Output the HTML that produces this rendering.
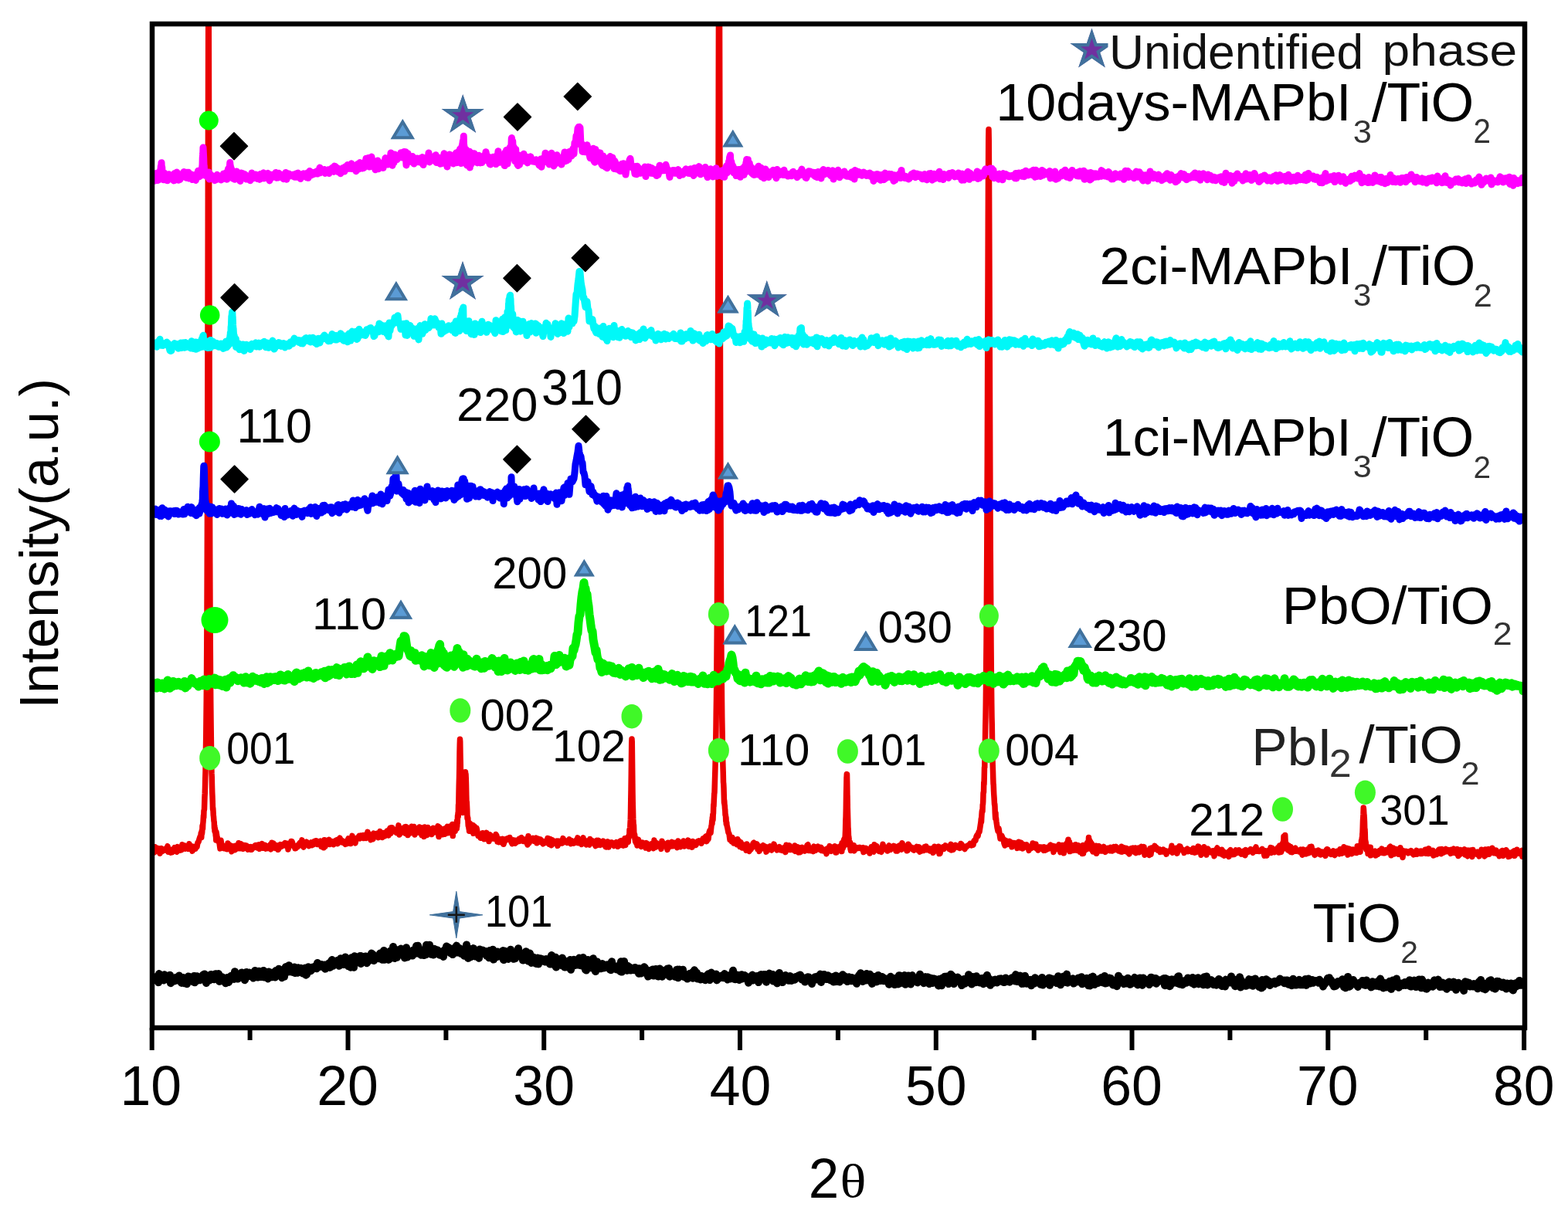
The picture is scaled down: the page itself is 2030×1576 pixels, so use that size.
<!DOCTYPE html>
<html><head><meta charset="utf-8"><title>XRD patterns</title>
<style>html,body{margin:0;padding:0;background:#fff;width:2030px;height:1576px;overflow:hidden}svg{display:block;filter:blur(0.6px)}</style>
</head><body>
<svg width="2030" height="1576" viewBox="0 0 2030 1576">
<defs><clipPath id="c"><rect x="197" y="31" width="1777" height="1300"/></clipPath></defs>
<rect width="2030" height="1576" fill="#fff"/>
<g clip-path="url(#c)">
<polyline points="199.00,1265.1 200.00,1269.1 201.00,1269.0 202.00,1266.3 203.00,1267.7 204.00,1266.5 205.00,1272.2 206.00,1261.1 207.00,1263.5 208.00,1262.6 209.00,1266.5 210.00,1265.5 211.00,1266.1 212.00,1269.4 213.00,1262.3 214.00,1264.5 215.00,1266.3 216.00,1263.6 217.00,1268.5 218.00,1268.6 219.00,1265.8 220.00,1262.8 221.00,1273.2 222.00,1269.7 223.00,1269.5 224.00,1268.4 225.00,1268.1 226.00,1270.5 227.00,1267.9 228.00,1265.7 229.00,1269.4 230.00,1267.1 231.00,1264.3 232.00,1263.5 233.00,1269.4 234.00,1268.4 235.00,1272.9 236.00,1266.0 237.00,1265.9 238.00,1269.9 239.00,1273.3 240.00,1270.8 241.00,1270.1 242.00,1274.2 243.00,1266.1 244.00,1264.4 245.00,1265.7 246.00,1266.7 247.00,1268.5 248.00,1270.2 249.00,1268.1 250.00,1271.2 251.00,1263.9 252.00,1272.3 253.00,1264.3 254.00,1270.4 255.00,1264.3 256.00,1268.3 257.00,1267.7 258.00,1268.8 259.00,1269.3 260.00,1266.2 261.00,1266.4 262.00,1267.2 263.00,1262.3 264.00,1264.1 265.00,1261.4 266.00,1266.3 267.00,1273.0 268.00,1268.6 269.00,1263.8 270.00,1264.3 271.00,1269.5 272.00,1265.2 273.00,1261.9 274.00,1263.7 275.00,1263.7 276.00,1263.5 277.00,1268.3 278.00,1266.2 279.00,1261.2 280.00,1263.7 281.00,1261.6 282.00,1261.6 283.00,1261.0 284.00,1270.9 285.00,1265.0 286.00,1267.9 287.00,1269.0 288.00,1265.3 289.00,1268.1 290.00,1268.2 291.00,1267.3 292.00,1273.3 293.00,1267.7 294.00,1266.1 295.00,1268.7 296.00,1272.0 297.00,1269.7 298.00,1265.2 299.00,1264.0 300.00,1263.5 301.00,1264.0 302.00,1266.9 303.00,1267.9 304.00,1258.2 305.00,1264.7 306.00,1261.5 307.00,1266.9 308.00,1267.6 309.00,1262.6 310.00,1263.7 311.00,1262.2 312.00,1265.8 313.00,1259.4 314.00,1260.4 315.00,1261.2 316.00,1266.5 317.00,1269.3 318.00,1262.6 319.00,1258.9 320.00,1262.9 321.00,1260.2 322.00,1264.2 323.00,1259.6 324.00,1261.8 325.00,1262.9 326.00,1264.4 327.00,1262.6 328.00,1266.6 329.00,1263.2 330.00,1257.0 331.00,1264.9 332.00,1260.9 333.00,1259.4 334.00,1265.6 335.00,1257.8 336.00,1261.0 337.00,1258.7 338.00,1265.0 339.00,1259.9 340.00,1261.8 341.00,1257.0 342.00,1265.6 343.00,1258.2 344.00,1264.3 345.00,1265.0 346.00,1265.5 347.00,1267.4 348.00,1258.4 349.00,1263.2 350.00,1262.4 351.00,1263.3 352.00,1265.3 353.00,1262.4 354.00,1259.2 355.00,1261.0 356.00,1265.6 357.00,1257.1 358.00,1260.5 359.00,1257.0 360.00,1263.2 361.00,1254.8 362.00,1258.6 363.00,1259.2 364.00,1259.8 365.00,1266.2 366.00,1263.7 367.00,1255.6 368.00,1264.8 369.00,1254.4 370.00,1252.0 371.00,1252.8 372.00,1257.7 373.00,1258.6 374.00,1250.2 375.00,1258.0 376.00,1255.8 377.00,1258.6 378.00,1255.2 379.00,1258.9 380.00,1257.7 381.00,1252.4 382.00,1260.1 383.00,1256.3 384.00,1258.0 385.00,1259.8 386.00,1253.2 387.00,1256.0 388.00,1254.0 389.00,1253.8 390.00,1257.3 391.00,1257.5 392.00,1260.4 393.00,1260.4 394.00,1256.1 395.00,1253.6 396.00,1262.7 397.00,1262.0 398.00,1254.9 399.00,1252.2 400.00,1253.4 401.00,1255.1 402.00,1257.4 403.00,1256.7 404.00,1254.8 405.00,1252.5 406.00,1253.5 407.00,1251.7 408.00,1252.9 409.00,1252.4 410.00,1254.3 411.00,1246.9 412.00,1251.7 413.00,1251.8 414.00,1249.0 415.00,1251.8 416.00,1248.9 417.00,1249.9 418.00,1250.9 419.00,1250.8 420.00,1249.6 421.00,1254.7 422.00,1251.5 423.00,1251.7 424.00,1251.1 425.00,1248.0 426.00,1247.3 427.00,1252.9 428.00,1249.0 429.00,1244.4 430.00,1243.0 431.00,1250.9 432.00,1247.4 433.00,1249.2 434.00,1247.2 435.00,1247.3 436.00,1247.7 437.00,1243.7 438.00,1247.6 439.00,1250.8 440.00,1249.7 441.00,1241.3 442.00,1242.4 443.00,1242.2 444.00,1245.6 445.00,1249.0 446.00,1246.9 447.00,1239.4 448.00,1245.3 449.00,1247.5 450.00,1243.2 451.00,1251.3 452.00,1242.4 453.00,1248.8 454.00,1252.7 455.00,1240.2 456.00,1243.5 457.00,1246.7 458.00,1252.8 459.00,1238.3 460.00,1246.6 461.00,1245.6 462.00,1242.7 463.00,1240.8 464.00,1241.6 465.00,1242.0 466.00,1238.1 467.00,1248.0 468.00,1238.1 469.00,1240.4 470.00,1239.3 471.00,1240.1 472.00,1241.7 473.00,1238.4 474.00,1240.2 475.00,1247.3 476.00,1244.7 477.00,1239.6 478.00,1243.9 479.00,1237.5 480.00,1241.0 481.00,1234.6 482.00,1235.4 483.00,1236.3 484.00,1244.0 485.00,1240.0 486.00,1241.0 487.00,1239.4 488.00,1240.0 489.00,1240.1 490.00,1241.2 491.00,1238.8 492.00,1234.6 493.00,1234.8 494.00,1242.2 495.00,1242.7 496.00,1239.3 497.00,1230.9 498.00,1242.8 499.00,1237.9 500.00,1236.2 501.00,1236.5 502.00,1235.0 503.00,1242.9 504.00,1242.4 505.00,1231.8 506.00,1234.8 507.00,1236.4 508.00,1239.8 509.00,1226.1 510.00,1238.3 511.00,1241.1 512.00,1233.7 513.00,1234.9 514.00,1239.8 515.00,1236.6 516.00,1229.9 517.00,1230.1 518.00,1230.3 519.00,1228.5 520.00,1233.4 521.00,1231.2 522.00,1233.5 523.00,1236.2 524.00,1240.5 525.00,1234.8 526.00,1227.2 527.00,1239.6 528.00,1233.6 529.00,1238.2 530.00,1231.8 531.00,1234.3 532.00,1232.4 533.00,1232.5 534.00,1237.5 535.00,1230.4 536.00,1233.6 537.00,1233.9 538.00,1231.7 539.00,1225.0 540.00,1234.6 541.00,1224.7 542.00,1227.7 543.00,1231.6 544.00,1235.0 545.00,1236.6 546.00,1236.3 547.00,1235.2 548.00,1231.4 549.00,1237.1 550.00,1231.4 551.00,1236.4 552.00,1223.8 553.00,1228.6 554.00,1230.0 555.00,1232.2 556.00,1223.7 557.00,1235.3 558.00,1235.6 559.00,1234.5 560.00,1229.3 561.00,1236.5 562.00,1228.7 563.00,1233.9 564.00,1230.4 565.00,1230.6 566.00,1230.2 567.00,1230.9 568.00,1235.2 569.00,1236.6 570.00,1236.8 571.00,1235.0 572.00,1234.4 573.00,1233.8 574.00,1238.9 575.00,1230.9 576.00,1229.9 577.00,1232.2 578.00,1225.5 579.00,1230.6 580.00,1231.0 581.00,1227.1 582.00,1229.0 583.00,1234.1 584.00,1230.9 585.00,1232.3 586.00,1236.1 587.00,1230.2 588.00,1227.9 589.00,1231.8 590.00,1233.2 591.00,1224.6 592.00,1233.6 593.00,1229.7 594.00,1229.5 595.00,1227.9 596.00,1230.6 597.00,1235.1 598.00,1233.6 599.00,1234.8 600.00,1230.4 601.00,1237.8 602.00,1236.7 603.00,1231.8 604.00,1223.4 605.00,1232.2 606.00,1240.9 607.00,1232.2 608.00,1228.8 609.00,1239.3 610.00,1230.8 611.00,1235.2 612.00,1236.4 613.00,1228.1 614.00,1234.3 615.00,1238.4 616.00,1232.9 617.00,1236.7 618.00,1234.0 619.00,1237.8 620.00,1240.7 621.00,1229.5 622.00,1232.3 623.00,1234.7 624.00,1231.1 625.00,1230.5 626.00,1232.5 627.00,1233.0 628.00,1231.8 629.00,1235.7 630.00,1237.8 631.00,1237.9 632.00,1238.0 633.00,1240.3 634.00,1231.0 635.00,1236.0 636.00,1236.9 637.00,1238.0 638.00,1229.7 639.00,1242.6 640.00,1232.0 641.00,1236.1 642.00,1237.9 643.00,1239.2 644.00,1232.5 645.00,1233.1 646.00,1236.5 647.00,1237.3 648.00,1238.7 649.00,1235.4 650.00,1233.2 651.00,1231.1 652.00,1243.0 653.00,1231.6 654.00,1239.4 655.00,1237.8 656.00,1239.7 657.00,1240.4 658.00,1241.9 659.00,1236.7 660.00,1238.4 661.00,1229.7 662.00,1237.2 663.00,1233.7 664.00,1236.6 665.00,1241.8 666.00,1237.5 667.00,1241.2 668.00,1236.3 669.00,1238.5 670.00,1235.4 671.00,1228.3 672.00,1234.8 673.00,1237.0 674.00,1239.1 675.00,1239.0 676.00,1239.0 677.00,1243.6 678.00,1242.3 679.00,1238.3 680.00,1243.0 681.00,1232.2 682.00,1238.5 683.00,1238.9 684.00,1244.6 685.00,1237.9 686.00,1234.6 687.00,1241.0 688.00,1246.9 689.00,1239.9 690.00,1240.3 691.00,1239.9 692.00,1240.8 693.00,1245.5 694.00,1247.9 695.00,1242.3 696.00,1240.6 697.00,1248.4 698.00,1242.3 699.00,1242.6 700.00,1241.5 701.00,1242.1 702.00,1244.3 703.00,1242.3 704.00,1245.0 705.00,1243.8 706.00,1245.6 707.00,1242.1 708.00,1242.9 709.00,1244.7 710.00,1244.2 711.00,1244.5 712.00,1248.6 713.00,1240.4 714.00,1237.1 715.00,1247.0 716.00,1243.3 717.00,1249.3 718.00,1243.8 719.00,1239.7 720.00,1252.5 721.00,1246.0 722.00,1243.0 723.00,1242.1 724.00,1247.2 725.00,1242.8 726.00,1246.9 727.00,1250.0 728.00,1240.6 729.00,1244.6 730.00,1248.0 731.00,1252.6 732.00,1250.0 733.00,1244.9 734.00,1252.2 735.00,1245.5 736.00,1246.4 737.00,1248.5 738.00,1243.0 739.00,1255.7 740.00,1251.6 741.00,1248.0 742.00,1245.0 743.00,1242.8 744.00,1248.6 745.00,1249.9 746.00,1245.8 747.00,1246.6 748.00,1249.5 749.00,1247.3 750.00,1240.6 751.00,1250.1 752.00,1248.6 753.00,1250.5 754.00,1245.0 755.00,1240.0 756.00,1243.3 757.00,1249.1 758.00,1255.7 759.00,1256.6 760.00,1249.3 761.00,1242.9 762.00,1247.1 763.00,1250.0 764.00,1250.1 765.00,1248.9 766.00,1253.5 767.00,1245.5 768.00,1241.2 769.00,1246.2 770.00,1245.4 771.00,1258.0 772.00,1249.6 773.00,1245.4 774.00,1252.8 775.00,1254.2 776.00,1250.8 777.00,1251.3 778.00,1254.3 779.00,1252.5 780.00,1248.1 781.00,1252.5 782.00,1253.5 783.00,1251.3 784.00,1253.0 785.00,1251.8 786.00,1249.3 787.00,1250.0 788.00,1253.0 789.00,1249.3 790.00,1255.6 791.00,1256.2 792.00,1245.3 793.00,1252.3 794.00,1250.2 795.00,1250.9 796.00,1253.8 797.00,1253.0 798.00,1255.4 799.00,1254.5 800.00,1254.6 801.00,1250.6 802.00,1252.0 803.00,1258.0 804.00,1245.3 805.00,1258.6 806.00,1250.9 807.00,1256.6 808.00,1244.9 809.00,1251.1 810.00,1255.6 811.00,1253.6 812.00,1256.8 813.00,1251.0 814.00,1252.4 815.00,1252.4 816.00,1256.4 817.00,1256.5 818.00,1254.9 819.00,1254.6 820.00,1254.8 821.00,1256.2 822.00,1252.9 823.00,1255.8 824.00,1255.6 825.00,1254.4 826.00,1254.3 827.00,1260.8 828.00,1254.2 829.00,1257.5 830.00,1260.5 831.00,1258.6 832.00,1256.3 833.00,1259.5 834.00,1252.3 835.00,1253.3 836.00,1256.3 837.00,1257.3 838.00,1258.1 839.00,1264.6 840.00,1264.1 841.00,1258.9 842.00,1259.9 843.00,1256.5 844.00,1260.3 845.00,1255.4 846.00,1263.6 847.00,1257.6 848.00,1260.7 849.00,1254.9 850.00,1262.9 851.00,1260.4 852.00,1264.6 853.00,1259.2 854.00,1254.4 855.00,1257.1 856.00,1255.9 857.00,1264.7 858.00,1258.1 859.00,1257.8 860.00,1261.9 861.00,1260.9 862.00,1261.7 863.00,1258.7 864.00,1254.4 865.00,1256.5 866.00,1254.1 867.00,1264.7 868.00,1263.8 869.00,1260.1 870.00,1263.3 871.00,1263.6 872.00,1263.7 873.00,1263.6 874.00,1264.9 875.00,1262.7 876.00,1255.8 877.00,1255.6 878.00,1266.3 879.00,1264.3 880.00,1255.6 881.00,1263.1 882.00,1259.9 883.00,1260.9 884.00,1255.7 885.00,1264.9 886.00,1262.4 887.00,1265.1 888.00,1265.9 889.00,1266.5 890.00,1267.6 891.00,1263.6 892.00,1263.4 893.00,1260.8 894.00,1264.4 895.00,1262.2 896.00,1259.4 897.00,1266.7 898.00,1265.3 899.00,1256.3 900.00,1257.9 901.00,1262.9 902.00,1259.7 903.00,1267.5 904.00,1264.5 905.00,1265.8 906.00,1267.1 907.00,1268.5 908.00,1263.8 909.00,1266.7 910.00,1265.7 911.00,1267.6 912.00,1266.7 913.00,1269.3 914.00,1266.5 915.00,1263.3 916.00,1265.0 917.00,1261.2 918.00,1265.5 919.00,1269.1 920.00,1262.7 921.00,1259.5 922.00,1264.3 923.00,1263.0 924.00,1264.5 925.00,1262.8 926.00,1264.9 927.00,1261.6 928.00,1269.4 929.00,1264.1 930.00,1266.3 931.00,1267.0 932.00,1264.3 933.00,1266.1 934.00,1264.0 935.00,1263.3 936.00,1264.1 937.00,1266.3 938.00,1261.1 939.00,1262.3 940.00,1262.7 941.00,1263.5 942.00,1268.5 943.00,1264.7 944.00,1263.7 945.00,1264.8 946.00,1267.4 947.00,1261.7 948.00,1267.0 949.00,1256.8 950.00,1261.0 951.00,1268.1 952.00,1268.2 953.00,1264.0 954.00,1262.4 955.00,1266.4 956.00,1262.9 957.00,1269.0 958.00,1268.1 959.00,1267.1 960.00,1262.2 961.00,1267.6 962.00,1263.8 963.00,1263.8 964.00,1263.2 965.00,1264.0 966.00,1266.2 967.00,1267.7 968.00,1268.1 969.00,1272.7 970.00,1265.3 971.00,1270.2 972.00,1264.5 973.00,1265.7 974.00,1262.6 975.00,1269.5 976.00,1266.4 977.00,1265.8 978.00,1265.1 979.00,1268.2 980.00,1263.9 981.00,1266.7 982.00,1272.1 983.00,1265.0 984.00,1263.4 985.00,1262.1 986.00,1267.5 987.00,1265.1 988.00,1262.4 989.00,1262.1 990.00,1264.9 991.00,1262.1 992.00,1271.7 993.00,1265.0 994.00,1265.3 995.00,1265.9 996.00,1260.6 997.00,1261.6 998.00,1264.7 999.00,1265.6 1000.00,1261.9 1001.00,1270.6 1002.00,1267.1 1003.00,1269.9 1004.00,1269.8 1005.00,1265.8 1006.00,1273.4 1007.00,1267.4 1008.00,1261.3 1009.00,1259.9 1010.00,1267.0 1011.00,1269.6 1012.00,1267.1 1013.00,1272.1 1014.00,1265.8 1015.00,1268.2 1016.00,1268.5 1017.00,1263.0 1018.00,1266.8 1019.00,1266.8 1020.00,1269.2 1021.00,1269.7 1022.00,1269.2 1023.00,1264.1 1024.00,1268.8 1025.00,1270.0 1026.00,1266.5 1027.00,1268.2 1028.00,1267.9 1029.00,1268.7 1030.00,1265.0 1031.00,1265.8 1032.00,1265.2 1033.00,1265.1 1034.00,1263.4 1035.00,1264.5 1036.00,1262.4 1037.00,1265.5 1038.00,1268.4 1039.00,1268.5 1040.00,1269.1 1041.00,1266.8 1042.00,1271.6 1043.00,1266.3 1044.00,1270.0 1045.00,1268.9 1046.00,1265.3 1047.00,1265.4 1048.00,1269.7 1049.00,1267.6 1050.00,1268.2 1051.00,1274.0 1052.00,1269.0 1053.00,1267.6 1054.00,1269.3 1055.00,1265.3 1056.00,1266.5 1057.00,1268.4 1058.00,1264.6 1059.00,1266.9 1060.00,1266.5 1061.00,1267.3 1062.00,1261.6 1063.00,1272.0 1064.00,1266.3 1065.00,1268.0 1066.00,1263.1 1067.00,1262.1 1068.00,1266.1 1069.00,1265.1 1070.00,1268.0 1071.00,1263.4 1072.00,1263.2 1073.00,1267.2 1074.00,1268.5 1075.00,1269.4 1076.00,1266.8 1077.00,1267.9 1078.00,1264.9 1079.00,1271.5 1080.00,1271.2 1081.00,1271.3 1082.00,1263.4 1083.00,1271.1 1084.00,1266.5 1085.00,1270.3 1086.00,1269.6 1087.00,1271.5 1088.00,1266.8 1089.00,1265.8 1090.00,1263.3 1091.00,1262.3 1092.00,1267.9 1093.00,1263.9 1094.00,1269.0 1095.00,1266.2 1096.00,1266.1 1097.00,1271.0 1098.00,1270.7 1099.00,1265.2 1100.00,1267.7 1101.00,1268.2 1102.00,1270.2 1103.00,1266.0 1104.00,1267.0 1105.00,1268.0 1106.00,1270.4 1107.00,1271.1 1108.00,1266.8 1109.00,1273.8 1110.00,1269.5 1111.00,1265.7 1112.00,1263.2 1113.00,1266.1 1114.00,1260.3 1115.00,1267.6 1116.00,1268.8 1117.00,1271.0 1118.00,1268.7 1119.00,1262.2 1120.00,1266.5 1121.00,1269.5 1122.00,1261.0 1123.00,1265.1 1124.00,1269.5 1125.00,1267.9 1126.00,1261.8 1127.00,1266.4 1128.00,1267.8 1129.00,1273.9 1130.00,1266.2 1131.00,1264.7 1132.00,1268.0 1133.00,1268.1 1134.00,1268.8 1135.00,1271.4 1136.00,1266.9 1137.00,1262.9 1138.00,1267.1 1139.00,1267.1 1140.00,1270.0 1141.00,1269.6 1142.00,1265.0 1143.00,1269.5 1144.00,1270.3 1145.00,1266.8 1146.00,1270.3 1147.00,1268.1 1148.00,1268.2 1149.00,1267.4 1150.00,1270.3 1151.00,1274.8 1152.00,1268.8 1153.00,1264.7 1154.00,1267.6 1155.00,1266.6 1156.00,1269.4 1157.00,1268.0 1158.00,1275.1 1159.00,1270.6 1160.00,1273.9 1161.00,1266.2 1162.00,1267.6 1163.00,1274.4 1164.00,1263.2 1165.00,1268.7 1166.00,1263.6 1167.00,1272.9 1168.00,1264.1 1169.00,1267.4 1170.00,1267.7 1171.00,1263.1 1172.00,1274.8 1173.00,1267.4 1174.00,1272.8 1175.00,1265.7 1176.00,1263.4 1177.00,1268.4 1178.00,1268.3 1179.00,1274.5 1180.00,1264.6 1181.00,1263.1 1182.00,1265.9 1183.00,1269.2 1184.00,1270.2 1185.00,1266.5 1186.00,1268.0 1187.00,1270.9 1188.00,1272.4 1189.00,1267.2 1190.00,1269.2 1191.00,1261.7 1192.00,1265.6 1193.00,1269.7 1194.00,1268.3 1195.00,1267.8 1196.00,1273.2 1197.00,1267.5 1198.00,1265.1 1199.00,1269.0 1200.00,1269.2 1201.00,1265.3 1202.00,1271.8 1203.00,1274.1 1204.00,1267.4 1205.00,1266.6 1206.00,1269.1 1207.00,1273.1 1208.00,1267.7 1209.00,1267.3 1210.00,1267.7 1211.00,1270.3 1212.00,1270.2 1213.00,1269.1 1214.00,1273.2 1215.00,1276.4 1216.00,1267.9 1217.00,1272.8 1218.00,1270.4 1219.00,1276.2 1220.00,1266.7 1221.00,1268.2 1222.00,1269.4 1223.00,1264.7 1224.00,1268.3 1225.00,1271.0 1226.00,1264.5 1227.00,1269.2 1228.00,1274.1 1229.00,1266.9 1230.00,1266.0 1231.00,1261.8 1232.00,1268.5 1233.00,1264.0 1234.00,1270.6 1235.00,1274.0 1236.00,1270.7 1237.00,1266.6 1238.00,1271.0 1239.00,1267.6 1240.00,1265.6 1241.00,1267.5 1242.00,1269.9 1243.00,1268.2 1244.00,1271.1 1245.00,1276.1 1246.00,1271.7 1247.00,1272.3 1248.00,1267.9 1249.00,1273.7 1250.00,1270.6 1251.00,1272.5 1252.00,1267.0 1253.00,1269.9 1254.00,1262.2 1255.00,1268.2 1256.00,1266.8 1257.00,1266.3 1258.00,1274.6 1259.00,1264.9 1260.00,1268.9 1261.00,1268.9 1262.00,1270.8 1263.00,1272.2 1264.00,1264.2 1265.00,1267.4 1266.00,1267.1 1267.00,1271.5 1268.00,1272.4 1269.00,1268.5 1270.00,1268.3 1271.00,1267.1 1272.00,1270.8 1273.00,1274.2 1274.00,1269.9 1275.00,1266.2 1276.00,1265.4 1277.00,1265.3 1278.00,1262.8 1279.00,1273.3 1280.00,1268.6 1281.00,1267.8 1282.00,1275.8 1283.00,1270.1 1284.00,1273.9 1285.00,1270.4 1286.00,1272.9 1287.00,1269.9 1288.00,1268.6 1289.00,1271.0 1290.00,1271.7 1291.00,1272.5 1292.00,1269.6 1293.00,1268.0 1294.00,1267.4 1295.00,1269.2 1296.00,1267.3 1297.00,1268.2 1298.00,1271.3 1299.00,1271.8 1300.00,1272.1 1301.00,1268.7 1302.00,1266.4 1303.00,1271.2 1304.00,1270.4 1305.00,1268.7 1306.00,1270.1 1307.00,1271.7 1308.00,1268.6 1309.00,1270.4 1310.00,1266.3 1311.00,1268.6 1312.00,1266.7 1313.00,1264.9 1314.00,1270.4 1315.00,1262.1 1316.00,1268.7 1317.00,1271.1 1318.00,1269.9 1319.00,1263.9 1320.00,1269.5 1321.00,1263.6 1322.00,1266.7 1323.00,1273.9 1324.00,1270.4 1325.00,1273.7 1326.00,1266.8 1327.00,1263.8 1328.00,1267.7 1329.00,1273.7 1330.00,1272.5 1331.00,1272.9 1332.00,1269.1 1333.00,1269.2 1334.00,1268.8 1335.00,1276.2 1336.00,1269.5 1337.00,1274.4 1338.00,1268.7 1339.00,1273.5 1340.00,1266.2 1341.00,1268.1 1342.00,1270.8 1343.00,1268.1 1344.00,1268.7 1345.00,1269.5 1346.00,1268.4 1347.00,1274.8 1348.00,1273.6 1349.00,1266.0 1350.00,1275.5 1351.00,1270.3 1352.00,1270.4 1353.00,1270.1 1354.00,1273.3 1355.00,1272.9 1356.00,1269.0 1357.00,1270.6 1358.00,1266.4 1359.00,1275.8 1360.00,1267.6 1361.00,1267.3 1362.00,1267.7 1363.00,1270.1 1364.00,1271.8 1365.00,1268.3 1366.00,1269.3 1367.00,1268.1 1368.00,1273.0 1369.00,1269.9 1370.00,1264.2 1371.00,1273.8 1372.00,1270.4 1373.00,1275.3 1374.00,1267.4 1375.00,1267.6 1376.00,1268.3 1377.00,1264.4 1378.00,1267.3 1379.00,1271.9 1380.00,1270.5 1381.00,1261.6 1382.00,1272.7 1383.00,1270.1 1384.00,1271.7 1385.00,1269.6 1386.00,1270.3 1387.00,1270.1 1388.00,1270.2 1389.00,1267.2 1390.00,1273.6 1391.00,1271.4 1392.00,1271.8 1393.00,1271.7 1394.00,1269.7 1395.00,1270.4 1396.00,1266.5 1397.00,1271.3 1398.00,1271.3 1399.00,1269.7 1400.00,1265.2 1401.00,1274.3 1402.00,1269.7 1403.00,1270.1 1404.00,1269.2 1405.00,1268.3 1406.00,1268.8 1407.00,1266.7 1408.00,1268.3 1409.00,1276.2 1410.00,1273.8 1411.00,1276.5 1412.00,1268.9 1413.00,1265.4 1414.00,1267.2 1415.00,1264.6 1416.00,1274.7 1417.00,1274.9 1418.00,1271.4 1419.00,1272.1 1420.00,1271.9 1421.00,1270.2 1422.00,1272.9 1423.00,1267.7 1424.00,1269.5 1425.00,1270.5 1426.00,1265.9 1427.00,1268.1 1428.00,1272.4 1429.00,1272.1 1430.00,1263.9 1431.00,1273.6 1432.00,1271.9 1433.00,1273.1 1434.00,1270.4 1435.00,1272.3 1436.00,1266.5 1437.00,1269.6 1438.00,1266.9 1439.00,1268.4 1440.00,1273.8 1441.00,1275.5 1442.00,1271.0 1443.00,1269.9 1444.00,1273.8 1445.00,1273.2 1446.00,1277.2 1447.00,1273.0 1448.00,1263.7 1449.00,1270.5 1450.00,1269.0 1451.00,1267.2 1452.00,1270.0 1453.00,1269.8 1454.00,1268.6 1455.00,1274.2 1456.00,1270.8 1457.00,1270.9 1458.00,1270.3 1459.00,1273.6 1460.00,1266.7 1461.00,1273.8 1462.00,1269.5 1463.00,1274.8 1464.00,1274.6 1465.00,1271.8 1466.00,1268.9 1467.00,1271.1 1468.00,1271.3 1469.00,1265.8 1470.00,1269.2 1471.00,1268.1 1472.00,1274.4 1473.00,1275.4 1474.00,1268.1 1475.00,1268.8 1476.00,1266.4 1477.00,1271.1 1478.00,1272.8 1479.00,1275.7 1480.00,1266.5 1481.00,1273.1 1482.00,1270.1 1483.00,1268.6 1484.00,1270.0 1485.00,1269.0 1486.00,1272.8 1487.00,1271.7 1488.00,1275.1 1489.00,1269.9 1490.00,1265.7 1491.00,1268.2 1492.00,1272.1 1493.00,1266.6 1494.00,1268.8 1495.00,1272.7 1496.00,1267.0 1497.00,1273.7 1498.00,1272.2 1499.00,1269.5 1500.00,1270.9 1501.00,1269.2 1502.00,1269.3 1503.00,1269.3 1504.00,1270.0 1505.00,1269.5 1506.00,1267.6 1507.00,1267.0 1508.00,1276.2 1509.00,1266.9 1510.00,1269.8 1511.00,1274.0 1512.00,1273.6 1513.00,1268.7 1514.00,1277.2 1515.00,1276.7 1516.00,1270.8 1517.00,1268.3 1518.00,1273.6 1519.00,1270.8 1520.00,1270.2 1521.00,1268.4 1522.00,1268.7 1523.00,1270.7 1524.00,1273.2 1525.00,1264.6 1526.00,1264.2 1527.00,1274.4 1528.00,1269.3 1529.00,1274.2 1530.00,1272.2 1531.00,1275.3 1532.00,1274.0 1533.00,1270.2 1534.00,1270.2 1535.00,1271.4 1536.00,1272.8 1537.00,1268.9 1538.00,1266.4 1539.00,1271.5 1540.00,1271.2 1541.00,1271.1 1542.00,1268.4 1543.00,1273.0 1544.00,1265.9 1545.00,1269.5 1546.00,1274.7 1547.00,1267.3 1548.00,1272.1 1549.00,1272.3 1550.00,1272.4 1551.00,1266.2 1552.00,1274.4 1553.00,1272.0 1554.00,1272.9 1555.00,1272.2 1556.00,1271.3 1557.00,1274.7 1558.00,1275.2 1559.00,1265.2 1560.00,1268.5 1561.00,1270.4 1562.00,1264.5 1563.00,1275.5 1564.00,1268.9 1565.00,1273.0 1566.00,1272.2 1567.00,1271.2 1568.00,1269.1 1569.00,1271.3 1570.00,1272.9 1571.00,1275.2 1572.00,1272.0 1573.00,1271.2 1574.00,1271.4 1575.00,1275.7 1576.00,1272.4 1577.00,1269.3 1578.00,1267.9 1579.00,1270.7 1580.00,1269.6 1581.00,1271.4 1582.00,1277.0 1583.00,1275.4 1584.00,1273.6 1585.00,1273.9 1586.00,1277.5 1587.00,1268.6 1588.00,1273.0 1589.00,1270.7 1590.00,1271.7 1591.00,1271.4 1592.00,1270.1 1593.00,1272.6 1594.00,1264.4 1595.00,1271.7 1596.00,1273.0 1597.00,1268.3 1598.00,1268.4 1599.00,1277.2 1600.00,1269.0 1601.00,1270.7 1602.00,1269.5 1603.00,1269.9 1604.00,1269.7 1605.00,1265.3 1606.00,1278.4 1607.00,1269.4 1608.00,1273.0 1609.00,1271.9 1610.00,1276.4 1611.00,1274.8 1612.00,1276.4 1613.00,1276.8 1614.00,1275.7 1615.00,1273.2 1616.00,1275.7 1617.00,1268.1 1618.00,1275.4 1619.00,1274.7 1620.00,1273.6 1621.00,1268.8 1622.00,1276.8 1623.00,1270.8 1624.00,1274.7 1625.00,1267.4 1626.00,1272.3 1627.00,1270.9 1628.00,1270.4 1629.00,1270.7 1630.00,1277.9 1631.00,1272.4 1632.00,1273.8 1633.00,1279.4 1634.00,1269.0 1635.00,1278.1 1636.00,1272.7 1637.00,1272.2 1638.00,1272.6 1639.00,1268.2 1640.00,1268.8 1641.00,1269.8 1642.00,1271.3 1643.00,1274.9 1644.00,1276.0 1645.00,1271.6 1646.00,1273.8 1647.00,1273.9 1648.00,1271.9 1649.00,1273.3 1650.00,1270.7 1651.00,1273.9 1652.00,1271.4 1653.00,1272.0 1654.00,1272.5 1655.00,1272.0 1656.00,1269.4 1657.00,1267.5 1658.00,1271.3 1659.00,1269.8 1660.00,1269.9 1661.00,1271.2 1662.00,1269.6 1663.00,1273.2 1664.00,1273.2 1665.00,1269.4 1666.00,1273.4 1667.00,1269.6 1668.00,1274.7 1669.00,1274.5 1670.00,1272.8 1671.00,1275.6 1672.00,1276.1 1673.00,1274.5 1674.00,1267.7 1675.00,1273.6 1676.00,1273.8 1677.00,1275.6 1678.00,1270.3 1679.00,1275.4 1680.00,1274.1 1681.00,1273.9 1682.00,1268.8 1683.00,1269.6 1684.00,1275.3 1685.00,1274.1 1686.00,1271.6 1687.00,1275.3 1688.00,1273.1 1689.00,1271.2 1690.00,1268.0 1691.00,1275.9 1692.00,1272.4 1693.00,1273.5 1694.00,1267.4 1695.00,1271.1 1696.00,1273.6 1697.00,1271.9 1698.00,1270.3 1699.00,1269.0 1700.00,1272.8 1701.00,1270.9 1702.00,1270.8 1703.00,1270.8 1704.00,1270.0 1705.00,1271.1 1706.00,1270.5 1707.00,1272.7 1708.00,1268.7 1709.00,1269.8 1710.00,1272.8 1711.00,1271.8 1712.00,1272.4 1713.00,1277.6 1714.00,1273.5 1715.00,1274.3 1716.00,1272.5 1717.00,1271.3 1718.00,1269.6 1719.00,1266.8 1720.00,1268.5 1721.00,1266.2 1722.00,1270.0 1723.00,1268.9 1724.00,1271.1 1725.00,1274.2 1726.00,1273.4 1727.00,1277.5 1728.00,1277.1 1729.00,1277.0 1730.00,1276.1 1731.00,1273.9 1732.00,1271.1 1733.00,1273.6 1734.00,1271.6 1735.00,1271.9 1736.00,1273.9 1737.00,1269.6 1738.00,1268.2 1739.00,1274.1 1740.00,1278.2 1741.00,1276.0 1742.00,1279.3 1743.00,1268.0 1744.00,1270.0 1745.00,1264.9 1746.00,1269.3 1747.00,1277.7 1748.00,1277.0 1749.00,1269.4 1750.00,1271.6 1751.00,1270.3 1752.00,1269.0 1753.00,1272.4 1754.00,1272.4 1755.00,1273.9 1756.00,1274.6 1757.00,1276.1 1758.00,1277.9 1759.00,1273.4 1760.00,1272.7 1761.00,1273.2 1762.00,1274.2 1763.00,1272.3 1764.00,1269.9 1765.00,1271.5 1766.00,1275.4 1767.00,1270.3 1768.00,1275.9 1769.00,1269.5 1770.00,1275.4 1771.00,1275.3 1772.00,1272.9 1773.00,1273.4 1774.00,1272.8 1775.00,1278.4 1776.00,1272.2 1777.00,1271.3 1778.00,1274.6 1779.00,1276.8 1780.00,1274.5 1781.00,1273.1 1782.00,1276.7 1783.00,1271.5 1784.00,1271.5 1785.00,1270.2 1786.00,1277.6 1787.00,1267.5 1788.00,1270.3 1789.00,1274.9 1790.00,1275.5 1791.00,1279.5 1792.00,1275.6 1793.00,1273.0 1794.00,1278.6 1795.00,1277.8 1796.00,1278.2 1797.00,1278.0 1798.00,1276.5 1799.00,1270.8 1800.00,1271.9 1801.00,1280.9 1802.00,1275.1 1803.00,1269.5 1804.00,1275.1 1805.00,1277.7 1806.00,1275.9 1807.00,1274.6 1808.00,1267.5 1809.00,1274.4 1810.00,1273.6 1811.00,1278.8 1812.00,1274.2 1813.00,1274.3 1814.00,1273.4 1815.00,1274.6 1816.00,1276.1 1817.00,1274.0 1818.00,1272.9 1819.00,1271.9 1820.00,1275.9 1821.00,1274.5 1822.00,1274.6 1823.00,1271.0 1824.00,1272.7 1825.00,1269.2 1826.00,1277.3 1827.00,1277.6 1828.00,1274.9 1829.00,1273.0 1830.00,1275.0 1831.00,1269.6 1832.00,1270.4 1833.00,1278.1 1834.00,1271.8 1835.00,1275.1 1836.00,1273.3 1837.00,1268.4 1838.00,1273.3 1839.00,1277.8 1840.00,1279.3 1841.00,1268.6 1842.00,1270.8 1843.00,1273.8 1844.00,1278.5 1845.00,1279.2 1846.00,1280.3 1847.00,1280.7 1848.00,1274.4 1849.00,1272.6 1850.00,1278.3 1851.00,1274.7 1852.00,1275.6 1853.00,1274.4 1854.00,1274.0 1855.00,1277.7 1856.00,1271.7 1857.00,1269.3 1858.00,1272.2 1859.00,1274.3 1860.00,1273.3 1861.00,1273.9 1862.00,1268.6 1863.00,1272.0 1864.00,1278.0 1865.00,1274.4 1866.00,1272.7 1867.00,1277.8 1868.00,1272.6 1869.00,1276.3 1870.00,1274.4 1871.00,1274.8 1872.00,1276.9 1873.00,1280.8 1874.00,1278.2 1875.00,1272.1 1876.00,1271.6 1877.00,1274.2 1878.00,1275.0 1879.00,1277.9 1880.00,1276.2 1881.00,1277.0 1882.00,1271.6 1883.00,1276.9 1884.00,1278.4 1885.00,1281.8 1886.00,1278.9 1887.00,1276.6 1888.00,1272.7 1889.00,1276.0 1890.00,1276.1 1891.00,1275.7 1892.00,1276.6 1893.00,1277.7 1894.00,1277.5 1895.00,1282.9 1896.00,1273.2 1897.00,1271.2 1898.00,1276.9 1899.00,1271.9 1900.00,1274.8 1901.00,1275.0 1902.00,1272.8 1903.00,1277.5 1904.00,1277.0 1905.00,1275.5 1906.00,1276.8 1907.00,1277.5 1908.00,1274.0 1909.00,1276.7 1910.00,1275.4 1911.00,1275.0 1912.00,1273.6 1913.00,1280.2 1914.00,1276.1 1915.00,1271.1 1916.00,1277.0 1917.00,1269.0 1918.00,1276.7 1919.00,1278.3 1920.00,1280.2 1921.00,1276.4 1922.00,1273.6 1923.00,1281.4 1924.00,1278.6 1925.00,1279.2 1926.00,1274.7 1927.00,1277.3 1928.00,1270.2 1929.00,1277.0 1930.00,1269.3 1931.00,1272.5 1932.00,1271.5 1933.00,1279.5 1934.00,1279.1 1935.00,1274.9 1936.00,1280.6 1937.00,1277.4 1938.00,1270.8 1939.00,1275.2 1940.00,1270.9 1941.00,1275.9 1942.00,1276.4 1943.00,1272.8 1944.00,1277.5 1945.00,1278.3 1946.00,1272.5 1947.00,1276.9 1948.00,1275.0 1949.00,1274.5 1950.00,1280.5 1951.00,1273.5 1952.00,1274.7 1953.00,1275.7 1954.00,1277.7 1955.00,1278.4 1956.00,1273.4 1957.00,1280.3 1958.00,1281.8 1959.00,1282.4 1960.00,1277.0 1961.00,1275.0 1962.00,1273.3 1963.00,1277.6 1964.00,1276.4 1965.00,1276.4 1966.00,1274.7 1967.00,1270.0 1968.00,1275.6 1969.00,1275.8 1970.00,1275.1 1971.00,1271.8 1972.00,1275.0 1973.00,1275.3" fill="none" stroke="#000000" stroke-width="10.00" stroke-linejoin="round" stroke-linecap="round"/>
<polyline points="199.00,1102.7 200.00,1103.7 201.00,1096.8 202.00,1101.2 203.00,1102.0 204.00,1101.4 205.00,1098.5 206.00,1102.8 207.00,1105.2 208.00,1100.4 209.00,1098.7 210.00,1102.6 211.00,1100.7 212.00,1100.9 213.00,1101.2 214.00,1099.5 215.00,1100.6 216.00,1098.8 217.00,1095.7 218.00,1103.3 219.00,1101.5 220.00,1100.6 221.00,1104.2 222.00,1100.4 223.00,1103.6 224.00,1102.8 225.00,1100.0 226.00,1097.6 227.00,1101.9 228.00,1101.2 229.00,1103.1 230.00,1096.6 231.00,1100.2 232.00,1101.0 233.00,1101.2 234.00,1100.4 235.00,1100.6 236.00,1093.8 237.00,1098.6 238.00,1097.4 239.00,1094.9 240.00,1099.1 241.00,1097.8 242.00,1095.8 243.00,1095.1 244.00,1099.4 245.00,1092.7 246.00,1098.0 247.00,1095.2 248.00,1098.0 249.00,1102.2 250.00,1099.5 251.00,1096.4 252.00,1099.4 253.00,1099.3 254.00,1095.9 255.00,1096.7 256.00,1091.1 257.00,1090.3 258.00,1086.8 259.00,1083.8 260.00,1081.8 260.25,1078.9 260.50,1079.7 260.75,1084.5 261.00,1079.6 261.25,1076.1 261.50,1079.6 261.75,1077.4 262.00,1069.5 262.25,1068.7 262.50,1073.0 262.75,1066.7 263.00,1064.6 263.25,1060.3 263.50,1055.9 263.75,1058.4 264.00,1049.9 264.25,1049.3 264.50,1048.1 264.75,1039.7 265.00,1031.9 265.25,1027.4 265.50,1019.5 265.75,1008.0 266.00,999.4 266.25,983.4 266.50,967.5 266.75,953.2 267.00,929.2 267.25,906.5 267.50,876.4 267.75,838.1 268.00,793.2 268.25,723.9 268.50,646.0 268.75,546.1 269.00,421.7 269.25,286.3 269.50,132.0 269.75,15.8 270.00,-30.1 270.25,22.1 270.50,133.1 270.75,279.2 271.00,427.3 271.25,545.6 271.50,641.7 271.75,729.0 272.00,790.8 272.25,833.9 272.50,873.5 272.75,908.0 273.00,931.1 273.25,950.7 273.50,968.8 273.75,991.0 274.00,1001.4 274.25,1006.4 274.50,1017.6 274.75,1026.0 275.00,1031.5 275.25,1038.2 275.50,1048.0 275.75,1046.4 276.00,1050.2 276.25,1055.7 276.50,1057.3 276.75,1060.8 277.00,1063.5 277.25,1064.4 277.50,1072.3 277.75,1069.4 278.00,1076.3 278.25,1072.4 278.50,1073.8 278.75,1078.2 279.00,1078.2 279.25,1082.2 279.50,1082.9 279.75,1088.1 280.00,1077.6 281.00,1083.8 282.00,1088.7 283.00,1090.0 284.00,1091.8 285.00,1098.9 286.00,1088.3 287.00,1096.3 288.00,1094.5 289.00,1095.5 290.00,1098.6 291.00,1095.8 292.00,1098.2 293.00,1099.6 294.00,1099.7 295.00,1092.0 296.00,1095.3 297.00,1093.9 298.00,1095.3 299.00,1097.0 300.00,1102.8 301.00,1095.7 302.00,1096.5 303.00,1096.6 304.00,1100.8 305.00,1095.3 306.00,1098.0 307.00,1099.0 308.00,1098.4 309.00,1091.8 310.00,1093.6 311.00,1098.8 312.00,1092.8 313.00,1097.0 314.00,1094.0 315.00,1099.2 316.00,1098.3 317.00,1094.6 318.00,1097.6 319.00,1095.0 320.00,1095.9 321.00,1100.1 322.00,1097.1 323.00,1096.8 324.00,1100.1 325.00,1096.7 326.00,1100.1 327.00,1098.0 328.00,1097.9 329.00,1096.6 330.00,1095.1 331.00,1094.4 332.00,1094.4 333.00,1097.9 334.00,1097.4 335.00,1093.9 336.00,1099.2 337.00,1094.4 338.00,1095.1 339.00,1092.5 340.00,1093.9 341.00,1098.3 342.00,1097.1 343.00,1094.3 344.00,1099.1 345.00,1095.7 346.00,1096.1 347.00,1098.5 348.00,1097.2 349.00,1095.4 350.00,1093.7 351.00,1099.9 352.00,1091.3 353.00,1095.4 354.00,1092.2 355.00,1094.9 356.00,1098.3 357.00,1095.1 358.00,1094.6 359.00,1095.2 360.00,1100.3 361.00,1098.8 362.00,1095.8 363.00,1093.6 364.00,1094.1 365.00,1096.0 366.00,1094.5 367.00,1094.8 368.00,1092.5 369.00,1091.6 370.00,1092.3 371.00,1095.7 372.00,1092.3 373.00,1100.1 374.00,1095.0 375.00,1094.8 376.00,1095.2 377.00,1089.5 378.00,1089.7 379.00,1092.5 380.00,1095.1 381.00,1095.5 382.00,1098.8 383.00,1098.6 384.00,1097.2 385.00,1096.9 386.00,1094.2 387.00,1095.2 388.00,1091.8 389.00,1090.9 390.00,1094.4 391.00,1087.9 392.00,1095.7 393.00,1097.0 394.00,1091.1 395.00,1094.3 396.00,1093.0 397.00,1090.2 398.00,1093.7 399.00,1094.3 400.00,1095.6 401.00,1092.3 402.00,1093.2 403.00,1091.0 404.00,1094.7 405.00,1091.6 406.00,1093.7 407.00,1089.5 408.00,1091.4 409.00,1088.7 410.00,1088.9 411.00,1093.5 412.00,1090.1 413.00,1090.2 414.00,1092.5 415.00,1089.0 416.00,1096.2 417.00,1089.7 418.00,1091.0 419.00,1097.8 420.00,1087.7 421.00,1096.2 422.00,1092.5 423.00,1092.5 424.00,1088.2 425.00,1091.1 426.00,1087.4 427.00,1093.5 428.00,1090.3 429.00,1089.3 430.00,1089.8 431.00,1090.8 432.00,1093.7 433.00,1092.0 434.00,1088.7 435.00,1088.3 436.00,1087.7 437.00,1092.6 438.00,1091.6 439.00,1086.9 440.00,1085.2 441.00,1089.5 442.00,1087.9 443.00,1090.9 444.00,1089.2 445.00,1090.8 446.00,1092.3 447.00,1093.2 448.00,1089.7 449.00,1092.7 450.00,1088.4 451.00,1086.0 452.00,1089.8 453.00,1092.3 454.00,1092.5 455.00,1087.4 456.00,1082.4 457.00,1088.9 458.00,1087.3 459.00,1090.1 460.00,1091.7 461.00,1087.0 462.00,1085.4 463.00,1085.8 464.00,1084.2 465.00,1082.5 466.00,1085.8 467.00,1082.0 468.00,1083.2 469.00,1082.8 470.00,1081.6 471.00,1085.5 472.00,1081.6 473.00,1082.7 474.00,1085.5 475.00,1082.1 476.00,1077.4 477.00,1080.6 478.00,1080.4 479.00,1084.1 480.00,1087.6 481.00,1082.4 482.00,1081.2 483.00,1086.7 484.00,1079.1 485.00,1082.5 486.00,1082.7 487.00,1080.4 488.00,1079.5 489.00,1080.3 490.00,1084.6 491.00,1080.8 492.00,1076.6 493.00,1079.6 494.00,1081.8 495.00,1084.5 496.00,1080.9 497.00,1078.6 498.00,1082.9 499.00,1081.3 500.00,1078.8 501.00,1076.1 502.00,1078.9 503.00,1082.0 504.00,1074.5 505.00,1072.3 506.00,1079.2 507.00,1071.7 508.00,1072.1 509.00,1075.4 510.00,1075.3 511.00,1076.4 512.00,1077.0 513.00,1078.4 514.00,1076.4 515.00,1074.0 516.00,1068.9 517.00,1081.0 518.00,1079.3 519.00,1078.6 520.00,1076.2 521.00,1073.1 522.00,1077.7 523.00,1075.7 524.00,1071.1 525.00,1079.2 526.00,1070.6 527.00,1073.9 528.00,1081.5 529.00,1072.5 530.00,1075.9 531.00,1079.0 532.00,1075.3 533.00,1070.3 534.00,1073.7 535.00,1075.4 536.00,1070.5 537.00,1080.9 538.00,1077.2 539.00,1078.7 540.00,1077.1 541.00,1077.5 542.00,1074.9 543.00,1071.0 544.00,1078.5 545.00,1076.3 546.00,1081.5 547.00,1071.9 548.00,1076.4 549.00,1083.4 550.00,1071.0 551.00,1071.5 552.00,1076.4 553.00,1081.5 554.00,1071.5 555.00,1075.8 556.00,1075.0 557.00,1073.7 558.00,1075.0 559.00,1080.5 560.00,1077.0 561.00,1072.3 562.00,1075.0 563.00,1077.8 564.00,1072.5 565.00,1074.9 566.00,1075.9 567.00,1069.9 568.00,1083.6 569.00,1071.4 570.00,1077.1 571.00,1076.2 572.00,1074.6 573.00,1080.8 574.00,1076.7 575.00,1073.4 576.00,1080.3 577.00,1078.0 578.00,1072.3 579.00,1070.5 580.00,1078.7 581.00,1074.9 582.00,1070.2 583.00,1077.0 584.00,1069.9 585.00,1072.2 585.50,1071.5 585.75,1067.4 586.00,1076.6 586.25,1082.6 586.50,1076.2 586.75,1075.3 587.00,1072.8 587.25,1073.4 587.50,1074.5 587.75,1075.6 588.00,1071.6 588.25,1073.4 588.50,1072.3 588.75,1074.9 589.00,1076.0 589.25,1076.3 589.50,1070.7 589.75,1070.2 590.00,1073.9 590.25,1070.2 590.50,1069.8 590.75,1071.6 591.00,1070.6 591.25,1073.1 591.50,1063.2 591.75,1070.2 592.00,1063.2 592.25,1065.5 592.50,1056.4 592.75,1057.9 593.00,1053.0 593.25,1057.1 593.50,1042.2 593.75,1042.8 594.00,1027.4 594.25,1015.5 594.50,1007.2 594.75,994.3 595.00,974.3 595.25,963.7 595.50,957.2 595.75,960.6 596.00,977.8 596.25,988.2 596.50,1005.9 596.75,1011.2 597.00,1024.5 597.25,1036.1 597.50,1036.9 597.75,1035.2 598.00,1048.3 598.25,1049.8 598.50,1048.1 598.75,1050.1 599.00,1048.5 599.25,1050.7 599.50,1052.4 599.75,1048.1 600.00,1044.6 600.25,1040.4 600.50,1038.1 600.75,1032.6 601.00,1032.6 601.25,1019.8 601.50,1015.2 601.75,1012.4 602.00,1007.0 602.25,1003.2 602.50,999.8 602.75,1003.7 603.00,1002.4 603.25,1008.1 603.50,1015.8 603.75,1028.5 604.00,1038.5 604.25,1038.3 604.50,1043.1 604.75,1048.6 605.00,1059.6 605.25,1057.3 605.50,1059.6 605.75,1059.5 606.00,1065.0 606.25,1069.4 606.50,1067.0 606.75,1064.8 607.00,1073.0 607.25,1069.4 607.50,1076.2 607.75,1067.3 608.00,1070.9 608.25,1072.8 608.50,1066.5 608.75,1073.1 609.00,1075.1 609.25,1072.9 609.50,1075.1 609.75,1074.4 610.00,1071.3 610.25,1076.6 610.50,1072.0 610.75,1073.6 611.00,1072.3 611.25,1077.0 611.50,1073.6 611.75,1073.8 612.00,1068.5 612.25,1074.7 613.00,1079.3 614.00,1069.9 615.00,1078.1 616.00,1077.2 617.00,1072.1 618.00,1077.2 619.00,1082.3 620.00,1080.1 621.00,1082.1 622.00,1085.2 623.00,1081.6 624.00,1085.1 625.00,1078.7 626.00,1079.9 627.00,1086.6 628.00,1086.3 629.00,1084.9 630.00,1078.4 631.00,1082.5 632.00,1081.1 633.00,1089.5 634.00,1080.8 635.00,1081.4 636.00,1083.4 637.00,1086.0 638.00,1083.6 639.00,1084.4 640.00,1086.1 641.00,1085.4 642.00,1080.5 643.00,1082.3 644.00,1090.0 645.00,1086.0 646.00,1090.6 647.00,1089.8 648.00,1089.2 649.00,1087.0 650.00,1091.0 651.00,1086.3 652.00,1093.2 653.00,1089.3 654.00,1089.2 655.00,1086.6 656.00,1086.1 657.00,1086.8 658.00,1086.0 659.00,1085.0 660.00,1084.6 661.00,1088.0 662.00,1090.6 663.00,1092.6 664.00,1089.8 665.00,1087.8 666.00,1089.6 667.00,1092.2 668.00,1088.3 669.00,1090.5 670.00,1088.9 671.00,1088.2 672.00,1086.3 673.00,1089.3 674.00,1085.3 675.00,1084.7 676.00,1087.9 677.00,1089.3 678.00,1089.5 679.00,1089.6 680.00,1087.1 681.00,1087.9 682.00,1091.3 683.00,1093.9 684.00,1082.7 685.00,1091.7 686.00,1089.1 687.00,1088.4 688.00,1086.6 689.00,1086.8 690.00,1085.4 691.00,1089.2 692.00,1086.2 693.00,1088.2 694.00,1085.0 695.00,1091.8 696.00,1090.6 697.00,1086.2 698.00,1090.3 699.00,1088.3 700.00,1087.2 701.00,1089.7 702.00,1091.4 703.00,1092.8 704.00,1089.6 705.00,1091.6 706.00,1090.2 707.00,1090.0 708.00,1091.0 709.00,1085.5 710.00,1088.2 711.00,1093.2 712.00,1086.4 713.00,1088.0 714.00,1094.8 715.00,1087.6 716.00,1090.5 717.00,1090.9 718.00,1089.5 719.00,1092.6 720.00,1092.7 721.00,1089.0 722.00,1095.3 723.00,1089.1 724.00,1090.2 725.00,1091.2 726.00,1091.9 727.00,1088.6 728.00,1091.8 729.00,1085.6 730.00,1089.7 731.00,1088.6 732.00,1089.0 733.00,1090.5 734.00,1091.3 735.00,1088.8 736.00,1090.7 737.00,1086.9 738.00,1089.6 739.00,1092.7 740.00,1088.6 741.00,1089.4 742.00,1090.0 743.00,1092.0 744.00,1091.0 745.00,1089.8 746.00,1087.9 747.00,1091.1 748.00,1084.9 749.00,1091.7 750.00,1088.7 751.00,1092.0 752.00,1090.1 753.00,1093.4 754.00,1088.4 755.00,1084.9 756.00,1090.1 757.00,1089.1 758.00,1090.4 759.00,1093.8 760.00,1089.0 761.00,1093.1 762.00,1093.6 763.00,1094.0 764.00,1086.4 765.00,1091.7 766.00,1089.5 767.00,1090.6 768.00,1089.2 769.00,1090.4 770.00,1093.6 771.00,1095.5 772.00,1093.0 773.00,1088.3 774.00,1094.4 775.00,1088.4 776.00,1090.6 777.00,1094.4 778.00,1090.3 779.00,1093.6 780.00,1091.2 781.00,1089.2 782.00,1092.6 783.00,1090.9 784.00,1096.6 785.00,1096.9 786.00,1096.2 787.00,1089.9 788.00,1097.0 789.00,1093.1 790.00,1093.6 791.00,1092.9 792.00,1090.9 793.00,1092.4 794.00,1094.0 795.00,1095.5 796.00,1092.9 797.00,1091.4 798.00,1090.5 799.00,1091.2 800.00,1096.3 801.00,1094.4 802.00,1093.5 803.00,1089.2 804.00,1088.7 805.00,1094.5 806.00,1094.1 807.00,1095.0 808.00,1092.3 808.25,1090.1 808.50,1087.4 808.75,1089.2 809.00,1085.7 809.25,1092.0 809.50,1092.4 809.75,1094.5 810.00,1086.5 810.25,1087.4 810.50,1092.3 810.75,1091.4 811.00,1085.5 811.25,1088.5 811.50,1090.3 811.75,1088.9 812.00,1090.5 812.25,1089.3 812.50,1087.5 812.75,1089.4 813.00,1087.8 813.25,1090.4 813.50,1083.3 813.75,1085.6 814.00,1083.6 814.25,1083.7 814.50,1084.0 814.75,1083.1 815.00,1074.4 815.25,1080.2 815.50,1075.8 815.75,1072.0 816.00,1066.1 816.25,1061.9 816.50,1052.0 816.75,1035.2 817.00,1022.8 817.25,1004.5 817.50,982.2 817.75,962.5 818.00,957.0 818.25,960.8 818.50,981.2 818.75,1002.7 819.00,1024.4 819.25,1040.7 819.50,1048.7 819.75,1060.4 820.00,1064.5 820.25,1074.2 820.50,1068.8 820.75,1077.3 821.00,1082.5 821.25,1080.6 821.50,1080.2 821.75,1082.0 822.00,1086.6 822.25,1084.7 822.50,1089.5 822.75,1087.6 823.00,1086.6 823.25,1087.3 823.50,1090.0 823.75,1091.7 824.00,1087.5 824.25,1086.8 824.50,1087.0 824.75,1091.4 825.00,1094.9 825.25,1089.2 825.50,1092.4 825.75,1089.8 826.00,1093.2 826.25,1087.3 826.50,1092.6 826.75,1087.9 827.00,1089.2 827.25,1092.2 827.50,1091.0 827.75,1091.5 828.00,1093.1 829.00,1092.7 830.00,1096.3 831.00,1094.8 832.00,1091.1 833.00,1093.3 834.00,1092.2 835.00,1092.5 836.00,1098.0 837.00,1091.6 838.00,1096.7 839.00,1097.3 840.00,1099.3 841.00,1093.5 842.00,1094.2 843.00,1094.3 844.00,1092.6 845.00,1097.9 846.00,1098.6 847.00,1088.1 848.00,1093.2 849.00,1097.1 850.00,1091.7 851.00,1092.7 852.00,1094.6 853.00,1094.6 854.00,1094.2 855.00,1094.4 856.00,1099.4 857.00,1089.2 858.00,1093.6 859.00,1092.0 860.00,1095.4 861.00,1093.7 862.00,1095.9 863.00,1094.7 864.00,1100.4 865.00,1091.3 866.00,1093.3 867.00,1096.6 868.00,1093.4 869.00,1094.6 870.00,1090.3 871.00,1095.8 872.00,1093.6 873.00,1095.2 874.00,1091.3 875.00,1092.1 876.00,1091.3 877.00,1097.6 878.00,1089.0 879.00,1094.5 880.00,1094.1 881.00,1096.7 882.00,1094.1 883.00,1090.8 884.00,1094.7 885.00,1089.0 886.00,1096.0 887.00,1093.0 888.00,1091.2 889.00,1091.5 890.00,1094.0 891.00,1088.1 892.00,1096.3 893.00,1090.0 894.00,1095.8 895.00,1092.6 896.00,1097.2 897.00,1089.4 898.00,1094.8 899.00,1092.6 900.00,1090.9 901.00,1094.4 902.00,1091.4 903.00,1089.8 904.00,1090.8 905.00,1089.0 906.00,1090.0 907.00,1089.9 908.00,1092.2 909.00,1088.6 910.00,1086.2 911.00,1089.3 912.00,1086.1 913.00,1084.1 914.00,1082.9 915.00,1089.6 916.00,1083.8 917.00,1086.8 918.00,1078.2 919.00,1075.3 920.00,1078.9 921.00,1069.4 921.25,1068.2 921.50,1066.7 921.75,1063.1 922.00,1066.6 922.25,1059.1 922.50,1062.1 922.75,1055.3 923.00,1061.5 923.25,1054.7 923.50,1052.7 923.75,1042.3 924.00,1043.9 924.25,1037.5 924.50,1032.5 924.75,1027.7 925.00,1026.5 925.25,1018.4 925.50,1010.2 925.75,1002.2 926.00,993.3 926.25,983.5 926.50,972.7 926.75,957.2 927.00,942.3 927.25,921.0 927.50,905.3 927.75,881.7 928.00,849.0 928.25,817.8 928.50,768.9 928.75,718.2 929.00,656.8 929.25,576.7 929.50,480.5 929.75,373.0 930.00,246.0 930.25,118.0 930.50,-5.4 930.75,-97.2 931.00,-128.4 931.25,-92.2 931.50,-4.2 931.75,117.6 932.00,246.9 932.25,371.1 932.50,481.2 932.75,579.4 933.00,651.9 933.25,719.8 933.50,775.6 933.75,810.9 934.00,851.8 934.25,878.3 934.50,905.6 934.75,928.4 935.00,942.5 935.25,957.0 935.50,972.5 935.75,985.5 936.00,993.9 936.25,1001.1 936.50,1012.9 936.75,1015.1 937.00,1020.3 937.25,1029.5 937.50,1039.4 937.75,1037.0 938.00,1041.9 938.25,1043.0 938.50,1047.2 938.75,1048.8 939.00,1055.0 939.25,1054.9 939.50,1056.8 939.75,1063.2 940.00,1059.0 940.25,1066.8 940.50,1065.5 940.75,1065.1 941.00,1068.7 942.00,1073.0 943.00,1078.2 944.00,1079.9 945.00,1087.6 946.00,1087.6 947.00,1089.5 948.00,1084.5 949.00,1087.5 950.00,1092.0 951.00,1091.0 952.00,1089.9 953.00,1090.0 954.00,1093.6 955.00,1086.8 956.00,1090.1 957.00,1089.4 958.00,1096.4 959.00,1090.6 960.00,1093.7 961.00,1098.0 962.00,1094.0 963.00,1095.7 964.00,1095.3 965.00,1097.1 966.00,1101.2 967.00,1092.9 968.00,1096.0 969.00,1100.6 970.00,1102.4 971.00,1096.3 972.00,1100.1 973.00,1098.0 974.00,1097.6 975.00,1092.1 976.00,1091.3 977.00,1095.5 978.00,1095.1 979.00,1095.4 980.00,1092.9 981.00,1099.8 982.00,1095.9 983.00,1102.4 984.00,1096.1 985.00,1097.8 986.00,1098.9 987.00,1096.3 988.00,1094.8 989.00,1096.0 990.00,1097.7 991.00,1096.6 992.00,1103.1 993.00,1097.0 994.00,1100.5 995.00,1100.8 996.00,1099.2 997.00,1095.9 998.00,1099.9 999.00,1100.9 1000.00,1098.9 1001.00,1098.5 1002.00,1093.1 1003.00,1095.9 1004.00,1098.3 1005.00,1099.4 1006.00,1100.9 1007.00,1098.4 1008.00,1099.6 1009.00,1096.5 1010.00,1100.7 1011.00,1100.9 1012.00,1098.8 1013.00,1101.5 1014.00,1098.2 1015.00,1097.5 1016.00,1097.9 1017.00,1103.5 1018.00,1094.2 1019.00,1098.7 1020.00,1097.4 1021.00,1098.7 1022.00,1094.8 1023.00,1100.5 1024.00,1100.5 1025.00,1098.3 1026.00,1097.9 1027.00,1099.1 1028.00,1101.3 1029.00,1095.0 1030.00,1102.4 1031.00,1098.1 1032.00,1101.0 1033.00,1096.9 1034.00,1103.9 1035.00,1099.7 1036.00,1103.6 1037.00,1097.6 1038.00,1097.4 1039.00,1101.9 1040.00,1100.8 1041.00,1099.8 1042.00,1102.0 1043.00,1099.9 1044.00,1098.2 1045.00,1094.5 1046.00,1093.8 1047.00,1101.4 1048.00,1101.5 1049.00,1098.0 1050.00,1101.6 1051.00,1099.7 1052.00,1100.2 1053.00,1102.6 1054.00,1096.1 1055.00,1100.9 1056.00,1101.1 1057.00,1099.0 1058.00,1099.6 1059.00,1096.1 1060.00,1099.1 1061.00,1100.0 1062.00,1100.7 1063.00,1097.4 1064.00,1101.5 1065.00,1100.6 1066.00,1101.9 1067.00,1100.5 1068.00,1102.0 1069.00,1100.7 1070.00,1105.7 1071.00,1099.1 1072.00,1102.6 1073.00,1099.5 1074.00,1095.7 1075.00,1100.5 1076.00,1102.3 1077.00,1101.0 1078.00,1100.9 1079.00,1096.7 1080.00,1099.9 1081.00,1095.9 1082.00,1104.1 1083.00,1103.8 1084.00,1097.5 1085.00,1099.4 1086.00,1096.9 1086.30,1098.0 1086.55,1098.6 1086.80,1096.7 1087.00,1098.4 1087.05,1101.1 1087.30,1098.7 1087.55,1101.1 1087.80,1098.7 1088.00,1099.3 1088.05,1095.8 1088.30,1101.2 1088.55,1095.8 1088.80,1097.6 1089.00,1095.1 1089.05,1099.6 1089.30,1095.5 1089.55,1099.4 1089.80,1102.6 1090.00,1098.3 1090.05,1091.7 1090.30,1099.6 1090.55,1097.3 1090.80,1098.0 1091.00,1097.2 1091.05,1099.0 1091.30,1098.3 1091.55,1095.1 1091.80,1091.6 1092.00,1094.0 1092.05,1096.0 1092.30,1088.6 1092.55,1092.9 1092.80,1086.9 1093.00,1093.3 1093.05,1094.9 1093.30,1090.9 1093.55,1085.7 1093.80,1086.3 1094.00,1085.4 1094.05,1085.6 1094.30,1081.0 1094.55,1075.2 1094.80,1063.3 1095.00,1058.9 1095.05,1058.5 1095.30,1046.4 1095.55,1028.0 1095.80,1018.0 1096.00,1006.6 1096.05,1006.9 1096.30,1002.4 1096.55,1002.7 1096.80,1016.6 1097.00,1030.5 1097.05,1030.3 1097.30,1046.2 1097.55,1055.1 1097.80,1064.0 1098.00,1073.4 1098.05,1072.1 1098.30,1076.0 1098.55,1085.2 1098.80,1083.5 1099.00,1086.2 1099.05,1086.7 1099.30,1094.2 1099.55,1091.7 1099.80,1093.6 1100.00,1091.3 1100.05,1094.6 1100.30,1096.1 1100.55,1091.1 1100.80,1095.7 1101.00,1099.2 1101.05,1099.8 1101.30,1096.2 1101.55,1101.6 1101.80,1094.6 1102.00,1099.3 1102.05,1098.0 1102.30,1094.3 1102.55,1099.7 1102.80,1094.1 1103.00,1095.8 1103.05,1097.3 1103.30,1094.7 1103.55,1100.8 1103.80,1096.9 1104.00,1095.0 1104.05,1098.8 1104.30,1098.3 1104.55,1095.6 1104.80,1097.1 1105.00,1100.8 1105.05,1100.7 1105.30,1094.7 1105.55,1101.2 1105.80,1101.3 1106.00,1101.8 1106.05,1097.7 1107.00,1097.2 1108.00,1099.0 1109.00,1097.8 1110.00,1098.6 1111.00,1097.6 1112.00,1098.2 1113.00,1097.5 1114.00,1098.7 1115.00,1098.8 1116.00,1098.1 1117.00,1097.7 1118.00,1103.5 1119.00,1102.1 1120.00,1101.4 1121.00,1098.3 1122.00,1101.9 1123.00,1099.7 1124.00,1101.4 1125.00,1100.3 1126.00,1105.0 1127.00,1099.3 1128.00,1096.8 1129.00,1102.2 1130.00,1102.5 1131.00,1103.0 1132.00,1093.8 1133.00,1097.4 1134.00,1097.7 1135.00,1095.6 1136.00,1100.0 1137.00,1101.4 1138.00,1102.4 1139.00,1101.9 1140.00,1099.6 1141.00,1103.3 1142.00,1099.9 1143.00,1093.2 1144.00,1098.1 1145.00,1096.9 1146.00,1099.6 1147.00,1097.6 1148.00,1097.7 1149.00,1102.0 1150.00,1096.5 1151.00,1094.9 1152.00,1099.1 1153.00,1100.2 1154.00,1098.3 1155.00,1098.7 1156.00,1097.2 1157.00,1095.4 1158.00,1096.9 1159.00,1096.1 1160.00,1101.9 1161.00,1098.0 1162.00,1102.0 1163.00,1097.8 1164.00,1095.1 1165.00,1097.3 1166.00,1097.1 1167.00,1100.1 1168.00,1091.7 1169.00,1096.0 1170.00,1098.5 1171.00,1095.8 1172.00,1098.2 1173.00,1097.3 1174.00,1101.8 1175.00,1101.5 1176.00,1093.2 1177.00,1094.6 1178.00,1096.6 1179.00,1098.6 1180.00,1098.5 1181.00,1097.7 1182.00,1100.4 1183.00,1101.0 1184.00,1099.0 1185.00,1097.9 1186.00,1098.7 1187.00,1096.4 1188.00,1100.8 1189.00,1101.1 1190.00,1096.8 1191.00,1103.1 1192.00,1099.5 1193.00,1102.0 1194.00,1099.8 1195.00,1099.2 1196.00,1101.3 1197.00,1096.9 1198.00,1098.6 1199.00,1096.1 1200.00,1100.6 1201.00,1099.1 1202.00,1099.1 1203.00,1098.8 1204.00,1102.0 1205.00,1101.3 1206.00,1099.8 1207.00,1098.8 1208.00,1104.2 1209.00,1103.1 1210.00,1096.2 1211.00,1101.7 1212.00,1100.3 1213.00,1099.9 1214.00,1100.5 1215.00,1096.2 1216.00,1105.6 1217.00,1105.3 1218.00,1099.8 1219.00,1099.3 1220.00,1099.3 1221.00,1096.8 1222.00,1099.4 1223.00,1097.5 1224.00,1095.0 1225.00,1096.5 1226.00,1096.1 1227.00,1096.3 1228.00,1097.0 1229.00,1099.5 1230.00,1096.6 1231.00,1093.3 1232.00,1100.9 1233.00,1095.5 1234.00,1100.4 1235.00,1097.1 1236.00,1097.9 1237.00,1094.3 1238.00,1096.7 1239.00,1095.5 1240.00,1096.3 1241.00,1097.6 1242.00,1095.3 1243.00,1098.3 1244.00,1092.5 1245.00,1093.2 1246.00,1096.8 1247.00,1096.9 1248.00,1098.2 1249.00,1099.5 1250.00,1096.4 1251.00,1097.0 1252.00,1095.6 1253.00,1095.1 1254.00,1094.2 1255.00,1094.4 1256.00,1092.3 1257.00,1092.9 1258.00,1094.8 1259.00,1093.4 1260.00,1094.1 1261.00,1088.8 1262.00,1087.8 1263.00,1088.3 1264.00,1083.4 1265.00,1081.3 1266.00,1082.8 1267.00,1077.6 1268.00,1077.1 1269.00,1070.7 1270.00,1063.7 1270.25,1060.5 1270.50,1064.4 1270.75,1059.2 1271.00,1055.1 1271.25,1051.4 1271.50,1049.7 1271.75,1049.2 1272.00,1050.6 1272.25,1042.1 1272.50,1041.8 1272.75,1038.0 1273.00,1027.8 1273.25,1025.7 1273.50,1026.1 1273.75,1013.4 1274.00,1015.3 1274.25,1005.8 1274.50,993.9 1274.75,994.3 1275.00,979.7 1275.25,973.1 1275.50,957.2 1275.75,940.6 1276.00,929.0 1276.25,911.9 1276.50,888.9 1276.75,857.5 1277.00,832.7 1277.25,793.8 1277.50,755.1 1277.75,713.3 1278.00,652.1 1278.25,599.6 1278.50,519.7 1278.75,444.0 1279.00,369.8 1279.25,290.9 1279.50,225.7 1279.75,179.2 1280.00,167.6 1280.25,182.1 1280.50,225.8 1280.75,289.3 1281.00,364.0 1281.25,447.1 1281.50,518.0 1281.75,591.7 1282.00,657.1 1282.25,711.4 1282.50,755.3 1282.75,790.9 1283.00,832.1 1283.25,862.4 1283.50,885.5 1283.75,910.4 1284.00,928.5 1284.25,938.0 1284.50,955.9 1284.75,967.6 1285.00,983.8 1285.25,992.2 1285.50,998.3 1285.75,1007.1 1286.00,1014.7 1286.25,1016.7 1286.50,1023.5 1286.75,1028.6 1287.00,1032.3 1287.25,1036.5 1287.50,1041.6 1287.75,1041.1 1288.00,1044.5 1288.25,1052.2 1288.50,1056.7 1288.75,1060.0 1289.00,1052.9 1289.25,1060.4 1289.50,1059.2 1289.75,1061.8 1290.00,1064.2 1291.00,1071.4 1292.00,1076.2 1293.00,1072.8 1294.00,1079.5 1295.00,1086.0 1296.00,1085.4 1297.00,1082.4 1298.00,1085.2 1299.00,1086.7 1300.00,1092.3 1301.00,1095.0 1302.00,1088.2 1303.00,1092.6 1304.00,1090.9 1305.00,1093.3 1306.00,1091.4 1307.00,1089.3 1308.00,1090.8 1309.00,1091.1 1310.00,1096.8 1311.00,1091.4 1312.00,1094.9 1313.00,1091.6 1314.00,1092.0 1315.00,1094.2 1316.00,1092.1 1317.00,1098.4 1318.00,1096.7 1319.00,1090.3 1320.00,1094.9 1321.00,1097.8 1322.00,1091.3 1323.00,1093.7 1324.00,1098.9 1325.00,1093.4 1326.00,1097.3 1327.00,1095.8 1328.00,1096.8 1329.00,1093.9 1330.00,1096.7 1331.00,1096.0 1332.00,1101.4 1333.00,1098.4 1334.00,1096.9 1335.00,1096.4 1336.00,1098.0 1337.00,1092.0 1338.00,1093.8 1339.00,1094.3 1340.00,1094.9 1341.00,1093.1 1342.00,1098.9 1343.00,1096.6 1344.00,1101.0 1345.00,1097.5 1346.00,1096.9 1347.00,1099.0 1348.00,1099.0 1349.00,1097.2 1350.00,1099.4 1351.00,1101.2 1352.00,1096.8 1353.00,1101.3 1354.00,1097.5 1355.00,1100.3 1356.00,1098.0 1357.00,1097.2 1358.00,1098.9 1359.00,1095.4 1360.00,1094.2 1361.00,1098.2 1362.00,1097.6 1363.00,1095.3 1364.00,1103.5 1365.00,1099.0 1366.00,1096.1 1367.00,1099.2 1368.00,1099.4 1369.00,1097.2 1370.00,1097.7 1371.00,1093.8 1372.00,1099.2 1372.80,1103.6 1373.00,1101.7 1373.05,1101.5 1373.30,1097.3 1373.55,1096.1 1373.80,1101.1 1374.00,1099.6 1374.05,1098.3 1374.30,1098.0 1374.55,1101.2 1374.80,1100.4 1375.00,1097.6 1375.05,1098.5 1375.30,1094.5 1375.55,1095.8 1375.80,1100.2 1376.00,1097.6 1376.05,1096.5 1376.30,1099.4 1376.55,1101.9 1376.80,1096.6 1377.00,1097.8 1377.05,1098.0 1377.30,1104.8 1377.55,1101.2 1377.80,1099.2 1378.00,1094.9 1378.05,1100.4 1378.30,1099.9 1378.55,1097.9 1378.80,1096.4 1379.00,1097.1 1379.05,1094.0 1379.30,1097.1 1379.55,1096.7 1379.80,1095.4 1380.00,1096.7 1380.05,1093.5 1380.30,1100.1 1380.55,1096.5 1380.80,1093.5 1381.00,1098.1 1381.05,1097.4 1381.30,1094.2 1381.55,1091.5 1381.80,1093.9 1382.00,1094.7 1382.05,1094.9 1382.30,1094.9 1382.55,1094.2 1382.80,1088.1 1383.00,1092.3 1383.05,1087.3 1383.30,1095.0 1383.55,1094.2 1383.80,1096.4 1384.00,1094.6 1384.05,1094.6 1384.30,1093.9 1384.55,1090.4 1384.80,1095.7 1385.00,1102.6 1385.05,1099.8 1385.30,1096.3 1385.55,1097.9 1385.80,1098.4 1386.00,1096.0 1386.05,1097.5 1386.30,1098.5 1386.55,1096.5 1386.80,1099.0 1387.00,1101.0 1387.05,1100.0 1387.30,1098.7 1387.55,1097.6 1387.80,1099.9 1388.00,1096.8 1388.05,1096.5 1388.30,1101.4 1388.55,1097.3 1388.80,1094.8 1389.00,1100.4 1389.05,1100.1 1389.30,1101.1 1389.55,1098.0 1389.80,1101.2 1390.00,1098.0 1390.05,1095.8 1390.30,1097.9 1390.55,1099.0 1390.80,1095.6 1391.00,1097.9 1391.05,1099.0 1391.30,1097.4 1391.55,1098.7 1391.80,1098.5 1392.00,1096.6 1392.05,1099.5 1392.30,1100.1 1392.55,1093.7 1393.00,1097.2 1394.00,1101.1 1395.00,1100.4 1396.00,1094.7 1397.00,1100.3 1398.00,1103.2 1399.00,1101.9 1400.00,1101.6 1400.25,1099.4 1400.50,1099.9 1400.75,1096.8 1401.00,1099.8 1401.25,1105.5 1401.50,1099.6 1401.75,1097.4 1402.00,1101.0 1402.25,1094.6 1402.50,1105.3 1402.75,1101.2 1403.00,1098.9 1403.25,1098.5 1403.50,1097.1 1403.75,1099.5 1404.00,1099.2 1404.25,1095.1 1404.50,1101.3 1404.75,1097.7 1405.00,1095.7 1405.25,1100.6 1405.50,1099.9 1405.75,1096.4 1406.00,1096.0 1406.25,1100.1 1406.50,1096.0 1406.75,1097.2 1407.00,1099.7 1407.25,1092.8 1407.50,1091.6 1407.75,1092.6 1408.00,1092.7 1408.25,1093.5 1408.50,1095.0 1408.75,1090.7 1409.00,1095.1 1409.25,1090.7 1409.50,1084.6 1409.75,1089.1 1410.00,1090.9 1410.25,1092.1 1410.50,1088.0 1410.75,1090.3 1411.00,1096.9 1411.25,1092.6 1411.50,1090.8 1411.75,1090.1 1412.00,1093.5 1412.25,1096.2 1412.50,1093.0 1412.75,1099.7 1413.00,1094.9 1413.25,1092.4 1413.50,1099.1 1413.75,1097.9 1414.00,1097.5 1414.25,1101.5 1414.50,1097.0 1414.75,1100.5 1415.00,1097.6 1415.25,1103.1 1415.50,1099.1 1415.75,1099.2 1416.00,1100.7 1416.25,1099.1 1416.50,1100.4 1416.75,1098.8 1417.00,1100.9 1417.25,1099.6 1417.50,1098.1 1417.75,1100.9 1418.00,1100.7 1418.25,1096.8 1418.50,1098.8 1418.75,1095.3 1419.00,1099.8 1419.25,1101.6 1419.50,1105.2 1419.75,1100.2 1420.00,1102.1 1421.00,1103.2 1422.00,1101.7 1423.00,1095.6 1424.00,1099.5 1425.00,1101.8 1426.00,1102.1 1427.00,1102.0 1428.00,1099.1 1429.00,1096.4 1430.00,1101.6 1431.00,1103.3 1432.00,1098.9 1433.00,1101.1 1434.00,1098.4 1435.00,1099.4 1436.00,1098.3 1437.00,1101.7 1438.00,1097.4 1439.00,1100.0 1440.00,1101.9 1441.00,1099.6 1442.00,1096.6 1443.00,1100.6 1444.00,1099.1 1445.00,1096.4 1446.00,1099.4 1447.00,1099.4 1448.00,1101.9 1449.00,1099.4 1450.00,1101.1 1451.00,1102.7 1452.00,1096.2 1453.00,1103.1 1454.00,1100.5 1455.00,1097.7 1456.00,1100.3 1457.00,1102.3 1458.00,1098.3 1459.00,1098.8 1460.00,1103.9 1461.00,1104.6 1462.00,1105.9 1463.00,1101.3 1464.00,1098.7 1465.00,1098.6 1466.00,1100.0 1467.00,1098.2 1468.00,1101.6 1469.00,1103.6 1470.00,1098.0 1471.00,1104.6 1472.00,1099.0 1473.00,1099.8 1474.00,1098.3 1475.00,1103.8 1476.00,1101.9 1477.00,1102.2 1478.00,1096.4 1479.00,1100.8 1480.00,1103.0 1481.00,1096.6 1482.00,1107.2 1483.00,1103.1 1484.00,1104.9 1485.00,1101.4 1486.00,1104.4 1487.00,1105.3 1488.00,1107.4 1489.00,1098.8 1490.00,1106.2 1491.00,1098.0 1492.00,1100.6 1493.00,1098.9 1494.00,1099.5 1495.00,1095.3 1496.00,1099.4 1497.00,1097.3 1498.00,1099.8 1499.00,1101.1 1500.00,1100.5 1501.00,1099.9 1502.00,1103.5 1503.00,1100.7 1504.00,1101.2 1505.00,1102.9 1506.00,1100.1 1507.00,1101.2 1508.00,1103.3 1509.00,1101.7 1510.00,1106.2 1511.00,1102.3 1512.00,1102.9 1513.00,1102.6 1514.00,1101.8 1515.00,1102.1 1516.00,1100.5 1517.00,1095.3 1518.00,1104.2 1519.00,1100.2 1520.00,1103.2 1521.00,1098.7 1522.00,1102.9 1523.00,1098.2 1524.00,1105.1 1525.00,1101.2 1526.00,1100.5 1527.00,1095.8 1528.00,1096.1 1529.00,1100.5 1530.00,1100.3 1531.00,1100.3 1532.00,1100.7 1533.00,1104.4 1534.00,1101.1 1535.00,1101.2 1536.00,1100.2 1537.00,1099.3 1538.00,1102.7 1539.00,1100.6 1540.00,1100.6 1541.00,1102.2 1542.00,1101.7 1543.00,1103.5 1544.00,1103.5 1545.00,1098.5 1546.00,1099.8 1547.00,1104.2 1548.00,1100.9 1549.00,1103.4 1550.00,1099.6 1551.00,1096.0 1552.00,1096.3 1553.00,1100.1 1554.00,1100.6 1555.00,1107.2 1556.00,1103.2 1557.00,1102.9 1558.00,1103.3 1559.00,1096.8 1560.00,1101.4 1561.00,1101.4 1562.00,1107.0 1563.00,1100.8 1564.00,1099.3 1565.00,1103.6 1566.00,1102.9 1567.00,1103.6 1568.00,1104.0 1569.00,1103.8 1570.00,1101.8 1571.00,1102.3 1572.00,1108.8 1573.00,1101.4 1574.00,1104.0 1575.00,1100.0 1576.00,1098.0 1577.00,1104.4 1578.00,1102.6 1579.00,1105.4 1580.00,1104.8 1581.00,1102.8 1582.00,1100.3 1583.00,1107.0 1584.00,1102.6 1585.00,1108.1 1586.00,1104.8 1587.00,1105.6 1588.00,1105.2 1589.00,1105.1 1590.00,1103.5 1591.00,1109.4 1592.00,1102.0 1593.00,1100.6 1594.00,1105.2 1595.00,1102.9 1596.00,1106.6 1597.00,1103.4 1598.00,1106.5 1599.00,1103.5 1600.00,1101.0 1601.00,1101.8 1602.00,1104.4 1603.00,1101.2 1604.00,1100.8 1605.00,1102.5 1606.00,1103.8 1607.00,1106.1 1608.00,1104.0 1609.00,1104.9 1610.00,1102.2 1611.00,1107.1 1612.00,1107.6 1613.00,1100.6 1614.00,1103.0 1615.00,1102.2 1616.00,1103.4 1617.00,1101.9 1618.00,1101.0 1619.00,1099.6 1620.00,1101.2 1621.00,1102.1 1622.00,1104.3 1623.00,1102.7 1624.00,1099.9 1625.00,1098.9 1626.00,1096.9 1627.00,1102.3 1628.00,1100.9 1629.00,1102.2 1630.00,1102.6 1631.00,1102.1 1632.00,1100.9 1633.00,1100.8 1634.00,1099.4 1635.00,1100.6 1636.00,1103.6 1637.00,1108.2 1638.00,1101.8 1639.00,1103.3 1640.00,1108.0 1641.00,1102.7 1642.00,1101.6 1643.00,1102.3 1644.00,1101.7 1645.00,1097.6 1646.00,1104.5 1647.00,1098.1 1648.00,1101.1 1649.00,1101.4 1650.00,1103.5 1651.00,1101.7 1652.00,1100.9 1653.00,1099.8 1653.25,1102.4 1653.50,1100.9 1653.75,1099.9 1654.00,1098.3 1654.25,1099.4 1654.50,1101.8 1654.75,1097.5 1655.00,1101.6 1655.25,1101.4 1655.50,1104.0 1655.75,1099.4 1656.00,1098.6 1656.25,1100.7 1656.50,1099.8 1656.75,1095.0 1657.00,1103.5 1657.25,1101.0 1657.50,1100.6 1657.75,1098.1 1658.00,1100.8 1658.25,1099.0 1658.50,1103.4 1658.75,1100.8 1659.00,1102.3 1659.25,1095.4 1659.50,1095.8 1659.75,1096.4 1660.00,1095.3 1660.25,1100.1 1660.50,1096.2 1660.75,1091.7 1661.00,1092.6 1661.25,1096.5 1661.50,1089.8 1661.75,1090.6 1662.00,1083.2 1662.25,1084.6 1662.50,1084.4 1662.75,1083.3 1663.00,1083.7 1663.25,1084.8 1663.50,1087.6 1663.75,1081.6 1664.00,1087.6 1664.25,1090.7 1664.50,1091.0 1664.75,1094.7 1665.00,1092.8 1665.25,1093.1 1665.50,1093.1 1665.75,1098.2 1666.00,1093.5 1666.25,1096.2 1666.50,1097.7 1666.75,1099.8 1667.00,1097.9 1667.25,1096.7 1667.50,1100.7 1667.75,1096.7 1668.00,1098.0 1668.25,1095.0 1668.50,1100.6 1668.75,1100.6 1669.00,1096.1 1669.25,1099.9 1669.50,1102.0 1669.75,1099.0 1670.00,1096.6 1670.25,1100.6 1670.50,1102.4 1670.75,1096.4 1671.00,1103.1 1671.25,1100.9 1671.50,1103.4 1671.75,1098.6 1672.00,1103.5 1672.25,1102.0 1672.50,1103.2 1672.75,1101.5 1673.00,1103.7 1674.00,1101.1 1675.00,1100.6 1676.00,1099.3 1677.00,1098.1 1678.00,1102.3 1679.00,1101.4 1680.00,1101.9 1681.00,1101.3 1682.00,1102.8 1683.00,1101.9 1684.00,1100.2 1685.00,1103.4 1686.00,1107.1 1687.00,1100.0 1688.00,1101.4 1689.00,1104.1 1690.00,1101.2 1691.00,1105.9 1692.00,1101.3 1693.00,1099.8 1694.00,1100.1 1695.00,1104.7 1696.00,1096.8 1697.00,1101.8 1698.00,1096.3 1699.00,1103.5 1700.00,1102.8 1701.00,1103.6 1702.00,1107.3 1703.00,1102.0 1704.00,1105.2 1705.00,1104.0 1706.00,1105.4 1707.00,1101.1 1708.00,1106.0 1709.00,1102.6 1710.00,1106.9 1711.00,1105.5 1712.00,1103.1 1713.00,1104.3 1714.00,1104.0 1715.00,1103.1 1716.00,1108.2 1717.00,1100.9 1718.00,1099.7 1719.00,1100.0 1720.00,1102.9 1721.00,1103.6 1722.00,1105.5 1723.00,1106.3 1724.00,1104.6 1725.00,1104.4 1726.00,1101.8 1727.00,1106.7 1728.00,1107.5 1729.00,1103.7 1730.00,1105.7 1731.00,1102.3 1732.00,1103.7 1733.00,1103.9 1734.00,1105.7 1735.00,1099.7 1736.00,1103.3 1737.00,1105.2 1738.00,1103.7 1739.00,1104.3 1740.00,1096.8 1741.00,1101.1 1742.00,1102.5 1743.00,1101.9 1744.00,1098.3 1745.00,1107.0 1746.00,1104.8 1747.00,1099.1 1748.00,1102.4 1749.00,1103.5 1750.00,1105.6 1751.00,1104.6 1752.00,1100.1 1753.00,1100.7 1754.00,1102.6 1755.00,1104.1 1755.50,1100.3 1755.75,1099.8 1756.00,1102.7 1756.25,1101.5 1756.50,1104.4 1756.75,1102.1 1757.00,1103.2 1757.25,1095.8 1757.50,1097.3 1757.75,1096.9 1758.00,1099.0 1758.25,1101.5 1758.50,1099.9 1758.75,1101.8 1759.00,1098.5 1759.25,1102.8 1759.50,1102.3 1759.75,1095.7 1760.00,1097.2 1760.25,1098.1 1760.50,1101.4 1760.75,1101.0 1761.00,1103.2 1761.25,1094.4 1761.50,1098.2 1761.75,1097.0 1762.00,1095.5 1762.25,1094.9 1762.50,1088.8 1762.75,1093.3 1763.00,1089.8 1763.25,1085.3 1763.50,1089.1 1763.75,1080.3 1764.00,1078.2 1764.25,1070.7 1764.50,1062.4 1764.75,1058.5 1765.00,1054.2 1765.25,1046.1 1765.50,1048.1 1765.75,1052.8 1766.00,1056.2 1766.25,1058.6 1766.50,1063.9 1766.75,1074.2 1767.00,1073.4 1767.25,1078.6 1767.50,1089.0 1767.75,1088.4 1768.00,1091.0 1768.25,1090.8 1768.50,1098.7 1768.75,1099.9 1769.00,1094.9 1769.25,1098.3 1769.50,1096.3 1769.75,1098.8 1770.00,1101.7 1770.25,1102.0 1770.50,1098.6 1770.75,1100.6 1771.00,1105.5 1771.25,1102.7 1771.50,1104.2 1771.75,1102.2 1772.00,1100.7 1772.25,1098.4 1772.50,1098.9 1772.75,1097.3 1773.00,1098.9 1773.25,1099.5 1773.50,1103.8 1773.75,1097.8 1774.00,1103.2 1774.25,1097.2 1774.50,1107.8 1774.75,1100.9 1775.00,1102.9 1775.25,1107.0 1776.00,1102.2 1777.00,1103.2 1778.00,1103.5 1779.00,1104.7 1780.00,1102.1 1781.00,1107.9 1782.00,1106.3 1783.00,1103.6 1784.00,1106.2 1785.00,1102.7 1786.00,1101.4 1787.00,1102.3 1788.00,1104.0 1789.00,1099.1 1790.00,1102.4 1791.00,1104.6 1792.00,1100.8 1793.00,1104.7 1794.00,1100.7 1795.00,1103.8 1796.00,1102.8 1797.00,1103.6 1798.00,1100.6 1799.00,1097.1 1800.00,1096.3 1801.00,1107.8 1802.00,1098.5 1803.00,1100.1 1804.00,1098.1 1805.00,1106.0 1806.00,1104.4 1807.00,1104.8 1808.00,1099.8 1809.00,1105.4 1810.00,1100.9 1811.00,1106.2 1812.00,1103.1 1813.00,1097.8 1814.00,1103.8 1815.00,1102.1 1816.00,1110.4 1817.00,1101.7 1818.00,1104.1 1819.00,1104.0 1820.00,1102.3 1821.00,1102.4 1822.00,1103.9 1823.00,1104.8 1824.00,1102.8 1825.00,1103.3 1826.00,1104.1 1827.00,1101.7 1828.00,1103.7 1829.00,1104.5 1830.00,1106.8 1831.00,1105.7 1832.00,1105.0 1833.00,1105.9 1834.00,1101.3 1835.00,1106.1 1836.00,1102.3 1837.00,1103.1 1838.00,1102.5 1839.00,1105.4 1840.00,1102.2 1841.00,1105.5 1842.00,1102.7 1843.00,1102.0 1844.00,1103.9 1845.00,1100.4 1846.00,1105.3 1847.00,1100.1 1848.00,1100.9 1849.00,1105.5 1850.00,1098.9 1851.00,1105.2 1852.00,1103.3 1853.00,1103.6 1854.00,1104.0 1855.00,1101.3 1856.00,1107.9 1857.00,1105.2 1858.00,1105.6 1859.00,1106.1 1860.00,1106.4 1861.00,1104.6 1862.00,1101.2 1863.00,1100.2 1864.00,1099.9 1865.00,1102.1 1866.00,1105.6 1867.00,1099.6 1868.00,1101.8 1869.00,1104.1 1870.00,1101.5 1871.00,1101.5 1872.00,1099.5 1873.00,1102.7 1874.00,1100.8 1875.00,1100.6 1876.00,1101.4 1877.00,1103.4 1878.00,1105.3 1879.00,1100.2 1880.00,1104.7 1881.00,1100.9 1882.00,1099.3 1883.00,1102.7 1884.00,1104.6 1885.00,1104.4 1886.00,1105.6 1887.00,1099.6 1888.00,1108.4 1889.00,1107.1 1890.00,1106.5 1891.00,1100.5 1892.00,1105.5 1893.00,1102.9 1894.00,1102.7 1895.00,1103.7 1896.00,1099.9 1897.00,1107.0 1898.00,1107.1 1899.00,1106.9 1900.00,1108.7 1901.00,1101.1 1902.00,1104.3 1903.00,1103.8 1904.00,1101.1 1905.00,1106.0 1906.00,1109.4 1907.00,1100.5 1908.00,1104.9 1909.00,1103.9 1910.00,1104.4 1911.00,1104.5 1912.00,1106.3 1913.00,1103.2 1914.00,1103.7 1915.00,1108.9 1916.00,1104.7 1917.00,1104.7 1918.00,1100.2 1919.00,1105.8 1920.00,1106.3 1921.00,1105.5 1922.00,1108.9 1923.00,1100.0 1924.00,1107.4 1925.00,1101.2 1926.00,1102.3 1927.00,1099.6 1928.00,1106.3 1929.00,1103.6 1930.00,1102.4 1931.00,1103.3 1932.00,1098.2 1933.00,1102.3 1934.00,1104.7 1935.00,1103.0 1936.00,1104.7 1937.00,1101.2 1938.00,1105.5 1939.00,1104.2 1940.00,1105.4 1941.00,1108.7 1942.00,1104.8 1943.00,1103.0 1944.00,1105.4 1945.00,1101.5 1946.00,1108.3 1947.00,1104.1 1948.00,1103.9 1949.00,1105.0 1950.00,1100.7 1951.00,1103.9 1952.00,1103.4 1953.00,1109.4 1954.00,1107.7 1955.00,1108.7 1956.00,1104.3 1957.00,1104.6 1958.00,1106.9 1959.00,1102.6 1960.00,1102.0 1961.00,1108.3 1962.00,1105.7 1963.00,1105.7 1964.00,1100.3 1965.00,1103.6 1966.00,1103.6 1967.00,1103.1 1968.00,1105.5 1969.00,1102.2 1970.00,1101.5 1971.00,1109.2 1972.00,1105.4 1973.00,1101.4" fill="none" stroke="#ea0000" stroke-width="7.50" stroke-linejoin="round" stroke-linecap="round"/>
<polyline points="199.00,884.5 200.00,886.5 201.00,889.1 202.00,886.8 203.00,891.1 204.00,883.9 205.00,886.4 206.00,886.6 207.00,886.6 208.00,885.7 209.00,890.6 210.00,884.9 211.00,888.8 212.00,887.4 213.00,891.9 214.00,886.1 215.00,888.8 216.00,888.5 217.00,881.0 218.00,888.2 219.00,889.9 220.00,891.3 221.00,884.5 222.00,886.2 223.00,889.3 224.00,882.5 225.00,882.7 226.00,885.7 227.00,885.3 228.00,887.7 229.00,887.7 230.00,885.9 231.00,883.2 232.00,884.9 233.00,887.2 234.00,887.9 235.00,886.8 236.00,888.6 237.00,884.3 238.00,884.9 239.00,882.4 240.00,890.9 241.00,885.0 242.00,887.8 243.00,888.4 244.00,885.8 245.00,884.2 246.00,882.9 247.00,883.0 248.00,878.6 249.00,881.3 250.00,884.1 251.00,882.4 252.00,884.6 253.00,885.4 254.00,886.0 255.00,885.2 256.00,886.3 257.00,889.0 258.00,885.3 259.00,882.3 260.00,887.7 261.00,885.2 262.00,887.6 263.00,882.7 264.00,880.0 265.00,884.0 266.00,882.7 267.00,881.9 268.00,888.5 269.00,885.2 270.00,881.0 271.00,879.5 272.00,883.0 273.00,884.4 274.00,883.2 275.00,885.2 276.00,883.3 277.00,884.0 278.00,878.1 279.00,886.8 280.00,882.3 281.00,886.5 282.00,880.0 283.00,881.6 284.00,887.0 285.00,880.7 286.00,884.3 287.00,882.8 288.00,888.5 289.00,885.2 290.00,887.7 291.00,884.4 292.00,880.2 293.00,890.1 294.00,882.7 295.00,883.8 296.00,883.1 297.00,878.5 298.00,884.0 299.00,880.6 300.00,876.7 301.00,877.1 302.00,874.7 303.00,878.3 304.00,879.5 305.00,877.1 306.00,879.8 307.00,879.2 308.00,881.7 309.00,880.6 310.00,880.4 311.00,878.9 312.00,877.8 313.00,878.4 314.00,881.6 315.00,879.2 316.00,884.1 317.00,882.3 318.00,876.7 319.00,881.7 320.00,883.9 321.00,879.2 322.00,884.3 323.00,879.3 324.00,885.2 325.00,882.3 326.00,880.2 327.00,876.2 328.00,880.1 329.00,878.3 330.00,881.2 331.00,878.0 332.00,881.5 333.00,879.0 334.00,881.8 335.00,882.5 336.00,880.9 337.00,881.9 338.00,883.6 339.00,878.4 340.00,882.6 341.00,881.8 342.00,885.4 343.00,880.7 344.00,883.8 345.00,876.8 346.00,884.5 347.00,882.4 348.00,881.9 349.00,882.8 350.00,876.8 351.00,879.1 352.00,879.5 353.00,878.1 354.00,877.1 355.00,880.6 356.00,877.8 357.00,876.6 358.00,877.0 359.00,879.9 360.00,881.6 361.00,879.8 362.00,878.5 363.00,873.9 364.00,876.2 365.00,875.5 366.00,875.3 367.00,880.8 368.00,876.0 369.00,881.1 370.00,877.7 371.00,876.9 372.00,876.7 373.00,873.4 374.00,876.1 375.00,879.3 376.00,878.8 377.00,877.4 378.00,878.7 379.00,877.2 380.00,877.8 381.00,882.5 382.00,876.9 383.00,871.9 384.00,870.9 385.00,874.5 386.00,876.9 387.00,878.9 388.00,876.2 389.00,876.6 390.00,877.3 391.00,872.6 392.00,874.6 393.00,875.1 394.00,872.6 395.00,871.0 396.00,875.0 397.00,877.0 398.00,874.8 399.00,869.0 400.00,873.5 401.00,874.9 402.00,877.0 403.00,874.4 404.00,874.4 405.00,877.9 406.00,878.5 407.00,875.3 408.00,872.0 409.00,871.5 410.00,876.2 411.00,872.3 412.00,874.1 413.00,873.5 414.00,874.2 415.00,874.5 416.00,870.7 417.00,871.4 418.00,873.4 419.00,872.7 420.00,869.2 421.00,877.8 422.00,869.2 423.00,875.7 424.00,868.6 425.00,875.7 426.00,867.6 427.00,874.3 428.00,871.6 429.00,872.6 430.00,867.6 431.00,869.8 432.00,869.9 433.00,869.9 434.00,868.0 435.00,873.8 436.00,864.6 437.00,865.6 438.00,865.8 439.00,874.5 440.00,867.5 441.00,868.0 442.00,868.0 443.00,869.3 444.00,869.1 445.00,868.0 446.00,864.4 447.00,870.2 448.00,868.5 449.00,873.0 450.00,869.4 451.00,867.6 452.00,862.9 453.00,867.7 454.00,869.2 455.00,872.6 456.00,868.3 457.00,869.6 458.00,868.9 459.00,872.4 460.00,870.7 461.00,866.8 462.00,861.0 463.00,871.3 464.00,865.2 465.00,861.4 466.00,858.5 467.00,856.7 468.00,863.6 469.00,861.6 470.00,862.8 471.00,865.8 472.00,858.4 473.00,861.3 474.00,858.0 475.00,856.5 476.00,851.0 477.00,856.3 478.00,863.3 479.00,856.9 480.00,860.0 481.00,859.1 482.00,866.5 483.00,864.2 484.00,855.8 485.00,856.5 486.00,862.1 487.00,857.8 488.00,856.6 489.00,860.2 490.00,857.1 491.00,855.1 492.00,863.6 493.00,856.5 494.00,849.7 495.00,856.5 496.00,856.4 497.00,862.2 498.00,856.6 499.00,852.6 500.00,856.3 501.00,849.7 502.00,852.8 503.00,855.3 504.00,850.4 505.00,845.7 506.00,849.3 507.00,849.9 508.00,855.0 509.00,850.5 510.00,851.6 511.00,847.5 512.00,850.7 513.00,847.0 514.00,850.3 515.00,847.4 516.00,849.8 517.00,843.5 518.00,836.3 519.00,830.1 520.00,830.3 521.00,829.1 522.00,830.9 523.00,823.7 524.00,823.7 525.00,825.5 526.00,832.6 527.00,839.1 528.00,841.6 529.00,843.8 530.00,846.7 531.00,849.6 532.00,842.8 533.00,850.5 534.00,850.5 535.00,851.2 536.00,850.8 537.00,845.7 538.00,855.3 539.00,852.0 540.00,853.2 541.00,854.8 542.00,853.6 543.00,854.9 544.00,854.8 545.00,849.3 546.00,848.8 547.00,856.9 548.00,851.0 549.00,862.9 550.00,850.4 551.00,855.7 552.00,854.6 553.00,855.6 554.00,850.7 555.00,855.4 556.00,861.6 557.00,851.3 558.00,845.6 559.00,857.1 559.40,856.4 559.65,857.5 559.90,851.9 560.00,856.7 560.15,858.6 560.40,853.4 560.65,855.6 560.90,857.5 561.00,858.4 561.15,854.7 561.40,856.5 561.65,863.6 561.90,863.8 562.00,851.8 562.15,864.4 562.40,854.5 562.65,860.2 562.90,851.3 563.00,855.3 563.15,853.4 563.40,859.0 563.65,856.4 563.90,857.0 564.00,856.8 564.15,855.8 564.40,858.3 564.65,854.9 564.90,853.8 565.00,851.5 565.15,850.2 565.40,851.2 565.65,854.3 565.90,856.3 566.00,851.7 566.15,859.6 566.40,856.0 566.65,850.6 566.90,851.1 567.00,849.3 567.15,841.7 567.40,851.2 567.65,847.8 567.90,839.5 568.00,849.0 568.15,842.8 568.40,843.0 568.65,836.4 568.90,842.2 569.00,843.8 569.15,840.2 569.40,841.6 569.65,834.3 569.90,844.1 570.00,842.1 570.15,842.5 570.40,846.0 570.65,848.3 570.90,844.9 571.00,849.0 571.15,853.2 571.40,842.6 571.65,848.0 571.90,842.0 572.00,850.0 572.15,854.4 572.40,849.0 572.65,845.6 572.90,848.4 573.00,852.3 573.15,845.0 573.40,845.7 573.65,853.3 573.90,846.4 574.00,852.1 574.15,847.8 574.40,845.9 574.65,855.5 574.90,856.8 575.00,849.4 575.15,861.6 575.40,853.5 575.65,855.2 575.90,854.0 576.00,849.2 576.15,857.6 576.40,854.3 576.65,855.9 576.90,854.7 577.00,852.6 577.15,863.4 577.40,856.1 577.65,853.6 577.90,857.2 578.00,849.9 578.15,856.2 578.40,864.3 578.65,852.3 578.90,857.0 579.00,850.5 579.15,855.3 580.00,859.8 581.00,851.8 582.00,852.4 582.25,860.7 582.50,857.3 582.75,858.9 583.00,858.4 583.25,851.3 583.50,849.7 583.75,849.1 584.00,858.4 584.25,850.9 584.50,849.6 584.75,854.3 585.00,856.0 585.25,857.6 585.50,849.4 585.75,861.7 586.00,852.7 586.25,856.9 586.50,856.1 586.75,852.2 587.00,857.6 587.25,857.1 587.50,860.0 587.75,862.8 588.00,863.3 588.25,858.2 588.50,856.7 588.75,852.1 589.00,847.0 589.25,854.0 589.50,849.3 589.75,849.7 590.00,848.0 590.25,850.7 590.50,846.5 590.75,856.4 591.00,849.6 591.25,843.3 591.50,846.1 591.75,849.8 592.00,839.4 592.25,845.1 592.50,842.6 592.75,845.6 593.00,844.2 593.25,847.7 593.50,849.7 593.75,851.2 594.00,843.7 594.25,853.1 594.50,851.1 594.75,849.1 595.00,852.0 595.25,859.0 595.50,852.5 595.75,850.0 596.00,856.6 596.25,853.2 596.50,857.1 596.75,855.5 597.00,860.1 597.25,852.4 597.50,853.4 597.75,859.3 598.00,861.8 598.25,856.0 598.50,860.0 598.75,857.1 599.00,855.3 599.25,849.0 599.50,864.2 599.75,860.8 600.00,847.7 600.25,859.9 600.50,854.7 600.75,853.3 601.00,855.3 601.25,860.8 601.50,857.9 601.75,857.5 602.00,857.9 603.00,858.1 604.00,862.7 605.00,853.4 606.00,856.0 607.00,860.3 608.00,856.0 609.00,861.0 610.00,858.5 611.00,861.3 612.00,859.1 613.00,862.3 614.00,860.0 615.00,863.0 616.00,858.8 617.00,853.3 618.00,860.2 619.00,860.1 620.00,858.0 621.00,863.8 622.00,861.8 623.00,865.7 624.00,858.0 625.00,857.9 626.00,861.4 627.00,865.2 628.00,856.4 629.00,861.1 630.00,858.9 631.00,857.6 632.00,862.3 633.00,862.1 634.00,861.3 635.00,855.7 636.00,858.7 637.00,852.6 638.00,861.7 639.00,854.9 640.00,859.4 641.00,864.2 642.00,859.9 643.00,861.5 644.00,858.2 645.00,869.6 646.00,856.0 647.00,858.5 648.00,860.2 649.00,869.5 650.00,858.5 651.00,861.0 652.00,863.9 653.00,852.4 654.00,864.6 655.00,862.8 656.00,867.6 657.00,868.0 658.00,864.2 659.00,866.9 660.00,859.9 661.00,857.9 662.00,861.4 663.00,863.0 664.00,860.9 665.00,863.8 666.00,864.3 667.00,868.4 668.00,860.6 669.00,859.1 670.00,862.5 671.00,861.2 672.00,862.8 673.00,867.4 674.00,857.6 675.00,864.0 676.00,866.6 677.00,866.5 678.00,855.9 679.00,860.9 680.00,867.6 681.00,862.9 682.00,865.1 683.00,863.3 684.00,868.2 685.00,863.5 686.00,860.8 687.00,861.7 688.00,866.2 689.00,861.7 690.00,854.5 691.00,853.5 692.00,865.3 693.00,856.8 694.00,864.7 695.00,862.2 696.00,865.1 697.00,860.7 698.00,853.6 699.00,867.7 700.00,861.3 701.00,860.2 702.00,867.8 703.00,865.1 704.00,867.5 705.00,863.2 706.00,865.2 707.00,867.3 708.00,862.6 709.00,867.7 710.00,865.6 711.00,862.2 712.00,861.2 713.00,865.6 714.00,861.0 715.00,862.6 716.00,861.4 717.00,858.7 718.00,849.5 719.00,858.9 720.00,860.5 721.00,854.3 722.00,853.3 723.00,858.0 724.00,848.5 725.00,856.5 726.00,853.1 727.00,856.9 728.00,853.2 729.00,855.6 730.00,857.9 731.00,852.2 732.00,855.3 733.00,863.0 734.00,856.2 735.00,854.7 736.00,858.7 737.00,861.4 738.00,854.8 739.00,852.2 740.00,850.8 741.00,849.7 742.00,839.2 743.00,842.2 744.00,837.8 745.00,835.0 746.00,829.4 747.00,821.7 748.00,820.0 749.00,806.2 750.00,798.0 751.00,796.3 752.00,783.3 753.00,773.3 754.00,766.3 755.00,762.0 756.00,754.5 757.00,762.1 758.00,762.2 759.00,770.4 760.00,769.1 761.00,778.8 762.00,784.6 763.00,795.5 764.00,802.0 765.00,810.1 766.00,816.7 767.00,817.3 768.00,828.2 769.00,833.5 770.00,838.6 771.00,845.2 772.00,841.8 773.00,849.4 774.00,854.1 775.00,855.1 776.00,856.5 777.00,865.0 778.00,866.5 779.00,870.4 780.00,862.9 781.00,859.2 782.00,868.8 783.00,866.0 784.00,864.0 785.00,869.0 786.00,867.1 787.00,862.1 788.00,867.4 789.00,862.1 790.00,868.5 791.00,863.1 792.00,862.9 793.00,870.0 794.00,871.2 795.00,868.3 796.00,866.2 797.00,871.8 798.00,870.3 799.00,870.5 800.00,868.6 801.00,865.3 802.00,868.1 803.00,873.4 804.00,867.7 805.00,869.5 806.00,869.8 807.00,872.9 808.00,871.3 809.00,869.5 810.00,875.9 811.00,871.0 812.00,871.3 813.00,868.4 814.00,865.9 815.00,871.4 816.00,869.4 817.00,871.5 818.00,864.5 819.00,875.8 820.00,871.4 821.00,873.8 822.00,868.4 823.00,871.6 824.00,871.7 825.00,874.4 826.00,873.4 827.00,865.3 828.00,872.3 829.00,872.7 830.00,872.1 831.00,874.2 832.00,875.9 833.00,877.6 834.00,871.2 835.00,871.6 836.00,873.7 837.00,875.0 838.00,870.0 839.00,872.3 840.00,869.2 841.00,873.4 842.00,873.3 843.00,875.8 844.00,878.7 845.00,873.2 846.00,876.1 847.00,870.0 848.00,874.8 849.00,878.4 850.00,868.6 851.00,871.0 852.00,866.5 853.00,874.8 854.00,880.3 855.00,872.0 856.00,876.1 857.00,879.7 858.00,873.6 859.00,876.3 860.00,873.6 861.00,874.4 862.00,875.8 863.00,878.2 864.00,876.7 865.00,876.3 866.00,876.3 867.00,880.2 868.00,879.0 869.00,879.1 870.00,872.6 871.00,877.2 872.00,874.7 873.00,882.6 874.00,879.5 875.00,881.7 876.00,875.8 877.00,874.3 878.00,876.9 879.00,881.5 880.00,878.3 881.00,882.8 882.00,884.8 883.00,880.3 884.00,884.2 885.00,875.5 886.00,878.4 887.00,880.4 888.00,880.6 889.00,876.9 890.00,879.2 891.00,882.6 892.00,881.4 893.00,879.6 894.00,876.2 895.00,883.1 896.00,881.3 897.00,877.0 898.00,883.0 899.00,879.5 900.00,881.8 901.00,881.0 902.00,881.3 903.00,883.6 904.00,885.4 905.00,879.8 906.00,879.1 907.00,878.6 908.00,880.0 909.00,880.4 910.00,875.1 911.00,879.0 912.00,885.2 913.00,881.3 914.00,882.4 915.00,879.4 916.00,885.8 917.00,881.6 918.00,879.2 919.00,878.2 920.00,881.8 921.00,885.6 922.00,878.9 923.00,878.1 924.00,874.3 925.00,882.7 926.00,877.5 927.00,878.3 928.00,877.2 929.00,877.6 930.00,881.9 931.00,877.2 932.00,879.4 933.00,876.4 934.00,876.9 935.00,879.3 936.00,879.0 937.00,873.4 938.00,876.2 939.00,872.6 940.00,876.1 941.00,870.6 942.00,866.5 943.00,867.5 944.00,858.6 945.00,855.3 946.00,852.8 947.00,848.1 948.00,851.5 949.00,858.8 950.00,868.3 951.00,867.5 952.00,871.0 953.00,871.4 954.00,873.1 955.00,878.9 956.00,873.7 957.00,874.8 958.00,881.7 959.00,876.0 960.00,874.7 961.00,879.6 962.00,881.0 963.00,883.0 964.00,884.1 965.00,871.3 966.00,877.9 967.00,878.4 968.00,881.1 969.00,878.4 970.00,881.7 971.00,883.1 972.00,882.6 973.00,879.4 974.00,882.3 975.00,878.9 976.00,878.7 977.00,880.1 978.00,883.1 979.00,875.2 980.00,880.7 981.00,884.8 982.00,881.3 983.00,879.4 984.00,881.8 985.00,885.8 986.00,881.0 987.00,879.7 988.00,884.0 989.00,881.3 990.00,879.7 991.00,883.7 992.00,878.6 993.00,879.8 994.00,884.1 995.00,880.4 996.00,883.9 997.00,875.5 998.00,876.5 999.00,878.9 1000.00,881.0 1001.00,876.2 1002.00,881.9 1003.00,879.3 1004.00,879.1 1005.00,880.3 1006.00,879.1 1007.00,876.1 1008.00,879.1 1009.00,876.7 1010.00,884.1 1011.00,879.3 1012.00,880.2 1013.00,879.4 1014.00,881.3 1015.00,882.0 1016.00,881.0 1017.00,878.4 1018.00,884.6 1019.00,881.4 1020.00,876.4 1021.00,875.6 1022.00,879.1 1023.00,879.2 1024.00,878.1 1025.00,880.3 1026.00,883.6 1027.00,885.9 1028.00,882.6 1029.00,882.6 1030.00,884.5 1031.00,887.1 1032.00,884.4 1033.00,883.1 1034.00,881.3 1035.00,879.1 1036.00,883.4 1037.00,885.8 1038.00,883.0 1039.00,880.2 1040.00,883.1 1041.00,880.8 1042.00,879.1 1043.00,874.8 1044.00,881.5 1045.00,877.7 1046.00,882.5 1047.00,877.0 1048.00,878.5 1049.00,876.2 1050.00,883.1 1051.00,882.2 1052.00,878.5 1053.00,882.6 1054.00,874.9 1055.00,879.8 1056.00,874.9 1057.00,874.2 1058.00,871.8 1059.00,874.6 1060.00,869.0 1061.00,874.3 1062.00,880.7 1063.00,871.2 1064.00,877.5 1065.00,874.6 1066.00,872.1 1067.00,879.7 1068.00,877.7 1069.00,883.1 1070.00,874.6 1071.00,881.3 1072.00,885.1 1073.00,875.7 1074.00,882.4 1075.00,882.1 1076.00,880.3 1077.00,883.3 1078.00,880.9 1079.00,876.5 1080.00,876.5 1081.00,878.4 1082.00,883.6 1083.00,878.7 1084.00,881.7 1085.00,878.9 1086.00,881.3 1087.00,881.2 1088.00,883.4 1089.00,885.3 1090.00,878.9 1091.00,877.2 1092.00,880.2 1093.00,880.3 1094.00,881.2 1095.00,883.2 1096.00,879.1 1097.00,880.3 1098.00,879.9 1099.00,882.6 1100.00,877.8 1101.00,881.9 1102.00,883.6 1103.00,876.9 1104.00,881.5 1105.00,879.0 1106.00,877.1 1107.00,882.8 1108.00,880.2 1109.00,875.4 1110.00,877.0 1111.00,872.3 1112.00,869.0 1113.00,874.2 1114.00,869.2 1115.00,871.6 1116.00,865.5 1117.00,864.6 1118.00,863.5 1119.00,865.5 1120.00,864.8 1121.00,868.7 1122.00,866.3 1123.00,867.6 1124.00,870.1 1125.00,873.2 1126.00,875.4 1127.00,875.6 1128.00,879.6 1129.00,882.5 1130.00,869.7 1131.00,880.4 1132.00,878.8 1133.00,874.3 1134.00,876.9 1135.00,871.4 1136.00,876.8 1137.00,882.4 1138.00,875.0 1139.00,877.1 1140.00,879.5 1141.00,881.6 1142.00,880.3 1143.00,879.1 1144.00,882.8 1145.00,879.8 1146.00,887.2 1147.00,884.0 1148.00,880.4 1149.00,877.3 1150.00,877.5 1151.00,876.6 1152.00,877.9 1153.00,880.2 1154.00,875.5 1155.00,879.7 1156.00,879.4 1157.00,876.8 1158.00,883.4 1159.00,881.3 1160.00,881.1 1161.00,878.8 1162.00,878.6 1163.00,881.0 1164.00,876.5 1165.00,881.4 1166.00,877.0 1167.00,879.9 1168.00,881.7 1169.00,878.8 1170.00,877.6 1171.00,877.1 1172.00,879.4 1173.00,875.7 1174.00,878.5 1175.00,881.2 1176.00,873.4 1177.00,876.7 1178.00,879.9 1179.00,876.2 1180.00,876.6 1181.00,876.3 1182.00,882.1 1183.00,873.7 1184.00,879.3 1185.00,879.0 1186.00,879.6 1187.00,877.3 1188.00,879.6 1189.00,877.8 1190.00,876.7 1191.00,885.4 1192.00,881.6 1193.00,875.6 1194.00,876.8 1195.00,880.2 1196.00,883.1 1197.00,878.7 1198.00,881.4 1199.00,880.1 1200.00,882.6 1201.00,877.5 1202.00,876.6 1203.00,879.3 1204.00,879.1 1205.00,878.2 1206.00,881.4 1207.00,879.9 1208.00,878.3 1209.00,874.7 1210.00,879.8 1211.00,880.2 1212.00,876.1 1213.00,877.8 1214.00,875.0 1215.00,878.6 1216.00,877.7 1217.00,873.5 1218.00,878.6 1219.00,877.9 1220.00,878.0 1221.00,882.1 1222.00,880.7 1223.00,882.0 1224.00,878.7 1225.00,883.4 1226.00,877.6 1227.00,881.8 1228.00,875.7 1229.00,880.4 1230.00,876.9 1231.00,875.6 1232.00,881.3 1233.00,879.9 1234.00,880.6 1235.00,879.2 1236.00,880.2 1237.00,879.7 1238.00,879.7 1239.00,880.8 1240.00,887.2 1241.00,878.4 1242.00,876.9 1243.00,878.5 1244.00,879.1 1245.00,882.3 1246.00,883.8 1247.00,883.8 1248.00,879.9 1249.00,882.4 1250.00,885.5 1251.00,882.0 1252.00,883.8 1253.00,877.4 1254.00,882.7 1255.00,882.7 1256.00,877.3 1257.00,881.1 1258.00,882.9 1259.00,878.9 1260.00,884.0 1261.00,884.2 1262.00,882.4 1263.00,881.4 1264.00,881.2 1265.00,882.8 1266.00,884.8 1267.00,877.7 1268.00,881.8 1269.00,881.8 1270.00,878.6 1271.00,877.2 1272.00,879.9 1273.00,875.6 1274.00,880.6 1275.00,878.9 1276.00,876.4 1277.00,879.2 1278.00,877.1 1279.00,877.7 1280.00,883.3 1281.00,878.2 1282.00,874.3 1283.00,881.7 1284.00,878.1 1285.00,878.6 1286.00,885.4 1287.00,881.0 1288.00,883.6 1289.00,877.5 1290.00,878.3 1291.00,878.7 1292.00,882.9 1293.00,878.9 1294.00,875.3 1295.00,882.5 1296.00,878.9 1297.00,880.5 1298.00,882.3 1299.00,886.1 1300.00,879.9 1301.00,884.2 1302.00,876.1 1303.00,880.5 1304.00,881.0 1305.00,874.1 1306.00,877.6 1307.00,878.4 1308.00,881.8 1309.00,879.0 1310.00,879.3 1311.00,878.6 1312.00,881.7 1313.00,880.3 1314.00,879.8 1315.00,878.9 1316.00,881.0 1317.00,876.8 1318.00,878.2 1319.00,877.9 1320.00,879.6 1321.00,882.0 1322.00,880.9 1323.00,877.0 1324.00,884.1 1325.00,885.4 1326.00,885.2 1327.00,883.8 1328.00,876.7 1329.00,880.4 1330.00,882.5 1331.00,882.2 1332.00,880.1 1333.00,881.0 1334.00,878.0 1335.00,882.3 1336.00,875.8 1337.00,881.1 1338.00,883.8 1339.00,877.2 1340.00,883.3 1341.00,884.5 1342.00,879.7 1343.00,875.8 1344.00,875.0 1345.00,871.9 1346.00,875.9 1347.00,869.2 1348.00,871.0 1349.00,865.6 1350.00,869.1 1351.00,863.7 1352.00,868.0 1353.00,867.9 1354.00,874.7 1355.00,872.7 1356.00,874.6 1357.00,879.1 1358.00,873.7 1359.00,873.9 1360.00,877.6 1361.00,875.2 1362.00,883.1 1363.00,879.3 1364.00,879.9 1365.00,878.6 1366.00,873.3 1367.00,883.5 1368.00,879.4 1369.00,873.9 1370.00,876.2 1371.00,878.8 1372.00,881.9 1373.00,879.1 1374.00,879.0 1375.00,878.7 1376.00,875.2 1377.00,875.6 1378.00,877.2 1379.00,873.1 1380.00,876.5 1381.00,877.7 1382.00,868.9 1383.00,874.0 1384.00,873.2 1385.00,873.3 1386.00,876.9 1387.00,867.2 1388.00,875.0 1389.00,870.1 1390.00,872.7 1391.00,863.7 1392.00,864.1 1393.00,861.1 1394.00,861.3 1395.00,856.4 1396.00,856.2 1397.00,858.2 1398.00,860.8 1399.00,856.5 1400.00,860.5 1401.00,861.3 1402.00,865.4 1403.00,868.4 1404.00,864.0 1405.00,867.2 1406.00,870.6 1407.00,870.2 1408.00,878.2 1409.00,880.1 1410.00,878.5 1411.00,878.7 1412.00,875.0 1413.00,876.1 1414.00,880.5 1415.00,884.0 1416.00,878.9 1417.00,880.5 1418.00,884.0 1419.00,884.1 1420.00,876.4 1421.00,879.7 1422.00,881.3 1423.00,875.1 1424.00,878.6 1425.00,880.7 1426.00,879.0 1427.00,882.1 1428.00,879.6 1429.00,876.0 1430.00,877.2 1431.00,874.8 1432.00,876.9 1433.00,882.1 1434.00,881.4 1435.00,882.2 1436.00,884.5 1437.00,877.9 1438.00,879.9 1439.00,881.7 1440.00,886.1 1441.00,882.4 1442.00,881.5 1443.00,882.8 1444.00,879.7 1445.00,876.9 1446.00,883.7 1447.00,881.4 1448.00,884.0 1449.00,879.6 1450.00,880.6 1451.00,885.2 1452.00,883.8 1453.00,885.9 1454.00,881.5 1455.00,883.6 1456.00,885.4 1457.00,886.0 1458.00,883.1 1459.00,883.8 1460.00,882.4 1461.00,882.0 1462.00,881.9 1463.00,883.0 1464.00,878.4 1465.00,882.3 1466.00,879.9 1467.00,883.0 1468.00,882.5 1469.00,884.0 1470.00,882.5 1471.00,882.5 1472.00,878.9 1473.00,886.2 1474.00,878.5 1475.00,876.8 1476.00,882.8 1477.00,883.3 1478.00,881.4 1479.00,880.6 1480.00,878.3 1481.00,886.4 1482.00,876.7 1483.00,887.8 1484.00,877.2 1485.00,878.7 1486.00,880.9 1487.00,880.4 1488.00,882.8 1489.00,878.9 1490.00,880.1 1491.00,876.6 1492.00,883.9 1493.00,879.7 1494.00,878.9 1495.00,881.4 1496.00,884.3 1497.00,883.2 1498.00,880.7 1499.00,883.5 1500.00,883.7 1501.00,883.5 1502.00,881.2 1503.00,883.5 1504.00,878.3 1505.00,881.3 1506.00,879.2 1507.00,882.0 1508.00,880.7 1509.00,884.5 1510.00,882.0 1511.00,886.8 1512.00,881.5 1513.00,887.4 1514.00,882.8 1515.00,879.5 1516.00,883.4 1517.00,889.0 1518.00,886.5 1519.00,886.5 1520.00,883.4 1521.00,884.7 1522.00,880.4 1523.00,887.0 1524.00,886.5 1525.00,883.2 1526.00,880.2 1527.00,879.7 1528.00,883.0 1529.00,882.0 1530.00,879.2 1531.00,884.1 1532.00,885.0 1533.00,884.7 1534.00,884.8 1535.00,884.9 1536.00,884.0 1537.00,882.9 1538.00,881.8 1539.00,886.5 1540.00,878.7 1541.00,882.9 1542.00,885.2 1543.00,889.2 1544.00,882.4 1545.00,887.2 1546.00,887.2 1547.00,886.5 1548.00,889.0 1549.00,879.6 1550.00,886.7 1551.00,883.9 1552.00,885.3 1553.00,883.8 1554.00,882.0 1555.00,879.3 1556.00,885.5 1557.00,883.8 1558.00,880.9 1559.00,884.2 1560.00,882.0 1561.00,883.0 1562.00,886.3 1563.00,888.3 1564.00,881.4 1565.00,886.8 1566.00,888.2 1567.00,882.8 1568.00,885.0 1569.00,886.3 1570.00,887.5 1571.00,881.5 1572.00,880.2 1573.00,882.9 1574.00,883.2 1575.00,884.5 1576.00,884.7 1577.00,879.3 1578.00,886.4 1579.00,879.9 1580.00,885.3 1581.00,885.6 1582.00,885.4 1583.00,885.0 1584.00,885.0 1585.00,881.8 1586.00,881.6 1587.00,889.4 1588.00,887.8 1589.00,887.1 1590.00,885.7 1591.00,879.2 1592.00,888.6 1593.00,883.0 1594.00,883.5 1595.00,885.7 1596.00,881.8 1597.00,887.0 1598.00,877.2 1599.00,886.6 1600.00,884.7 1601.00,880.9 1602.00,885.9 1603.00,887.1 1604.00,886.5 1605.00,887.3 1606.00,884.5 1607.00,888.4 1608.00,888.2 1609.00,888.6 1610.00,886.8 1611.00,880.2 1612.00,886.0 1613.00,880.8 1614.00,882.4 1615.00,884.3 1616.00,885.3 1617.00,884.2 1618.00,886.0 1619.00,886.7 1620.00,885.7 1621.00,885.4 1622.00,886.0 1623.00,886.9 1624.00,882.5 1625.00,880.8 1626.00,888.1 1627.00,886.0 1628.00,880.1 1629.00,889.4 1630.00,889.9 1631.00,882.2 1632.00,883.5 1633.00,884.9 1634.00,882.5 1635.00,883.6 1636.00,884.7 1637.00,887.1 1638.00,878.7 1639.00,885.0 1640.00,887.8 1641.00,879.2 1642.00,886.1 1643.00,885.2 1644.00,883.6 1645.00,887.0 1646.00,888.3 1647.00,887.4 1648.00,889.8 1649.00,882.0 1650.00,878.8 1651.00,883.3 1652.00,885.6 1653.00,888.6 1654.00,887.3 1655.00,884.6 1656.00,889.7 1657.00,886.9 1658.00,886.1 1659.00,884.7 1660.00,886.0 1661.00,886.2 1662.00,884.8 1663.00,878.8 1664.00,882.5 1665.00,886.1 1666.00,889.2 1667.00,888.3 1668.00,887.8 1669.00,889.2 1670.00,886.1 1671.00,887.6 1672.00,886.5 1673.00,884.1 1674.00,881.5 1675.00,879.9 1676.00,885.9 1677.00,881.8 1678.00,885.2 1679.00,887.9 1680.00,884.2 1681.00,888.9 1682.00,886.8 1683.00,884.5 1684.00,888.7 1685.00,889.3 1686.00,886.0 1687.00,888.6 1688.00,884.2 1689.00,887.5 1690.00,888.0 1691.00,884.3 1692.00,886.9 1693.00,890.1 1694.00,883.9 1695.00,882.1 1696.00,880.8 1697.00,882.1 1698.00,881.6 1699.00,880.5 1700.00,885.7 1701.00,886.8 1702.00,883.6 1703.00,886.9 1704.00,888.9 1705.00,887.1 1706.00,886.3 1707.00,887.3 1708.00,883.4 1709.00,887.3 1710.00,889.8 1711.00,882.7 1712.00,879.2 1713.00,882.2 1714.00,881.3 1715.00,884.4 1716.00,887.2 1717.00,885.6 1718.00,888.8 1719.00,885.5 1720.00,884.5 1721.00,879.2 1722.00,886.0 1723.00,883.7 1724.00,884.5 1725.00,885.7 1726.00,891.4 1727.00,889.9 1728.00,887.3 1729.00,883.0 1730.00,885.4 1731.00,885.6 1732.00,888.3 1733.00,887.2 1734.00,886.9 1735.00,882.8 1736.00,887.7 1737.00,890.8 1738.00,881.0 1739.00,881.8 1740.00,885.1 1741.00,887.9 1742.00,886.3 1743.00,886.2 1744.00,890.2 1745.00,883.6 1746.00,881.0 1747.00,882.4 1748.00,888.7 1749.00,889.1 1750.00,885.4 1751.00,882.6 1752.00,884.0 1753.00,887.2 1754.00,888.7 1755.00,884.3 1756.00,883.6 1757.00,883.2 1758.00,884.2 1759.00,887.8 1760.00,886.6 1761.00,887.3 1762.00,886.8 1763.00,887.2 1764.00,882.9 1765.00,883.4 1766.00,887.1 1767.00,887.1 1768.00,888.7 1769.00,885.4 1770.00,883.6 1771.00,885.8 1772.00,886.0 1773.00,888.4 1774.00,886.9 1775.00,889.1 1776.00,889.1 1777.00,889.0 1778.00,889.1 1779.00,884.8 1780.00,890.4 1781.00,891.8 1782.00,889.4 1783.00,891.4 1784.00,888.1 1785.00,885.4 1786.00,888.2 1787.00,886.5 1788.00,886.3 1789.00,891.1 1790.00,884.5 1791.00,890.0 1792.00,885.6 1793.00,882.6 1794.00,889.3 1795.00,887.8 1796.00,888.2 1797.00,888.4 1798.00,890.8 1799.00,889.0 1800.00,887.2 1801.00,887.5 1802.00,888.7 1803.00,885.9 1804.00,888.2 1805.00,881.6 1806.00,886.8 1807.00,887.2 1808.00,889.3 1809.00,884.7 1810.00,887.1 1811.00,889.0 1812.00,893.1 1813.00,888.0 1814.00,889.1 1815.00,885.9 1816.00,892.6 1817.00,886.5 1818.00,886.4 1819.00,887.4 1820.00,883.5 1821.00,884.3 1822.00,885.9 1823.00,884.7 1824.00,889.1 1825.00,884.8 1826.00,891.4 1827.00,886.2 1828.00,883.3 1829.00,885.3 1830.00,886.8 1831.00,885.1 1832.00,886.4 1833.00,884.8 1834.00,883.5 1835.00,885.4 1836.00,890.2 1837.00,884.7 1838.00,885.6 1839.00,881.8 1840.00,884.1 1841.00,886.8 1842.00,885.2 1843.00,889.3 1844.00,889.1 1845.00,885.6 1846.00,886.7 1847.00,888.9 1848.00,888.6 1849.00,887.4 1850.00,884.0 1851.00,892.8 1852.00,889.9 1853.00,890.7 1854.00,887.8 1855.00,892.8 1856.00,887.9 1857.00,887.9 1858.00,881.5 1859.00,884.8 1860.00,886.0 1861.00,887.2 1862.00,888.1 1863.00,885.9 1864.00,889.2 1865.00,886.3 1866.00,886.0 1867.00,886.3 1868.00,881.8 1869.00,880.2 1870.00,890.5 1871.00,881.1 1872.00,884.2 1873.00,887.5 1874.00,884.4 1875.00,889.2 1876.00,881.4 1877.00,887.0 1878.00,888.3 1879.00,892.4 1880.00,890.6 1881.00,885.0 1882.00,889.1 1883.00,887.6 1884.00,884.0 1885.00,886.0 1886.00,890.2 1887.00,886.9 1888.00,885.4 1889.00,886.4 1890.00,884.4 1891.00,883.1 1892.00,887.7 1893.00,887.6 1894.00,888.7 1895.00,881.5 1896.00,883.0 1897.00,887.4 1898.00,887.1 1899.00,886.6 1900.00,884.4 1901.00,887.0 1902.00,884.1 1903.00,891.7 1904.00,889.5 1905.00,885.1 1906.00,890.8 1907.00,884.9 1908.00,888.9 1909.00,887.7 1910.00,886.2 1911.00,890.6 1912.00,882.8 1913.00,886.1 1914.00,885.9 1915.00,881.9 1916.00,882.5 1917.00,886.5 1918.00,886.7 1919.00,883.2 1920.00,887.3 1921.00,887.1 1922.00,887.9 1923.00,885.4 1924.00,885.8 1925.00,887.7 1926.00,884.8 1927.00,884.3 1928.00,883.5 1929.00,888.1 1930.00,890.3 1931.00,882.5 1932.00,886.7 1933.00,889.5 1934.00,891.6 1935.00,888.7 1936.00,886.1 1937.00,890.2 1938.00,894.2 1939.00,889.2 1940.00,889.9 1941.00,892.4 1942.00,884.1 1943.00,889.9 1944.00,891.5 1945.00,890.1 1946.00,888.0 1947.00,886.5 1948.00,885.9 1949.00,883.9 1950.00,886.1 1951.00,884.6 1952.00,887.6 1953.00,887.5 1954.00,886.7 1955.00,887.4 1956.00,888.3 1957.00,884.8 1958.00,889.2 1959.00,887.9 1960.00,888.6 1961.00,886.1 1962.00,886.8 1963.00,888.0 1964.00,888.3 1965.00,887.4 1966.00,888.0 1967.00,887.9 1968.00,888.7 1969.00,888.2 1970.00,888.5 1971.00,888.5 1972.00,894.8 1973.00,890.1" fill="none" stroke="#00ee00" stroke-width="11.00" stroke-linejoin="round" stroke-linecap="round"/>
<polyline points="199.00,660.9 200.00,662.0 201.00,659.1 202.00,666.5 203.00,660.4 204.00,661.2 205.00,662.2 206.00,660.3 207.00,668.4 208.00,665.9 209.00,668.5 210.00,657.7 211.00,664.9 212.00,662.5 213.00,660.0 214.00,663.1 215.00,667.0 216.00,666.1 217.00,661.9 218.00,669.0 219.00,666.6 220.00,661.7 221.00,661.8 222.00,662.1 223.00,663.4 224.00,662.1 225.00,661.6 226.00,665.6 227.00,661.2 228.00,663.3 229.00,661.3 230.00,662.3 231.00,666.1 232.00,663.0 233.00,665.0 234.00,662.8 235.00,665.8 236.00,662.8 237.00,665.9 238.00,659.5 239.00,665.7 240.00,663.6 241.00,659.7 242.00,660.0 243.00,656.2 244.00,660.3 245.00,661.1 246.00,659.8 247.00,664.5 248.00,656.6 249.00,662.2 250.00,660.0 251.00,662.4 252.00,666.0 253.00,663.8 254.00,667.7 254.25,662.8 254.50,662.1 254.75,663.0 255.00,659.9 255.25,661.4 255.50,663.5 255.75,666.0 256.00,660.9 256.25,661.1 256.50,659.3 256.75,659.7 257.00,663.1 257.25,663.1 257.50,663.6 257.75,661.8 258.00,665.0 258.25,657.3 258.50,661.5 258.75,663.0 259.00,660.1 259.25,661.7 259.50,659.5 259.75,658.6 260.00,659.5 260.25,656.7 260.50,657.6 260.75,658.4 261.00,652.9 261.25,656.3 261.50,656.1 261.75,655.5 262.00,647.9 262.25,648.7 262.50,636.9 262.75,633.0 263.00,630.2 263.25,619.3 263.50,611.4 263.75,604.2 264.00,603.2 264.25,605.2 264.50,611.6 264.75,622.5 265.00,629.2 265.25,637.1 265.50,643.0 265.75,647.6 266.00,648.6 266.25,650.4 266.50,652.3 266.75,652.1 267.00,657.3 267.25,656.9 267.50,660.6 267.75,659.4 268.00,657.9 268.25,661.9 268.50,659.4 268.75,660.4 269.00,662.1 269.25,661.7 269.50,659.3 269.75,663.2 270.00,662.5 270.25,661.6 270.50,661.2 270.75,662.4 271.00,658.0 271.25,665.2 271.50,656.0 271.75,659.4 272.00,659.5 272.25,663.0 272.50,662.1 272.75,662.9 273.00,658.9 273.25,665.1 273.50,664.3 273.75,656.6 274.00,662.5 275.00,657.0 276.00,660.9 277.00,664.0 278.00,663.0 279.00,659.9 280.00,661.9 281.00,666.6 282.00,663.9 283.00,664.9 284.00,658.4 285.00,663.7 286.00,662.5 287.00,659.1 288.00,665.3 289.00,661.8 290.00,664.3 290.25,660.8 290.50,663.1 290.75,663.5 291.00,661.9 291.25,662.5 291.50,663.0 291.75,662.0 292.00,659.1 292.25,663.1 292.50,662.0 292.75,663.0 293.00,660.3 293.25,666.2 293.50,664.6 293.75,665.8 294.00,667.0 294.25,664.8 294.50,661.5 294.75,659.0 295.00,665.0 295.25,662.8 295.50,664.1 295.75,665.3 296.00,661.4 296.25,659.3 296.50,662.5 296.75,660.1 297.00,658.9 297.25,661.7 297.50,659.7 297.75,661.2 298.00,656.7 298.25,658.6 298.50,657.6 298.75,657.5 299.00,655.4 299.25,657.8 299.50,651.9 299.75,656.3 300.00,657.7 300.25,655.0 300.50,655.6 300.75,654.0 301.00,657.3 301.25,658.4 301.50,658.4 301.75,659.6 302.00,660.5 302.25,660.2 302.50,655.5 302.75,657.7 303.00,660.5 303.25,666.4 303.50,663.9 303.75,661.4 304.00,661.1 304.25,660.6 304.50,663.3 304.75,661.2 305.00,662.2 305.25,659.9 305.50,661.1 305.75,659.8 306.00,660.3 306.25,661.5 306.50,665.3 306.75,663.3 307.00,665.1 307.25,661.3 307.50,663.2 307.75,661.0 308.00,662.1 308.25,662.2 308.50,658.6 308.75,662.7 309.00,659.6 309.25,663.8 309.50,661.0 309.75,658.7 310.00,659.7 311.00,660.4 312.00,666.2 313.00,659.5 314.00,661.6 315.00,663.0 316.00,662.1 317.00,662.3 318.00,664.1 319.00,660.6 320.00,666.5 321.00,665.5 322.00,662.5 323.00,665.3 324.00,662.4 325.00,661.2 326.00,659.5 327.00,660.9 328.00,664.1 329.00,663.7 330.00,666.6 331.00,666.3 332.00,664.5 333.00,662.4 334.00,666.2 335.00,661.6 336.00,656.2 337.00,662.0 338.00,664.3 339.00,665.1 340.00,665.6 341.00,666.6 342.00,658.6 343.00,670.0 344.00,665.5 345.00,664.1 346.00,658.9 347.00,665.5 348.00,660.8 349.00,658.3 350.00,664.5 351.00,664.3 352.00,662.5 353.00,660.4 354.00,663.5 355.00,662.3 356.00,662.7 357.00,662.7 358.00,657.6 359.00,662.2 360.00,658.5 361.00,663.2 362.00,661.6 363.00,661.8 364.00,667.6 365.00,664.6 366.00,664.6 367.00,666.1 368.00,669.6 369.00,658.5 370.00,665.6 371.00,664.6 372.00,667.1 373.00,664.2 374.00,663.8 375.00,665.3 376.00,663.6 377.00,661.3 378.00,663.7 379.00,668.3 380.00,665.3 381.00,658.1 382.00,663.6 383.00,661.6 384.00,666.4 385.00,661.2 386.00,663.8 387.00,665.3 388.00,666.2 389.00,662.5 390.00,664.6 391.00,669.4 392.00,661.9 393.00,663.5 394.00,661.1 395.00,662.6 396.00,664.3 397.00,663.2 398.00,664.7 399.00,659.7 400.00,663.3 401.00,661.9 402.00,656.7 403.00,665.4 404.00,662.8 405.00,661.0 406.00,665.1 407.00,663.7 408.00,656.4 409.00,663.7 410.00,668.5 411.00,663.4 412.00,664.9 413.00,658.5 414.00,658.3 415.00,658.2 416.00,664.1 417.00,663.2 418.00,654.4 419.00,662.2 420.00,654.2 421.00,655.6 422.00,658.6 423.00,656.7 424.00,658.0 425.00,658.4 426.00,661.0 427.00,657.0 428.00,656.7 429.00,656.7 430.00,664.7 431.00,662.0 432.00,662.0 433.00,660.2 434.00,659.2 435.00,662.3 436.00,658.1 437.00,653.9 438.00,653.4 439.00,664.3 440.00,654.6 441.00,655.4 442.00,656.7 443.00,660.2 444.00,653.6 445.00,656.2 446.00,657.9 447.00,652.7 448.00,656.8 449.00,659.9 450.00,656.8 451.00,655.9 452.00,656.8 453.00,654.5 454.00,652.8 455.00,652.0 456.00,656.5 457.00,648.0 458.00,649.3 459.00,656.1 460.00,657.5 461.00,653.5 462.00,650.1 463.00,647.2 464.00,655.1 465.00,653.5 466.00,654.0 467.00,654.2 468.00,648.7 469.00,649.6 470.00,651.9 471.00,651.5 472.00,645.8 473.00,647.1 474.00,651.1 475.00,657.4 476.00,661.3 477.00,652.8 478.00,650.4 479.00,652.8 480.00,651.8 481.00,647.8 482.00,642.0 483.00,651.8 484.00,648.3 485.00,650.5 486.00,646.1 487.00,648.6 488.00,650.3 489.00,643.4 490.00,645.8 491.00,651.3 492.00,651.6 493.00,639.9 494.00,651.0 495.00,652.8 496.00,648.4 497.00,648.1 498.00,645.9 499.00,646.3 500.00,641.6 501.00,648.5 502.00,641.6 503.00,634.0 504.00,641.7 505.00,641.9 506.00,638.1 507.00,630.0 508.00,635.0 509.00,619.9 510.00,634.9 511.00,628.0 512.00,616.5 513.00,615.5 514.00,636.1 515.00,628.5 516.00,626.6 517.00,633.5 518.00,633.0 519.00,634.7 520.00,638.4 521.00,639.5 522.00,634.5 523.00,641.4 524.00,641.8 525.00,637.2 526.00,646.3 527.00,645.0 528.00,638.3 529.00,650.9 530.00,645.6 531.00,649.3 532.00,640.0 533.00,641.2 534.00,643.5 535.00,640.0 536.00,641.2 537.00,635.3 538.00,650.3 539.00,643.1 540.00,647.0 541.00,649.5 542.00,642.1 543.00,651.6 544.00,633.2 545.00,642.1 546.00,640.5 547.00,641.8 548.00,636.0 549.00,644.0 550.00,648.0 551.00,639.4 552.00,641.7 553.00,630.0 554.00,637.0 555.00,642.7 556.00,638.6 557.00,643.6 558.00,640.3 559.00,643.5 560.00,635.6 561.00,643.8 562.00,647.7 563.00,644.3 564.00,650.5 565.00,640.6 566.00,644.9 567.00,635.1 568.00,645.0 569.00,642.9 570.00,639.7 571.00,645.9 572.00,635.9 573.00,639.9 574.00,642.5 575.00,636.7 576.00,636.5 577.00,645.0 578.00,638.8 579.00,635.5 580.00,637.7 581.00,636.9 582.00,636.7 583.00,642.2 584.00,636.5 585.00,635.2 586.00,642.6 587.00,642.5 588.00,647.5 589.00,635.5 590.00,638.0 590.25,644.8 590.50,641.6 590.75,637.3 591.00,636.0 591.25,642.4 591.50,639.0 591.75,635.3 592.00,636.8 592.25,636.7 592.50,642.4 592.75,628.1 593.00,635.2 593.25,643.0 593.50,630.2 593.75,636.3 594.00,641.1 594.25,631.5 594.50,634.8 594.75,633.2 595.00,637.6 595.25,633.8 595.50,631.9 595.75,636.7 596.00,637.0 596.25,640.8 596.50,633.8 596.75,634.4 597.00,632.2 597.25,639.3 597.50,638.8 597.75,629.2 598.00,622.4 598.25,639.1 598.50,621.1 598.75,619.9 599.00,623.3 599.25,632.2 599.50,626.9 599.75,619.7 600.00,623.4 600.25,620.1 600.50,627.1 600.75,622.1 601.00,633.0 601.25,630.5 601.50,627.1 601.75,623.5 602.00,637.2 602.25,635.5 602.50,629.7 602.75,630.7 603.00,633.1 603.25,634.2 603.50,635.3 603.75,636.4 604.00,636.8 604.25,634.6 604.50,646.3 604.75,636.3 605.00,634.8 605.25,640.1 605.50,633.9 605.75,639.6 606.00,638.2 606.25,642.1 606.50,633.3 606.75,629.2 607.00,642.5 607.25,636.5 607.50,644.9 607.75,640.4 608.00,635.1 608.25,638.5 608.50,631.8 608.75,632.5 609.00,636.8 609.25,637.2 609.50,629.2 609.75,639.8 610.00,638.6 611.00,640.5 612.00,630.1 613.00,639.5 614.00,634.8 615.00,635.9 616.00,643.1 617.00,639.3 618.00,641.3 619.00,642.4 620.00,643.2 621.00,634.0 622.00,633.7 623.00,639.1 624.00,640.7 625.00,635.9 626.00,641.5 627.00,636.8 628.00,640.1 629.00,641.5 630.00,642.6 631.00,644.2 632.00,639.5 633.00,641.2 634.00,636.6 635.00,643.0 636.00,642.4 637.00,637.8 638.00,648.6 639.00,640.2 640.00,639.6 641.00,639.1 642.00,642.2 643.00,640.9 644.00,637.1 645.00,641.5 646.00,643.6 647.00,645.1 648.00,642.1 649.00,639.4 650.00,638.4 651.00,644.9 652.00,648.8 652.25,652.7 652.50,642.6 652.75,639.5 653.00,640.1 653.25,645.6 653.50,646.6 653.75,640.4 654.00,638.2 654.25,634.7 654.50,645.7 654.75,635.7 655.00,644.4 655.25,640.9 655.50,632.8 655.75,636.0 656.00,644.9 656.25,640.3 656.50,639.0 656.75,644.9 657.00,639.1 657.25,639.3 657.50,639.0 657.75,638.5 658.00,642.4 658.25,635.0 658.50,641.5 658.75,642.8 659.00,633.5 659.25,637.3 659.50,629.9 659.75,634.6 660.00,639.0 660.25,637.0 660.50,630.5 660.75,633.8 661.00,632.6 661.25,630.2 661.50,629.6 661.75,636.9 662.00,617.8 662.25,626.0 662.50,632.9 662.75,629.3 663.00,632.1 663.25,632.9 663.50,631.5 663.75,633.4 664.00,630.8 664.25,634.7 664.50,638.5 664.75,640.1 665.00,638.5 665.25,635.6 665.50,635.3 665.75,630.0 666.00,636.8 666.25,633.8 666.50,635.1 666.75,636.8 667.00,638.7 667.25,639.2 667.50,638.8 667.75,634.1 668.00,637.1 668.25,642.1 668.50,638.8 668.75,641.1 669.00,639.8 669.25,646.1 669.50,646.9 669.75,649.7 670.00,638.4 670.25,643.6 670.50,634.7 670.75,643.4 671.00,642.4 671.25,638.7 671.50,646.5 671.75,641.0 672.00,633.6 673.00,646.3 674.00,640.1 675.00,642.8 676.00,636.3 677.00,635.5 678.00,633.8 679.00,634.7 680.00,642.6 681.00,642.2 682.00,633.1 683.00,640.3 684.00,640.7 685.00,637.5 686.00,642.2 687.00,637.9 688.00,645.5 689.00,640.4 690.00,642.7 691.00,632.0 692.00,640.6 693.00,643.0 694.00,640.5 695.00,642.6 696.00,639.5 697.00,647.2 698.00,639.1 699.00,642.1 700.00,649.6 701.00,648.5 702.00,642.8 703.00,637.0 704.00,633.7 705.00,643.1 706.00,641.7 707.00,639.0 708.00,639.2 709.00,649.6 710.00,644.5 711.00,641.0 712.00,640.2 713.00,639.8 714.00,642.9 715.00,640.7 716.00,642.5 717.00,640.5 718.00,645.8 719.00,643.9 720.00,638.1 721.00,653.3 722.00,644.2 723.00,641.0 724.00,637.7 725.00,643.2 726.00,639.6 727.00,648.7 728.00,642.9 729.00,637.2 730.00,631.3 731.00,641.3 732.00,630.3 733.00,639.0 734.00,636.8 735.00,625.4 736.00,633.3 737.00,640.3 738.00,627.8 739.00,620.0 740.00,619.9 741.00,624.0 742.00,622.0 743.00,620.0 744.00,612.3 745.00,601.0 746.00,596.4 747.00,590.6 748.00,585.2 749.00,577.2 750.00,585.3 751.00,590.4 752.00,590.7 753.00,598.5 754.00,599.0 755.00,611.3 756.00,612.5 757.00,616.8 758.00,627.8 759.00,627.8 760.00,627.3 761.00,623.5 762.00,630.3 763.00,636.5 764.00,629.9 765.00,629.4 766.00,634.8 767.00,640.7 768.00,637.1 769.00,641.8 770.00,640.5 771.00,643.6 772.00,645.0 773.00,649.2 774.00,643.0 775.00,646.9 776.00,647.3 777.00,645.9 778.00,644.0 779.00,650.3 780.00,646.3 781.00,642.2 782.00,653.1 783.00,644.8 784.00,655.4 785.00,642.5 786.00,652.7 787.00,660.2 788.00,651.2 789.00,656.8 790.00,649.7 791.00,647.8 792.00,649.2 793.00,653.8 794.00,654.6 795.00,654.5 796.00,651.4 797.00,646.7 798.00,638.8 799.00,644.9 800.00,655.5 801.00,642.6 802.00,652.4 803.00,652.8 803.25,643.6 803.50,652.1 803.75,648.8 804.00,651.1 804.25,649.6 804.50,649.0 804.75,645.8 805.00,641.0 805.25,656.9 805.50,645.5 805.75,647.9 806.00,647.2 806.25,647.4 806.50,645.3 806.75,650.6 807.00,648.0 807.25,645.8 807.50,645.1 807.75,649.5 808.00,643.3 808.25,649.2 808.50,652.3 808.75,650.9 809.00,648.4 809.25,639.1 809.50,649.2 809.75,647.2 810.00,651.7 810.25,643.4 810.50,643.6 810.75,651.2 811.00,641.2 811.25,648.6 811.50,644.3 811.75,631.7 812.00,638.6 812.25,637.1 812.50,632.2 812.75,629.0 813.00,637.0 813.25,633.0 813.50,635.8 813.75,636.4 814.00,641.1 814.25,645.9 814.50,648.8 814.75,649.0 815.00,646.5 815.25,648.0 815.50,651.6 815.75,654.8 816.00,649.7 816.25,645.1 816.50,651.8 816.75,653.4 817.00,649.0 817.25,655.9 817.50,649.2 817.75,651.2 818.00,652.7 818.25,657.8 818.50,646.5 818.75,653.4 819.00,654.4 819.25,650.8 819.50,655.4 819.75,648.6 820.00,646.5 820.25,646.1 820.50,648.3 820.75,646.7 821.00,653.0 821.25,651.0 821.50,645.1 821.75,657.1 822.00,651.7 822.25,644.1 822.50,643.2 822.75,650.8 823.00,655.9 824.00,648.9 825.00,653.7 826.00,656.0 827.00,652.1 828.00,648.4 829.00,644.9 830.00,647.8 831.00,655.8 832.00,651.1 833.00,647.6 834.00,650.0 835.00,651.1 836.00,656.3 837.00,650.1 838.00,659.4 839.00,653.6 840.00,654.5 841.00,649.6 842.00,655.7 843.00,655.6 844.00,657.7 845.00,653.0 846.00,656.1 847.00,649.7 848.00,651.3 849.00,662.4 850.00,652.8 851.00,651.5 852.00,657.3 853.00,653.8 854.00,662.1 855.00,654.9 856.00,657.2 857.00,654.1 858.00,658.5 859.00,654.7 860.00,661.7 861.00,651.8 862.00,655.4 863.00,656.1 864.00,650.2 865.00,652.2 866.00,651.5 867.00,648.8 868.00,655.1 869.00,647.1 870.00,650.0 871.00,650.4 872.00,654.6 873.00,653.1 874.00,656.6 875.00,656.9 876.00,654.0 877.00,651.0 878.00,656.2 879.00,652.2 880.00,653.7 881.00,655.0 882.00,659.3 883.00,661.6 884.00,658.7 885.00,653.9 886.00,658.1 887.00,659.1 888.00,653.0 889.00,656.0 890.00,653.8 891.00,654.0 892.00,656.1 893.00,656.4 894.00,653.6 895.00,655.8 896.00,652.1 897.00,655.0 898.00,655.8 899.00,653.9 900.00,651.0 901.00,653.4 902.00,656.9 903.00,658.7 904.00,658.8 905.00,659.1 906.00,661.2 907.00,654.9 908.00,659.4 909.00,653.7 910.00,661.0 911.00,658.8 912.00,653.2 913.00,658.2 913.70,659.1 913.95,653.9 914.00,657.2 914.20,658.8 914.45,661.6 914.70,654.7 914.95,660.7 915.00,653.4 915.20,653.9 915.45,660.2 915.70,658.5 915.95,654.1 916.00,660.7 916.20,657.7 916.45,656.8 916.70,655.5 916.95,649.5 917.00,656.2 917.20,658.8 917.45,655.9 917.70,657.9 917.95,655.4 918.00,659.7 918.20,648.9 918.45,656.8 918.70,652.5 918.95,655.6 919.00,656.8 919.20,658.1 919.45,656.8 919.70,657.7 919.95,651.0 920.00,654.2 920.20,647.3 920.45,654.1 920.70,647.9 920.95,655.1 921.00,652.5 921.20,650.6 921.45,648.9 921.70,650.4 921.95,647.3 922.00,644.7 922.20,649.1 922.45,644.4 922.70,647.2 922.95,642.0 923.00,641.1 923.20,650.3 923.45,645.1 923.70,646.6 923.95,642.6 924.00,643.3 924.20,643.8 924.45,650.3 924.70,647.6 924.95,647.0 925.00,646.8 925.20,647.9 925.45,651.7 925.70,649.7 925.95,650.5 926.00,654.4 926.20,653.8 926.45,653.9 926.70,657.7 926.95,652.2 927.00,649.3 927.20,648.2 927.45,653.0 927.70,654.1 927.95,656.4 928.00,649.6 928.20,650.0 928.45,653.3 928.70,653.3 928.95,650.2 929.00,653.7 929.20,656.2 929.45,653.6 929.70,660.9 929.95,656.4 930.00,652.0 930.20,653.7 930.45,650.2 930.70,660.5 930.95,653.5 931.00,653.4 931.20,656.3 931.45,653.2 931.70,652.2 931.95,653.9 932.00,657.0 932.20,656.9 932.45,649.9 932.70,649.1 932.95,655.0 933.00,652.8 933.20,652.2 933.45,656.5 934.00,654.4 935.00,650.9 936.00,653.2 937.00,647.9 938.00,646.4 939.00,650.1 940.00,639.5 941.00,635.9 942.00,628.9 943.00,628.8 944.00,631.4 945.00,637.3 946.00,649.0 947.00,655.1 948.00,652.8 949.00,653.8 950.00,651.5 951.00,653.5 952.00,658.5 953.00,661.0 954.00,657.3 955.00,657.1 956.00,659.8 957.00,657.7 958.00,655.7 959.00,655.9 960.00,657.7 961.00,657.4 962.00,652.0 963.00,653.4 964.00,660.9 965.00,661.4 966.00,660.8 967.00,657.7 968.00,656.3 969.00,658.1 970.00,659.0 971.00,656.6 972.00,661.2 973.00,656.2 974.00,651.7 975.00,660.3 976.00,661.1 977.00,658.0 978.00,661.2 979.00,661.2 980.00,650.8 981.00,658.2 982.00,653.2 983.00,658.2 984.00,657.1 985.00,658.9 986.00,655.9 987.00,655.0 988.00,657.7 989.00,663.5 990.00,658.3 991.00,654.1 992.00,657.0 993.00,656.4 994.00,660.9 995.00,657.6 996.00,656.5 997.00,658.1 998.00,655.6 999.00,659.2 1000.00,654.8 1001.00,656.8 1002.00,658.9 1003.00,654.5 1004.00,654.7 1005.00,656.4 1006.00,663.0 1007.00,661.4 1008.00,659.2 1009.00,661.9 1010.00,661.5 1011.00,657.3 1012.00,655.9 1013.00,662.6 1014.00,656.8 1015.00,660.1 1016.00,653.3 1017.00,657.1 1018.00,653.3 1019.00,658.4 1020.00,659.0 1021.00,658.2 1022.00,659.6 1023.00,656.1 1024.00,659.1 1025.00,660.0 1026.00,656.0 1027.00,660.5 1028.00,659.8 1029.00,660.6 1030.00,658.8 1031.00,659.6 1032.00,660.9 1033.00,659.6 1034.00,660.6 1035.00,654.8 1036.00,661.2 1037.00,655.9 1038.00,661.3 1039.00,654.3 1040.00,656.8 1041.00,659.5 1042.00,660.1 1043.00,657.8 1044.00,656.1 1045.00,660.0 1046.00,660.8 1047.00,654.9 1048.00,653.5 1049.00,654.9 1050.00,656.6 1051.00,652.2 1052.00,654.7 1053.00,659.9 1054.00,656.1 1055.00,656.4 1056.00,663.0 1057.00,661.7 1058.00,663.3 1059.00,658.5 1060.00,658.1 1061.00,657.2 1062.00,653.9 1063.00,651.7 1064.00,657.1 1065.00,654.8 1066.00,658.5 1067.00,659.1 1068.00,652.6 1069.00,653.5 1070.00,658.7 1071.00,662.6 1072.00,663.7 1073.00,657.8 1074.00,660.0 1075.00,664.1 1076.00,657.9 1077.00,657.4 1078.00,664.1 1079.00,658.4 1080.00,656.9 1081.00,664.7 1082.00,658.8 1083.00,658.8 1084.00,661.5 1085.00,663.9 1086.00,661.7 1087.00,659.8 1088.00,660.1 1089.00,659.8 1090.00,659.1 1091.00,653.1 1092.00,658.8 1093.00,654.0 1094.00,655.7 1095.00,658.1 1096.00,657.3 1097.00,658.6 1098.00,657.2 1099.00,658.3 1100.00,661.7 1101.00,653.0 1102.00,658.8 1103.00,660.4 1104.00,653.7 1105.00,653.6 1106.00,654.0 1107.00,655.1 1108.00,651.2 1109.00,651.6 1110.00,651.5 1111.00,650.8 1112.00,653.8 1113.00,647.7 1114.00,651.0 1115.00,650.9 1116.00,649.7 1117.00,650.4 1118.00,648.8 1119.00,650.2 1120.00,654.5 1121.00,655.2 1122.00,654.4 1123.00,658.9 1124.00,656.4 1125.00,656.5 1126.00,656.1 1127.00,659.8 1128.00,658.9 1129.00,658.7 1130.00,654.7 1131.00,663.5 1132.00,655.2 1133.00,660.7 1134.00,656.2 1135.00,655.0 1136.00,652.6 1137.00,659.5 1138.00,659.8 1139.00,657.8 1140.00,657.4 1141.00,654.9 1142.00,658.6 1143.00,657.9 1144.00,654.4 1145.00,657.2 1146.00,657.8 1147.00,655.8 1148.00,662.2 1149.00,655.6 1150.00,665.0 1151.00,662.9 1152.00,658.2 1153.00,664.0 1154.00,662.5 1155.00,662.7 1156.00,659.6 1157.00,656.2 1158.00,653.0 1159.00,659.8 1160.00,658.7 1161.00,657.4 1162.00,664.9 1163.00,660.5 1164.00,655.3 1165.00,659.5 1166.00,661.6 1167.00,657.0 1168.00,661.5 1169.00,660.3 1170.00,657.1 1171.00,662.4 1172.00,663.2 1173.00,654.8 1174.00,662.6 1175.00,659.7 1176.00,660.1 1177.00,656.1 1178.00,657.7 1179.00,665.2 1180.00,661.9 1181.00,659.2 1182.00,659.9 1183.00,657.4 1184.00,659.3 1185.00,657.3 1186.00,660.4 1187.00,656.5 1188.00,660.4 1189.00,662.2 1190.00,659.2 1191.00,660.7 1192.00,661.1 1193.00,658.9 1194.00,656.2 1195.00,663.0 1196.00,660.1 1197.00,658.9 1198.00,663.0 1199.00,657.0 1200.00,658.2 1201.00,657.8 1202.00,657.2 1203.00,659.9 1204.00,658.7 1205.00,664.6 1206.00,658.6 1207.00,663.7 1208.00,657.4 1209.00,658.8 1210.00,659.5 1211.00,656.7 1212.00,660.8 1213.00,657.0 1214.00,656.5 1215.00,660.0 1216.00,655.8 1217.00,659.3 1218.00,660.6 1219.00,659.9 1220.00,661.6 1221.00,656.6 1222.00,661.2 1223.00,656.3 1224.00,653.4 1225.00,657.6 1226.00,663.7 1227.00,655.7 1228.00,663.6 1229.00,654.9 1230.00,661.6 1231.00,660.8 1232.00,658.4 1233.00,653.6 1234.00,662.0 1235.00,662.2 1236.00,661.4 1237.00,662.4 1238.00,657.0 1239.00,664.5 1240.00,661.1 1241.00,656.0 1242.00,663.8 1243.00,657.3 1244.00,658.1 1245.00,658.7 1246.00,653.5 1247.00,653.0 1248.00,655.1 1249.00,652.3 1250.00,654.9 1251.00,659.3 1252.00,652.4 1253.00,655.7 1254.00,654.0 1255.00,658.0 1256.00,652.6 1257.00,652.8 1258.00,655.5 1259.00,661.5 1260.00,653.0 1261.00,650.6 1262.00,652.3 1263.00,656.6 1264.00,656.6 1265.00,653.3 1266.00,653.5 1267.00,648.1 1268.00,652.1 1269.00,649.7 1270.00,648.0 1271.00,653.0 1272.00,654.3 1273.00,651.5 1274.00,654.6 1275.00,649.7 1276.00,653.0 1277.00,660.3 1278.00,653.2 1279.00,653.4 1280.00,658.7 1281.00,648.9 1282.00,652.7 1283.00,656.2 1284.00,653.0 1285.00,651.9 1286.00,651.5 1287.00,655.0 1288.00,651.9 1289.00,655.4 1290.00,654.4 1291.00,655.0 1292.00,658.3 1293.00,654.2 1294.00,653.1 1295.00,655.9 1296.00,656.7 1297.00,655.5 1298.00,651.4 1299.00,658.0 1300.00,651.4 1301.00,650.8 1302.00,658.9 1303.00,660.5 1304.00,655.6 1305.00,654.2 1306.00,660.4 1307.00,653.0 1308.00,656.7 1309.00,655.3 1310.00,658.7 1311.00,658.1 1312.00,655.2 1313.00,660.5 1314.00,659.4 1315.00,657.2 1316.00,656.3 1317.00,656.7 1318.00,653.3 1319.00,656.0 1320.00,656.2 1321.00,658.6 1322.00,656.8 1323.00,656.4 1324.00,658.5 1325.00,660.7 1326.00,659.4 1327.00,657.4 1328.00,656.4 1329.00,661.1 1330.00,657.3 1331.00,653.8 1332.00,657.7 1333.00,652.3 1334.00,655.8 1335.00,659.1 1336.00,656.9 1337.00,656.5 1338.00,659.0 1339.00,659.8 1340.00,653.5 1341.00,652.6 1342.00,653.4 1343.00,651.8 1344.00,656.4 1345.00,657.2 1346.00,655.1 1347.00,652.6 1348.00,651.4 1349.00,655.4 1350.00,653.8 1351.00,657.2 1352.00,652.6 1353.00,654.6 1354.00,655.1 1355.00,659.1 1356.00,658.6 1357.00,657.9 1358.00,657.3 1359.00,658.8 1360.00,652.2 1361.00,659.7 1362.00,656.2 1363.00,660.7 1364.00,658.7 1365.00,659.2 1366.00,653.7 1367.00,661.5 1368.00,656.6 1369.00,655.6 1370.00,653.1 1371.00,655.4 1372.00,648.4 1373.00,657.5 1374.00,655.0 1375.00,653.3 1376.00,656.9 1377.00,654.3 1378.00,653.8 1379.00,650.8 1380.00,653.1 1381.00,649.0 1382.00,649.1 1383.00,652.5 1384.00,650.4 1385.00,648.3 1386.00,650.3 1387.00,644.6 1388.00,652.8 1389.00,645.1 1390.00,644.4 1391.00,650.3 1392.00,642.5 1393.00,641.0 1394.00,647.8 1395.00,647.9 1396.00,652.3 1397.00,650.3 1398.00,646.6 1399.00,651.9 1400.00,651.4 1401.00,656.1 1402.00,654.0 1403.00,651.1 1404.00,652.5 1405.00,655.1 1406.00,654.6 1407.00,656.9 1408.00,657.7 1409.00,654.3 1410.00,658.3 1411.00,660.0 1412.00,654.6 1413.00,654.0 1414.00,660.0 1415.00,659.5 1416.00,660.5 1417.00,662.7 1418.00,657.5 1419.00,654.9 1420.00,658.3 1421.00,655.8 1422.00,659.0 1423.00,660.3 1424.00,658.9 1425.00,660.5 1426.00,659.3 1427.00,660.3 1428.00,656.6 1429.00,664.5 1430.00,658.2 1431.00,659.0 1432.00,658.4 1433.00,659.8 1434.00,659.0 1435.00,654.5 1436.00,663.9 1437.00,660.4 1438.00,658.3 1439.00,658.7 1440.00,661.4 1441.00,660.6 1442.00,659.0 1443.00,660.4 1444.00,651.3 1445.00,659.8 1446.00,657.0 1447.00,655.6 1448.00,655.0 1449.00,658.2 1450.00,653.3 1451.00,659.1 1452.00,656.3 1453.00,660.7 1454.00,654.2 1455.00,660.3 1456.00,658.3 1457.00,656.6 1458.00,663.0 1459.00,662.4 1460.00,656.7 1461.00,658.2 1462.00,662.8 1463.00,658.9 1464.00,657.2 1465.00,656.6 1466.00,657.3 1467.00,661.2 1468.00,662.4 1469.00,659.1 1470.00,657.5 1471.00,658.3 1472.00,655.8 1473.00,662.2 1474.00,661.1 1475.00,664.3 1476.00,667.3 1477.00,664.7 1478.00,659.7 1479.00,659.8 1480.00,657.0 1481.00,654.7 1482.00,665.9 1483.00,661.9 1484.00,657.4 1485.00,663.8 1486.00,656.6 1487.00,662.1 1488.00,662.6 1489.00,660.1 1490.00,660.0 1491.00,663.1 1492.00,659.1 1493.00,663.2 1494.00,655.0 1495.00,658.6 1496.00,664.2 1497.00,656.5 1498.00,656.4 1499.00,659.0 1500.00,658.0 1501.00,660.2 1502.00,662.6 1503.00,661.7 1504.00,661.0 1505.00,659.6 1506.00,661.5 1507.00,663.6 1508.00,658.8 1509.00,660.3 1510.00,658.5 1511.00,661.8 1512.00,661.8 1513.00,659.4 1514.00,657.5 1515.00,658.0 1516.00,661.4 1517.00,657.6 1518.00,661.8 1519.00,658.3 1520.00,658.3 1521.00,662.9 1522.00,658.9 1523.00,664.6 1524.00,655.9 1525.00,662.0 1526.00,660.8 1527.00,661.5 1528.00,663.5 1529.00,657.6 1530.00,668.6 1531.00,661.3 1532.00,668.9 1533.00,664.3 1534.00,662.4 1535.00,657.3 1536.00,666.6 1537.00,664.0 1538.00,665.8 1539.00,658.6 1540.00,658.4 1541.00,662.5 1542.00,664.4 1543.00,664.5 1544.00,665.0 1545.00,658.6 1546.00,656.7 1547.00,661.8 1548.00,657.4 1549.00,660.5 1550.00,666.7 1551.00,660.3 1552.00,663.0 1553.00,663.1 1554.00,662.0 1555.00,662.6 1556.00,662.5 1557.00,660.9 1558.00,664.5 1559.00,662.5 1560.00,657.1 1561.00,663.9 1562.00,660.3 1563.00,659.5 1564.00,657.8 1565.00,662.1 1566.00,659.9 1567.00,657.9 1568.00,657.9 1569.00,663.4 1570.00,659.4 1571.00,659.3 1572.00,667.3 1573.00,662.4 1574.00,663.7 1575.00,662.8 1576.00,662.9 1577.00,660.9 1578.00,665.3 1579.00,664.0 1580.00,660.9 1581.00,662.8 1582.00,667.7 1583.00,663.5 1584.00,663.2 1585.00,661.5 1586.00,661.9 1587.00,665.2 1588.00,666.3 1589.00,664.7 1590.00,666.2 1591.00,661.1 1592.00,661.8 1593.00,663.4 1594.00,665.2 1595.00,660.4 1596.00,664.1 1597.00,658.5 1598.00,664.2 1599.00,664.6 1600.00,660.1 1601.00,661.8 1602.00,663.3 1603.00,660.0 1604.00,661.3 1605.00,661.7 1606.00,664.9 1607.00,666.4 1608.00,661.2 1609.00,661.4 1610.00,664.8 1611.00,661.1 1612.00,662.0 1613.00,664.4 1614.00,662.2 1615.00,664.8 1616.00,662.1 1617.00,661.3 1618.00,659.5 1619.00,655.4 1620.00,660.8 1621.00,657.4 1622.00,664.9 1623.00,665.3 1624.00,664.9 1625.00,667.2 1626.00,669.9 1627.00,659.6 1628.00,664.0 1629.00,666.6 1630.00,663.9 1631.00,664.3 1632.00,667.2 1633.00,665.3 1634.00,659.9 1635.00,667.1 1636.00,660.7 1637.00,663.2 1638.00,664.3 1639.00,658.4 1640.00,667.7 1641.00,665.1 1642.00,664.6 1643.00,665.9 1644.00,663.2 1645.00,665.8 1646.00,665.8 1647.00,658.2 1648.00,661.0 1649.00,666.8 1650.00,661.2 1651.00,665.2 1652.00,663.0 1653.00,665.1 1654.00,658.2 1655.00,663.0 1656.00,662.7 1657.00,663.5 1658.00,663.4 1659.00,663.0 1660.00,663.8 1661.00,664.2 1662.00,661.6 1663.00,667.2 1664.00,663.6 1665.00,662.2 1666.00,665.8 1667.00,660.4 1668.00,667.4 1669.00,663.9 1670.00,665.2 1671.00,665.5 1672.00,666.9 1673.00,664.2 1674.00,664.1 1675.00,665.8 1676.00,662.7 1677.00,663.7 1678.00,663.0 1679.00,661.9 1680.00,661.3 1681.00,661.3 1682.00,662.8 1683.00,661.0 1684.00,661.6 1685.00,671.4 1686.00,665.0 1687.00,667.4 1688.00,665.7 1689.00,666.8 1690.00,665.2 1691.00,667.5 1692.00,665.4 1693.00,665.5 1694.00,661.5 1695.00,667.2 1696.00,664.1 1697.00,664.5 1698.00,665.6 1699.00,665.1 1700.00,664.4 1701.00,667.6 1702.00,662.0 1703.00,658.9 1704.00,663.3 1705.00,658.1 1706.00,663.4 1707.00,667.1 1708.00,667.7 1709.00,660.8 1710.00,664.9 1711.00,661.1 1712.00,665.4 1713.00,668.5 1714.00,663.6 1715.00,669.5 1716.00,666.1 1717.00,671.5 1718.00,663.6 1719.00,662.7 1720.00,668.4 1721.00,667.2 1722.00,665.9 1723.00,661.9 1724.00,663.9 1725.00,661.7 1726.00,666.6 1727.00,663.8 1728.00,661.0 1729.00,661.2 1730.00,660.1 1731.00,662.9 1732.00,665.0 1733.00,666.8 1734.00,668.3 1735.00,664.0 1736.00,668.4 1737.00,659.6 1738.00,664.4 1739.00,666.2 1740.00,663.3 1741.00,665.4 1742.00,667.1 1743.00,663.6 1744.00,665.8 1745.00,668.3 1746.00,662.7 1747.00,669.2 1748.00,666.4 1749.00,663.3 1750.00,668.6 1751.00,669.8 1752.00,667.3 1753.00,668.3 1754.00,668.4 1755.00,667.0 1756.00,666.9 1757.00,668.4 1758.00,667.8 1759.00,665.3 1760.00,660.0 1761.00,661.0 1762.00,662.9 1763.00,666.5 1764.00,665.1 1765.00,668.8 1766.00,665.7 1767.00,666.0 1768.00,664.3 1769.00,668.7 1770.00,661.9 1771.00,666.2 1772.00,664.8 1773.00,663.6 1774.00,667.4 1775.00,666.5 1776.00,666.3 1777.00,664.8 1778.00,662.3 1779.00,663.0 1780.00,660.6 1781.00,663.9 1782.00,667.4 1783.00,669.4 1784.00,662.0 1785.00,667.3 1786.00,668.2 1787.00,665.3 1788.00,667.6 1789.00,663.9 1790.00,663.5 1791.00,666.3 1792.00,668.9 1793.00,668.4 1794.00,667.6 1795.00,669.1 1796.00,664.6 1797.00,668.9 1798.00,661.5 1799.00,670.4 1800.00,670.3 1801.00,672.2 1802.00,664.1 1803.00,664.9 1804.00,663.6 1805.00,662.5 1806.00,660.3 1807.00,668.7 1808.00,666.2 1809.00,666.6 1810.00,662.4 1811.00,667.7 1812.00,672.9 1813.00,668.3 1814.00,670.4 1815.00,665.4 1816.00,671.6 1817.00,669.0 1818.00,668.6 1819.00,668.6 1820.00,666.3 1821.00,668.0 1822.00,665.2 1823.00,663.7 1824.00,662.2 1825.00,662.3 1826.00,667.9 1827.00,668.8 1828.00,666.0 1829.00,666.0 1830.00,665.1 1831.00,667.2 1832.00,670.5 1833.00,667.7 1834.00,665.7 1835.00,670.0 1836.00,669.2 1837.00,662.6 1838.00,666.1 1839.00,670.6 1840.00,668.4 1841.00,667.2 1842.00,668.5 1843.00,664.2 1844.00,664.2 1845.00,667.0 1846.00,667.5 1847.00,671.5 1848.00,667.1 1849.00,668.3 1850.00,671.8 1851.00,666.3 1852.00,667.3 1853.00,668.3 1854.00,668.8 1855.00,668.5 1856.00,669.9 1857.00,664.8 1858.00,664.4 1859.00,667.6 1860.00,663.5 1861.00,671.8 1862.00,665.4 1863.00,665.9 1864.00,668.9 1865.00,668.1 1866.00,668.4 1867.00,666.6 1868.00,662.9 1869.00,665.7 1870.00,664.1 1871.00,661.1 1872.00,665.3 1873.00,669.1 1874.00,664.6 1875.00,665.6 1876.00,666.1 1877.00,670.6 1878.00,663.4 1879.00,670.2 1880.00,669.4 1881.00,669.0 1882.00,667.0 1883.00,668.9 1884.00,674.6 1885.00,670.1 1886.00,668.4 1887.00,671.6 1888.00,666.1 1889.00,672.3 1890.00,668.9 1891.00,674.9 1892.00,674.7 1893.00,670.4 1894.00,669.8 1895.00,667.5 1896.00,670.3 1897.00,670.8 1898.00,665.5 1899.00,665.3 1900.00,670.8 1901.00,668.1 1902.00,669.5 1903.00,668.8 1904.00,668.4 1905.00,666.8 1906.00,668.6 1907.00,670.2 1908.00,671.2 1909.00,666.4 1910.00,668.2 1911.00,668.5 1912.00,664.8 1913.00,665.2 1914.00,668.8 1915.00,670.3 1916.00,671.0 1917.00,667.2 1918.00,670.5 1919.00,668.4 1920.00,667.5 1921.00,671.2 1922.00,664.1 1923.00,662.4 1924.00,673.5 1925.00,668.2 1926.00,670.7 1927.00,668.6 1928.00,667.3 1929.00,666.3 1930.00,664.9 1931.00,670.4 1932.00,666.9 1933.00,669.1 1934.00,669.9 1935.00,668.7 1936.00,668.9 1937.00,672.3 1938.00,669.1 1939.00,669.0 1940.00,667.9 1941.00,672.1 1942.00,671.6 1943.00,666.7 1944.00,669.2 1945.00,667.7 1946.00,666.8 1947.00,665.5 1948.00,672.4 1949.00,669.1 1950.00,661.9 1951.00,670.1 1952.00,671.8 1953.00,667.4 1954.00,666.7 1955.00,667.2 1956.00,669.5 1957.00,665.9 1958.00,668.7 1959.00,664.0 1960.00,671.2 1961.00,665.5 1962.00,667.9 1963.00,670.4 1964.00,672.5 1965.00,668.4 1966.00,668.9 1967.00,675.1 1968.00,669.5 1969.00,669.1 1970.00,669.9 1971.00,673.1 1972.00,673.2 1973.00,674.0" fill="none" stroke="#0000f8" stroke-width="9.00" stroke-linejoin="round" stroke-linecap="round"/>
<polyline points="199.00,447.1 200.00,443.9 201.00,443.9 202.00,443.8 203.00,449.3 204.00,446.6 205.00,442.0 206.00,446.5 207.00,439.3 208.00,445.5 209.00,447.3 210.00,446.7 211.00,447.4 212.00,446.7 213.00,444.5 214.00,445.9 215.00,445.9 216.00,443.0 217.00,447.5 218.00,445.0 219.00,449.7 220.00,454.1 221.00,454.4 222.00,454.1 223.00,447.0 224.00,446.6 225.00,449.1 226.00,444.6 227.00,448.3 228.00,445.2 229.00,447.7 230.00,445.9 231.00,451.2 232.00,450.2 233.00,449.4 234.00,444.0 235.00,450.5 236.00,446.3 237.00,443.8 238.00,448.2 239.00,450.2 240.00,443.5 241.00,449.6 242.00,447.1 243.00,447.2 244.00,449.2 245.00,447.1 246.00,446.2 247.00,451.0 248.00,441.8 249.00,450.9 250.00,444.9 251.00,451.6 252.00,444.9 253.00,451.4 253.25,443.1 253.50,452.3 253.75,447.9 254.00,446.9 254.25,446.5 254.50,450.0 254.75,446.7 255.00,448.7 255.25,447.4 255.50,444.0 255.75,451.3 256.00,446.3 256.25,447.4 256.50,447.2 256.75,446.5 257.00,450.8 257.25,447.2 257.50,445.4 257.75,446.2 258.00,445.0 258.25,442.7 258.50,448.5 258.75,442.8 259.00,448.5 259.25,445.3 259.50,447.0 259.75,444.6 260.00,443.6 260.25,449.6 260.50,442.8 260.75,440.9 261.00,444.1 261.25,446.0 261.50,438.2 261.75,439.3 262.00,441.9 262.25,440.9 262.50,438.6 262.75,435.0 263.00,436.2 263.25,434.3 263.50,438.5 263.75,438.7 264.00,440.8 264.25,440.7 264.50,444.1 264.75,443.2 265.00,441.7 265.25,448.0 265.50,445.4 265.75,444.5 266.00,445.1 266.25,449.8 266.50,446.5 266.75,447.3 267.00,444.7 267.25,446.2 267.50,445.8 267.75,445.3 268.00,445.0 268.25,447.1 268.50,444.8 268.75,450.0 269.00,450.6 269.25,446.1 269.50,449.4 269.75,446.3 270.00,448.8 270.25,449.0 270.50,443.3 270.75,441.4 271.00,448.7 271.25,448.5 271.50,447.1 271.75,445.5 272.00,445.0 272.25,440.6 272.50,450.2 272.75,440.5 273.00,446.8 274.00,445.1 275.00,445.9 276.00,442.4 277.00,443.9 278.00,447.7 279.00,444.1 280.00,447.7 281.00,444.6 282.00,448.4 283.00,449.2 284.00,448.0 285.00,449.3 286.00,444.9 287.00,446.4 288.00,446.9 289.00,451.4 290.00,446.2 290.60,447.6 290.85,450.6 291.00,448.0 291.10,449.8 291.35,444.7 291.60,449.9 291.85,447.3 292.00,448.6 292.10,449.0 292.35,442.2 292.60,450.0 292.85,445.9 293.00,449.9 293.10,446.2 293.35,447.2 293.60,442.5 293.85,443.3 294.00,448.8 294.10,443.8 294.35,446.4 294.60,445.3 294.85,442.3 295.00,444.4 295.10,444.5 295.35,446.1 295.60,443.1 295.85,442.1 296.00,447.0 296.10,446.9 296.35,442.9 296.60,439.5 296.85,442.5 297.00,439.6 297.10,444.3 297.35,439.6 297.60,436.9 297.85,436.5 298.00,433.9 298.10,435.5 298.35,430.5 298.60,432.0 298.85,430.9 299.00,428.1 299.10,423.1 299.35,422.8 299.60,416.5 299.85,409.4 300.00,410.2 300.10,411.1 300.35,406.5 300.60,404.0 300.85,404.4 301.00,407.6 301.10,410.3 301.35,413.9 301.60,421.0 301.85,424.5 302.00,427.3 302.10,425.5 302.35,430.7 302.60,432.4 302.85,435.6 303.00,436.5 303.10,442.8 303.35,435.1 303.60,440.3 303.85,439.2 304.00,442.1 304.10,442.1 304.35,446.1 304.60,442.6 304.85,441.8 305.00,444.7 305.10,444.8 305.35,439.0 305.60,449.6 305.85,442.8 306.00,449.2 306.10,448.6 306.35,449.2 306.60,446.5 306.85,444.1 307.00,444.3 307.10,449.5 307.35,445.3 307.60,447.7 307.85,445.9 308.00,445.4 308.10,449.4 308.35,444.7 308.60,446.7 308.85,446.6 309.00,447.7 309.10,447.1 309.35,444.9 309.60,446.5 309.85,446.8 310.00,452.7 310.10,449.7 310.35,447.5 311.00,448.4 312.00,447.4 313.00,452.4 314.00,447.8 315.00,445.9 316.00,454.4 317.00,446.4 318.00,447.1 319.00,446.3 320.00,449.9 321.00,447.3 322.00,447.2 323.00,451.8 324.00,452.5 325.00,449.2 326.00,445.3 327.00,448.8 328.00,445.5 329.00,447.4 330.00,447.5 331.00,443.8 332.00,449.0 333.00,446.8 334.00,446.7 335.00,444.1 336.00,449.2 337.00,445.0 338.00,447.0 339.00,444.1 340.00,443.5 341.00,443.4 342.00,442.3 343.00,445.4 344.00,449.8 345.00,449.1 346.00,444.1 347.00,444.2 348.00,450.3 349.00,448.5 350.00,446.7 351.00,445.8 352.00,445.9 353.00,441.1 354.00,445.3 355.00,452.1 356.00,450.7 357.00,445.8 358.00,448.4 359.00,447.7 360.00,444.5 361.00,443.5 362.00,444.0 363.00,445.7 364.00,448.4 365.00,445.4 366.00,445.1 367.00,444.6 368.00,448.7 369.00,450.0 370.00,446.6 371.00,445.7 372.00,446.7 373.00,447.1 374.00,448.3 375.00,447.4 376.00,442.7 377.00,444.1 378.00,442.8 379.00,445.1 380.00,440.2 381.00,438.0 382.00,442.3 383.00,440.4 384.00,440.9 385.00,442.1 386.00,440.5 387.00,443.4 388.00,440.8 389.00,441.0 390.00,444.8 391.00,442.0 392.00,445.0 393.00,442.3 394.00,439.2 395.00,438.9 396.00,437.6 397.00,440.1 398.00,441.4 399.00,440.0 400.00,440.4 401.00,437.4 402.00,443.0 403.00,441.4 404.00,442.5 405.00,437.2 406.00,439.7 407.00,438.4 408.00,444.1 409.00,439.6 410.00,445.6 411.00,441.0 412.00,438.3 413.00,442.7 414.00,444.0 415.00,439.2 416.00,438.1 417.00,439.4 418.00,436.6 419.00,436.9 420.00,434.0 421.00,437.9 422.00,436.0 423.00,439.6 424.00,439.9 425.00,441.7 426.00,439.5 427.00,438.0 428.00,441.5 429.00,436.3 430.00,432.5 431.00,434.1 432.00,436.4 433.00,438.8 434.00,439.9 435.00,434.5 436.00,440.0 437.00,438.0 438.00,439.0 439.00,434.6 440.00,436.9 441.00,431.8 442.00,438.3 443.00,437.1 444.00,440.1 445.00,441.2 446.00,435.0 447.00,440.3 448.00,440.6 449.00,436.4 450.00,442.8 451.00,434.2 452.00,431.8 453.00,436.0 454.00,441.1 455.00,436.9 456.00,429.1 457.00,432.7 458.00,438.1 459.00,431.2 460.00,432.7 461.00,429.3 462.00,439.5 463.00,438.6 464.00,428.1 465.00,426.2 466.00,434.6 467.00,434.1 468.00,432.1 469.00,432.0 470.00,430.0 471.00,434.0 472.00,433.3 473.00,434.4 474.00,432.6 475.00,426.8 476.00,426.9 477.00,427.1 478.00,428.3 479.00,424.8 480.00,424.5 481.00,427.1 482.00,426.6 483.00,428.2 484.00,435.6 485.00,434.9 486.00,427.0 487.00,429.1 488.00,427.1 489.00,424.3 490.00,429.8 491.00,419.0 492.00,427.8 493.00,425.2 494.00,420.9 495.00,427.8 496.00,429.5 497.00,426.0 498.00,427.1 499.00,421.8 500.00,427.8 501.00,432.5 502.00,421.6 503.00,435.9 504.00,417.9 505.00,428.2 506.00,420.4 507.00,422.2 508.00,419.1 509.00,416.7 510.00,418.7 511.00,411.3 512.00,412.7 513.00,417.9 514.00,414.7 515.00,408.7 516.00,417.6 517.00,419.0 518.00,418.9 519.00,426.3 520.00,424.6 521.00,421.4 522.00,422.7 523.00,419.3 524.00,423.4 525.00,434.1 526.00,418.8 527.00,434.4 528.00,426.2 529.00,425.7 530.00,424.4 531.00,421.6 532.00,429.8 533.00,425.9 534.00,424.9 535.00,428.0 536.00,435.3 537.00,427.2 538.00,429.0 539.00,435.9 540.00,425.6 541.00,433.4 542.00,439.9 543.00,429.0 544.00,421.6 545.00,432.5 546.00,426.1 547.00,432.2 548.00,427.8 549.00,425.8 550.00,419.7 551.00,427.5 552.00,424.7 553.00,424.8 554.00,424.9 555.00,424.7 556.00,423.3 557.00,421.5 558.00,412.6 559.00,415.2 560.00,414.8 561.00,420.8 562.00,421.0 563.00,412.7 564.00,416.1 565.00,416.8 566.00,421.7 567.00,422.3 568.00,424.3 569.00,419.5 570.00,421.4 571.00,432.3 572.00,419.0 573.00,430.6 574.00,428.1 575.00,429.3 576.00,425.4 577.00,424.5 578.00,427.4 579.00,423.0 580.00,423.1 581.00,421.7 582.00,425.2 583.00,423.6 584.00,423.2 585.00,427.7 586.00,426.5 587.00,420.6 588.00,425.4 589.00,431.1 589.25,426.8 589.50,431.4 589.75,417.5 590.00,426.2 590.25,416.1 590.50,426.9 590.75,421.3 591.00,423.3 591.25,425.7 591.50,420.0 591.75,420.5 592.00,421.6 592.25,426.3 592.50,428.7 592.75,419.4 593.00,418.6 593.25,422.7 593.50,417.3 593.75,416.5 594.00,424.4 594.25,419.9 594.50,428.7 594.75,418.0 595.00,428.1 595.25,426.8 595.50,419.9 595.75,421.9 596.00,410.6 596.25,421.2 596.50,419.7 596.75,415.3 597.00,423.6 597.25,406.5 597.50,418.0 597.75,413.2 598.00,411.5 598.25,401.6 598.50,408.1 598.75,401.2 599.00,403.4 599.25,407.3 599.50,401.8 599.75,398.1 600.00,412.2 600.25,414.1 600.50,414.1 600.75,414.0 601.00,414.1 601.25,419.6 601.50,422.4 601.75,418.6 602.00,426.7 602.25,420.6 602.50,424.8 602.75,421.6 603.00,422.6 603.25,427.0 603.50,425.9 603.75,428.4 604.00,428.2 604.25,423.7 604.50,426.9 604.75,425.9 605.00,425.9 605.25,427.4 605.50,424.5 605.75,424.9 606.00,426.5 606.25,420.4 606.50,428.0 606.75,428.8 607.00,415.8 607.25,427.8 607.50,421.7 607.75,421.2 608.00,427.6 608.25,420.9 608.50,425.8 608.75,422.1 609.00,419.7 610.00,432.7 611.00,421.9 612.00,420.3 613.00,424.0 614.00,433.4 615.00,418.9 616.00,430.8 617.00,423.0 618.00,426.4 619.00,424.4 620.00,428.4 621.00,420.0 622.00,430.6 623.00,420.1 624.00,416.2 625.00,423.4 626.00,426.4 627.00,426.2 628.00,427.8 629.00,423.1 630.00,430.3 631.00,427.8 632.00,420.3 633.00,422.6 634.00,421.2 635.00,423.2 636.00,425.6 637.00,422.9 638.00,424.3 639.00,428.4 640.00,429.0 641.00,431.8 642.00,414.7 643.00,422.4 644.00,421.9 645.00,422.4 646.00,420.7 647.00,420.3 648.00,427.0 649.00,428.9 650.00,418.3 650.25,426.0 650.50,413.3 650.75,424.8 651.00,429.6 651.25,426.2 651.50,418.5 651.75,418.1 652.00,420.3 652.25,426.9 652.50,422.7 652.75,421.9 653.00,422.9 653.25,415.8 653.50,410.8 653.75,417.2 654.00,417.2 654.25,420.2 654.50,418.7 654.75,427.7 655.00,415.5 655.25,414.4 655.50,422.2 655.75,415.7 656.00,423.0 656.25,421.9 656.50,416.3 656.75,414.8 657.00,403.4 657.25,414.2 657.50,407.7 657.75,407.5 658.00,406.8 658.25,400.8 658.50,393.3 658.75,392.5 659.00,387.6 659.25,393.5 659.50,387.3 659.75,386.3 660.00,383.5 660.25,385.5 660.50,382.3 660.75,389.8 661.00,387.1 661.25,395.7 661.50,396.1 661.75,401.7 662.00,406.8 662.25,406.3 662.50,406.9 662.75,411.6 663.00,407.1 663.25,410.6 663.50,413.7 663.75,406.8 664.00,410.9 664.25,423.5 664.50,416.2 664.75,416.7 665.00,418.9 665.25,416.2 665.50,415.5 665.75,416.5 666.00,422.7 666.25,425.6 666.50,416.5 666.75,418.7 667.00,421.4 667.25,414.8 667.50,420.3 667.75,424.8 668.00,425.3 668.25,430.0 668.50,419.5 668.75,421.1 669.00,425.1 669.25,422.8 669.50,426.5 669.75,421.8 670.00,414.5 671.00,418.8 672.00,415.6 673.00,424.0 674.00,429.2 675.00,426.6 676.00,422.5 677.00,416.2 678.00,424.9 679.00,422.0 680.00,422.2 681.00,425.1 682.00,434.5 683.00,423.2 684.00,422.2 685.00,419.5 686.00,430.1 687.00,422.3 688.00,418.6 689.00,425.0 690.00,428.0 691.00,421.2 692.00,426.0 693.00,418.9 694.00,431.2 695.00,420.4 696.00,425.5 697.00,421.8 698.00,423.8 699.00,427.7 700.00,424.0 701.00,426.3 702.00,431.4 703.00,435.6 704.00,428.9 705.00,424.9 706.00,425.3 707.00,418.3 708.00,419.5 709.00,419.9 710.00,427.0 711.00,425.1 712.00,424.6 713.00,436.4 714.00,426.3 715.00,429.8 716.00,428.0 717.00,426.0 718.00,427.8 719.00,418.8 720.00,425.8 721.00,429.8 722.00,432.5 723.00,424.3 724.00,431.2 725.00,428.6 726.00,423.7 727.00,418.8 728.00,427.4 729.00,423.5 730.00,431.6 731.00,428.5 732.00,419.7 733.00,423.3 734.00,426.2 735.00,429.2 736.00,412.0 737.00,423.5 738.00,414.5 739.00,417.7 740.00,413.2 741.00,418.9 742.00,413.6 743.00,416.3 744.00,409.6 745.00,394.9 746.00,380.8 747.00,380.0 748.00,368.1 749.00,361.2 750.00,351.5 751.00,352.3 752.00,364.5 753.00,370.9 754.00,375.1 755.00,386.4 756.00,385.3 757.00,392.1 758.00,397.7 759.00,392.5 760.00,390.4 761.00,399.7 762.00,401.9 763.00,416.1 764.00,412.4 765.00,414.1 766.00,415.2 767.00,413.6 768.00,421.0 769.00,425.8 770.00,422.2 771.00,429.0 772.00,431.1 773.00,430.4 774.00,425.1 775.00,425.1 776.00,432.6 777.00,426.5 778.00,427.0 779.00,427.7 780.00,436.3 781.00,422.5 782.00,435.9 783.00,435.2 784.00,438.4 785.00,433.7 786.00,441.5 787.00,435.0 788.00,427.7 789.00,425.2 790.00,431.6 791.00,433.3 792.00,432.8 793.00,436.0 794.00,436.7 795.00,421.5 796.00,431.8 797.00,431.9 798.00,434.5 799.00,428.3 800.00,436.8 801.00,431.9 802.00,437.3 803.00,428.7 804.00,431.2 805.00,426.5 806.00,428.4 807.00,431.5 808.00,430.8 809.00,434.8 810.00,435.2 811.00,433.3 812.00,433.2 813.00,428.5 814.00,431.2 815.00,432.0 816.00,430.2 817.00,436.6 818.00,436.1 819.00,430.9 820.00,432.6 821.00,434.5 822.00,435.3 823.00,440.9 824.00,434.4 825.00,432.9 826.00,436.8 827.00,438.0 828.00,439.6 829.00,430.6 830.00,432.7 831.00,433.8 832.00,433.1 833.00,426.0 834.00,433.7 835.00,438.0 836.00,435.4 837.00,433.0 838.00,430.2 839.00,430.8 840.00,434.0 841.00,431.2 842.00,431.0 843.00,427.6 844.00,434.7 845.00,435.9 846.00,433.3 847.00,436.3 848.00,435.2 849.00,441.0 850.00,435.7 851.00,436.6 852.00,432.3 853.00,435.7 854.00,434.2 855.00,433.6 856.00,439.8 857.00,437.0 858.00,438.0 859.00,436.0 860.00,432.3 861.00,435.6 862.00,439.0 863.00,433.4 864.00,435.2 865.00,435.5 866.00,438.5 867.00,435.2 868.00,437.1 869.00,436.6 870.00,434.3 871.00,436.2 872.00,432.3 873.00,435.1 874.00,438.6 875.00,438.6 876.00,438.2 877.00,436.9 878.00,438.9 879.00,437.9 880.00,436.0 881.00,431.0 882.00,442.0 883.00,442.0 884.00,433.1 885.00,439.7 886.00,434.7 887.00,438.8 888.00,432.8 889.00,435.0 890.00,433.6 891.00,436.8 892.00,437.1 893.00,434.7 894.00,428.5 895.00,435.8 896.00,433.1 897.00,441.1 898.00,435.9 899.00,431.8 900.00,437.5 901.00,434.1 902.00,439.1 903.00,434.3 904.00,439.0 905.00,433.2 906.00,441.3 907.00,438.1 908.00,440.4 909.00,437.9 910.00,444.5 911.00,438.3 912.00,440.6 913.00,438.2 914.00,441.8 915.00,434.1 916.00,433.5 917.00,439.3 918.00,436.0 919.00,435.5 920.00,439.8 921.00,438.6 922.00,432.4 923.00,439.4 924.00,437.6 925.00,436.1 926.00,441.2 927.00,440.7 928.00,443.0 929.00,437.5 930.00,436.0 931.00,445.0 932.00,440.3 933.00,439.4 934.00,434.3 935.00,434.9 936.00,438.6 937.00,429.9 938.00,432.3 939.00,436.2 940.00,428.9 941.00,434.8 942.00,429.4 943.00,422.0 944.00,424.1 945.00,423.1 946.00,424.0 947.00,428.8 948.00,425.4 949.00,430.7 950.00,435.5 951.00,436.0 952.00,436.7 953.00,443.5 954.00,436.1 955.00,436.1 956.00,440.0 957.00,437.9 957.60,441.3 957.85,438.1 958.00,443.7 958.10,436.8 958.35,438.0 958.60,441.3 958.85,439.0 959.00,441.5 959.10,441.1 959.35,441.4 959.60,435.3 959.85,441.4 960.00,439.1 960.10,439.8 960.35,436.4 960.60,440.2 960.85,441.1 961.00,439.8 961.10,440.2 961.35,439.1 961.60,437.9 961.85,439.7 962.00,437.7 962.10,437.8 962.35,439.2 962.60,440.5 962.85,442.3 963.00,440.4 963.10,437.3 963.35,434.4 963.60,437.1 963.85,432.7 964.00,432.3 964.10,429.5 964.35,437.5 964.60,436.2 964.85,428.7 965.00,431.2 965.10,431.3 965.35,432.8 965.60,430.2 965.85,420.7 966.00,422.1 966.10,415.3 966.35,415.2 966.60,410.7 966.85,404.3 967.00,398.8 967.10,399.0 967.35,402.2 967.60,392.9 967.85,396.2 968.00,401.0 968.10,402.5 968.35,404.2 968.60,414.8 968.85,419.8 969.00,419.0 969.10,420.9 969.35,423.3 969.60,428.1 969.85,429.7 970.00,433.3 970.10,426.0 970.35,435.0 970.60,433.3 970.85,438.8 971.00,438.6 971.10,435.1 971.35,436.2 971.60,435.5 971.85,434.4 972.00,436.9 972.10,439.9 972.35,437.3 972.60,434.5 972.85,438.3 973.00,435.5 973.10,438.7 973.35,440.6 973.60,441.5 973.85,442.2 974.00,436.7 974.10,432.4 974.35,439.0 974.60,438.5 974.85,441.3 975.00,441.1 975.10,438.4 975.35,439.4 975.60,441.7 975.85,437.3 976.00,433.1 976.10,440.2 976.35,439.6 976.60,437.8 976.85,442.8 977.00,438.8 977.10,437.2 977.35,440.0 978.00,444.6 979.00,437.0 980.00,442.8 981.00,437.1 982.00,443.1 983.00,440.0 984.00,440.6 985.00,444.1 986.00,449.1 987.00,437.9 988.00,442.6 989.00,441.3 990.00,446.6 991.00,443.1 992.00,440.0 993.00,444.6 994.00,443.6 995.00,441.1 996.00,443.7 997.00,442.4 998.00,444.1 999.00,438.4 1000.00,443.3 1001.00,444.1 1002.00,438.9 1003.00,447.8 1004.00,445.5 1005.00,441.8 1006.00,439.3 1007.00,440.1 1008.00,440.8 1009.00,442.3 1010.00,437.4 1011.00,438.1 1012.00,445.1 1013.00,437.7 1014.00,446.8 1015.00,440.4 1016.00,436.3 1017.00,437.5 1018.00,444.5 1019.00,440.0 1020.00,436.8 1021.00,443.8 1022.00,442.1 1023.00,439.3 1024.00,438.3 1025.00,437.5 1026.00,442.1 1026.70,443.6 1026.95,446.4 1027.00,446.6 1027.20,445.1 1027.45,438.1 1027.70,440.7 1027.95,443.8 1028.00,441.6 1028.20,442.7 1028.45,441.1 1028.70,442.4 1028.95,445.3 1029.00,443.9 1029.20,438.3 1029.45,441.1 1029.70,439.1 1029.95,437.7 1030.00,445.1 1030.20,442.3 1030.45,448.7 1030.70,444.2 1030.95,443.7 1031.00,440.7 1031.20,440.0 1031.45,444.1 1031.70,440.2 1031.95,445.9 1032.00,444.2 1032.20,444.0 1032.45,441.5 1032.70,438.0 1032.95,443.6 1033.00,438.5 1033.20,439.8 1033.45,441.6 1033.70,437.8 1033.95,436.9 1034.00,434.2 1034.20,440.5 1034.45,441.4 1034.70,433.2 1034.95,437.8 1035.00,439.8 1035.20,438.4 1035.45,435.1 1035.70,428.9 1035.95,425.4 1036.00,427.4 1036.20,429.9 1036.45,431.8 1036.70,431.3 1036.95,427.4 1037.00,429.1 1037.20,427.3 1037.45,424.4 1037.70,428.9 1037.95,435.1 1038.00,434.5 1038.20,433.6 1038.45,434.6 1038.70,441.5 1038.95,437.8 1039.00,435.8 1039.20,433.3 1039.45,436.2 1039.70,439.8 1039.95,437.6 1040.00,440.6 1040.20,438.2 1040.45,445.9 1040.70,439.1 1040.95,443.2 1041.00,438.5 1041.20,441.7 1041.45,443.6 1041.70,441.9 1041.95,436.6 1042.00,445.6 1042.20,443.5 1042.45,439.0 1042.70,440.4 1042.95,443.6 1043.00,439.5 1043.20,443.6 1043.45,438.3 1043.70,442.3 1043.95,444.3 1044.00,440.8 1044.20,442.4 1044.45,443.2 1044.70,446.3 1044.95,445.7 1045.00,442.9 1045.20,443.0 1045.45,441.2 1045.70,441.2 1045.95,441.0 1046.00,440.7 1046.20,444.7 1046.45,441.6 1047.00,439.9 1048.00,440.0 1049.00,442.1 1050.00,443.8 1051.00,440.9 1052.00,439.7 1053.00,443.2 1054.00,445.4 1055.00,439.8 1056.00,441.3 1057.00,436.9 1058.00,448.7 1059.00,438.9 1060.00,438.2 1061.00,442.1 1062.00,440.3 1063.00,443.3 1064.00,438.6 1065.00,441.2 1066.00,441.3 1067.00,442.1 1068.00,446.7 1069.00,442.1 1070.00,440.6 1071.00,445.0 1072.00,442.5 1073.00,448.0 1074.00,445.9 1075.00,445.2 1076.00,440.2 1077.00,440.0 1078.00,442.4 1079.00,443.6 1080.00,437.4 1081.00,441.3 1082.00,442.8 1083.00,439.8 1084.00,443.7 1085.00,441.2 1086.00,445.7 1087.00,440.1 1088.00,444.2 1089.00,437.4 1090.00,442.3 1091.00,448.1 1092.00,443.8 1093.00,443.1 1094.00,440.7 1095.00,448.5 1096.00,446.9 1097.00,442.8 1098.00,444.2 1099.00,443.5 1100.00,439.9 1101.00,445.1 1102.00,442.9 1103.00,442.5 1104.00,447.6 1105.00,444.4 1106.00,441.2 1107.00,445.4 1108.00,443.6 1109.00,444.4 1110.00,443.0 1111.00,444.2 1112.00,444.0 1113.00,440.6 1114.00,449.0 1115.00,443.6 1116.00,437.0 1117.00,446.4 1118.00,439.7 1119.00,445.3 1120.00,449.0 1121.00,444.1 1122.00,444.3 1123.00,447.7 1124.00,446.0 1125.00,445.5 1126.00,443.3 1127.00,443.6 1128.00,437.7 1129.00,441.5 1130.00,441.8 1131.00,443.5 1132.00,442.7 1133.00,437.2 1134.00,439.4 1135.00,435.9 1136.00,442.3 1137.00,447.7 1138.00,444.5 1139.00,442.5 1140.00,444.9 1141.00,443.9 1142.00,440.8 1143.00,441.6 1144.00,443.4 1145.00,446.2 1146.00,442.2 1147.00,442.0 1148.00,440.0 1149.00,443.8 1150.00,440.9 1151.00,449.0 1152.00,444.2 1153.00,437.9 1154.00,447.7 1155.00,444.6 1156.00,443.6 1157.00,444.2 1158.00,442.1 1159.00,441.4 1160.00,442.1 1161.00,443.9 1162.00,445.6 1163.00,450.1 1164.00,446.0 1165.00,447.5 1166.00,448.2 1167.00,443.5 1168.00,443.2 1169.00,443.8 1170.00,450.5 1171.00,442.2 1172.00,447.6 1173.00,443.6 1174.00,452.6 1175.00,441.9 1176.00,442.1 1177.00,444.1 1178.00,442.2 1179.00,447.4 1180.00,447.7 1181.00,447.7 1182.00,450.9 1183.00,442.3 1184.00,445.4 1185.00,443.8 1186.00,442.9 1187.00,445.9 1188.00,450.9 1189.00,442.0 1190.00,450.6 1191.00,445.2 1192.00,442.8 1193.00,440.7 1194.00,446.9 1195.00,445.4 1196.00,445.1 1197.00,444.3 1198.00,446.2 1199.00,446.1 1200.00,446.7 1201.00,440.3 1202.00,445.5 1203.00,446.8 1204.00,445.5 1205.00,438.6 1206.00,442.9 1207.00,443.6 1208.00,446.2 1209.00,445.7 1210.00,446.3 1211.00,443.2 1212.00,445.7 1213.00,443.6 1214.00,443.3 1215.00,439.9 1216.00,445.4 1217.00,444.0 1218.00,440.3 1219.00,448.4 1220.00,443.7 1221.00,445.9 1222.00,445.9 1223.00,444.4 1224.00,445.6 1225.00,447.6 1226.00,442.8 1227.00,441.3 1228.00,448.0 1229.00,446.6 1230.00,442.9 1231.00,447.8 1232.00,441.3 1233.00,444.9 1234.00,445.4 1235.00,444.3 1236.00,446.1 1237.00,443.9 1238.00,441.2 1239.00,444.5 1240.00,448.3 1241.00,447.3 1242.00,446.9 1243.00,446.0 1244.00,449.8 1245.00,445.2 1246.00,447.3 1247.00,447.1 1248.00,443.1 1249.00,447.3 1250.00,445.6 1251.00,445.4 1252.00,439.3 1253.00,445.7 1254.00,441.5 1255.00,442.7 1256.00,444.1 1257.00,445.6 1258.00,441.8 1259.00,444.4 1260.00,443.5 1261.00,443.2 1262.00,443.2 1263.00,440.4 1264.00,442.9 1265.00,446.2 1266.00,440.7 1267.00,439.6 1268.00,448.5 1269.00,441.4 1270.00,444.8 1271.00,444.6 1272.00,446.6 1273.00,444.5 1274.00,446.4 1275.00,443.4 1276.00,441.3 1277.00,450.5 1278.00,444.0 1279.00,444.9 1280.00,439.8 1281.00,441.0 1282.00,441.4 1283.00,445.2 1284.00,440.5 1285.00,444.4 1286.00,442.5 1287.00,441.7 1288.00,445.9 1289.00,445.0 1290.00,441.1 1291.00,445.5 1292.00,440.0 1293.00,444.7 1294.00,442.8 1295.00,449.0 1296.00,444.6 1297.00,449.3 1298.00,445.3 1299.00,442.9 1300.00,446.3 1301.00,440.5 1302.00,441.3 1303.00,444.5 1304.00,449.2 1305.00,447.6 1306.00,441.5 1307.00,439.7 1308.00,445.8 1309.00,440.3 1310.00,441.1 1311.00,442.0 1312.00,440.7 1313.00,440.7 1314.00,442.7 1315.00,446.2 1316.00,442.1 1317.00,444.3 1318.00,445.7 1319.00,446.1 1320.00,444.5 1321.00,442.7 1322.00,444.6 1323.00,440.8 1324.00,444.6 1325.00,448.3 1326.00,446.3 1327.00,438.3 1328.00,445.7 1329.00,445.5 1330.00,442.8 1331.00,445.5 1332.00,445.6 1333.00,443.7 1334.00,443.6 1335.00,441.4 1336.00,447.6 1337.00,439.0 1338.00,445.8 1339.00,443.6 1340.00,444.5 1341.00,443.0 1342.00,443.7 1343.00,441.2 1344.00,441.3 1345.00,448.7 1346.00,443.5 1347.00,448.4 1348.00,447.0 1349.00,445.7 1350.00,445.9 1351.00,444.7 1352.00,447.3 1353.00,444.2 1354.00,443.2 1355.00,445.9 1356.00,444.0 1357.00,445.3 1358.00,442.1 1359.00,443.5 1360.00,446.2 1361.00,446.1 1362.00,440.8 1363.00,443.8 1364.00,441.5 1365.00,446.9 1366.00,442.5 1367.00,440.4 1368.00,442.0 1369.00,441.7 1370.00,451.1 1371.00,442.9 1372.00,446.2 1373.00,441.9 1374.00,444.5 1375.00,446.3 1376.00,444.9 1377.00,445.4 1378.00,443.7 1379.00,439.8 1380.00,440.7 1381.00,438.6 1382.00,435.7 1383.00,441.5 1384.00,431.7 1385.00,429.5 1386.00,431.4 1387.00,435.7 1388.00,431.6 1389.00,433.4 1390.00,431.1 1391.00,436.9 1392.00,434.5 1393.00,434.1 1394.00,438.2 1395.00,432.7 1396.00,439.6 1397.00,438.7 1398.00,434.2 1399.00,438.0 1400.00,440.7 1401.00,437.3 1402.00,438.6 1403.00,445.4 1404.00,448.3 1405.00,446.7 1406.00,444.2 1407.00,443.1 1408.00,440.3 1409.00,445.2 1410.00,441.9 1411.00,443.5 1412.00,443.9 1413.00,445.9 1414.00,445.2 1415.00,437.9 1416.00,442.2 1417.00,446.5 1418.00,447.5 1419.00,446.2 1420.00,446.9 1421.00,441.3 1422.00,444.5 1423.00,445.3 1424.00,448.0 1425.00,446.2 1426.00,445.0 1427.00,449.3 1428.00,447.0 1429.00,448.5 1430.00,442.6 1431.00,447.3 1432.00,448.5 1433.00,451.0 1434.00,447.4 1435.00,442.8 1436.00,443.6 1437.00,450.1 1438.00,449.8 1439.00,446.5 1440.00,444.3 1441.00,448.9 1442.00,444.2 1443.00,444.9 1444.00,440.6 1445.00,437.8 1446.00,444.8 1447.00,449.3 1448.00,443.8 1449.00,441.4 1450.00,448.5 1451.00,442.4 1452.00,439.6 1453.00,444.0 1454.00,446.3 1455.00,443.3 1456.00,445.7 1457.00,445.9 1458.00,445.5 1459.00,449.0 1460.00,445.0 1461.00,445.6 1462.00,447.3 1463.00,442.4 1464.00,446.3 1465.00,443.0 1466.00,445.4 1467.00,445.6 1468.00,449.1 1469.00,449.5 1470.00,444.8 1471.00,443.6 1472.00,442.8 1473.00,442.8 1474.00,443.2 1475.00,444.3 1476.00,442.7 1477.00,450.3 1478.00,449.1 1479.00,451.9 1480.00,448.1 1481.00,449.0 1482.00,446.3 1483.00,449.8 1484.00,447.8 1485.00,445.8 1486.00,446.8 1487.00,450.4 1488.00,450.0 1489.00,445.9 1490.00,440.8 1491.00,439.9 1492.00,446.3 1493.00,446.5 1494.00,446.1 1495.00,446.8 1496.00,446.8 1497.00,442.8 1498.00,442.9 1499.00,448.3 1500.00,449.9 1501.00,444.3 1502.00,444.1 1503.00,445.8 1504.00,444.4 1505.00,443.5 1506.00,443.6 1507.00,448.0 1508.00,442.5 1509.00,446.2 1510.00,442.1 1511.00,447.1 1512.00,446.3 1513.00,445.1 1514.00,446.2 1515.00,440.5 1516.00,442.9 1517.00,443.7 1518.00,445.1 1519.00,444.8 1520.00,443.0 1521.00,445.1 1522.00,445.9 1523.00,450.9 1524.00,445.6 1525.00,446.2 1526.00,446.3 1527.00,444.9 1528.00,444.8 1529.00,448.1 1530.00,445.6 1531.00,445.1 1532.00,446.5 1533.00,451.0 1534.00,443.9 1535.00,446.1 1536.00,448.0 1537.00,448.9 1538.00,451.9 1539.00,452.9 1540.00,446.1 1541.00,449.9 1542.00,452.6 1543.00,450.2 1544.00,444.6 1545.00,444.9 1546.00,446.4 1547.00,448.0 1548.00,443.0 1549.00,447.8 1550.00,443.8 1551.00,447.0 1552.00,447.2 1553.00,446.4 1554.00,448.1 1555.00,445.7 1556.00,446.5 1557.00,449.7 1558.00,445.1 1559.00,445.2 1560.00,443.0 1561.00,451.0 1562.00,444.3 1563.00,448.5 1564.00,446.1 1565.00,446.9 1566.00,444.6 1567.00,445.3 1568.00,448.2 1569.00,445.8 1570.00,442.8 1571.00,445.0 1572.00,442.0 1573.00,447.1 1574.00,448.2 1575.00,446.6 1576.00,450.2 1577.00,450.5 1578.00,446.2 1579.00,449.8 1580.00,446.7 1581.00,448.1 1582.00,447.4 1583.00,448.6 1584.00,445.0 1585.00,447.5 1586.00,444.5 1587.00,451.8 1588.00,446.2 1589.00,447.2 1590.00,442.8 1591.00,444.5 1592.00,447.3 1593.00,439.9 1594.00,445.8 1595.00,443.2 1596.00,451.0 1597.00,448.0 1598.00,449.5 1599.00,448.8 1600.00,451.5 1601.00,446.6 1602.00,453.5 1603.00,450.4 1604.00,443.5 1605.00,448.1 1606.00,446.5 1607.00,449.7 1608.00,445.4 1609.00,446.5 1610.00,447.9 1611.00,446.6 1612.00,451.9 1613.00,448.9 1614.00,445.8 1615.00,447.9 1616.00,446.6 1617.00,451.4 1618.00,443.9 1619.00,441.8 1620.00,452.6 1621.00,447.4 1622.00,450.8 1623.00,448.2 1624.00,447.3 1625.00,450.4 1626.00,449.1 1627.00,447.1 1628.00,443.6 1629.00,449.4 1630.00,452.1 1631.00,451.4 1632.00,444.9 1633.00,452.4 1634.00,445.2 1635.00,447.8 1636.00,449.4 1637.00,449.6 1638.00,447.1 1639.00,448.2 1640.00,449.2 1641.00,449.0 1642.00,450.3 1643.00,450.8 1644.00,448.6 1645.00,446.3 1646.00,450.1 1647.00,448.0 1648.00,445.9 1649.00,441.6 1650.00,448.7 1651.00,450.2 1652.00,451.6 1653.00,446.5 1654.00,449.1 1655.00,445.0 1656.00,449.4 1657.00,449.0 1658.00,445.4 1659.00,448.4 1660.00,449.0 1661.00,448.5 1662.00,443.5 1663.00,446.2 1664.00,449.0 1665.00,445.9 1666.00,445.5 1667.00,446.0 1668.00,449.0 1669.00,446.0 1670.00,441.7 1671.00,448.3 1672.00,452.0 1673.00,447.8 1674.00,450.5 1675.00,448.0 1676.00,446.8 1677.00,445.0 1678.00,449.3 1679.00,448.2 1680.00,450.6 1681.00,448.6 1682.00,449.8 1683.00,442.7 1684.00,448.9 1685.00,449.5 1686.00,448.7 1687.00,451.3 1688.00,447.5 1689.00,449.4 1690.00,442.4 1691.00,449.5 1692.00,449.8 1693.00,445.8 1694.00,442.7 1695.00,446.1 1696.00,448.9 1697.00,453.6 1698.00,446.2 1699.00,450.4 1700.00,450.8 1701.00,450.6 1702.00,447.4 1703.00,450.8 1704.00,445.3 1705.00,443.6 1706.00,448.2 1707.00,446.0 1708.00,442.1 1709.00,451.3 1710.00,449.7 1711.00,449.1 1712.00,444.9 1713.00,445.3 1714.00,442.8 1715.00,446.7 1716.00,446.8 1717.00,448.2 1718.00,452.9 1719.00,448.4 1720.00,450.0 1721.00,447.3 1722.00,455.0 1723.00,453.8 1724.00,444.1 1725.00,443.9 1726.00,453.9 1727.00,454.3 1728.00,450.8 1729.00,452.6 1730.00,445.1 1731.00,448.6 1732.00,450.5 1733.00,447.6 1734.00,445.7 1735.00,448.0 1736.00,446.3 1737.00,453.8 1738.00,447.9 1739.00,447.2 1740.00,444.1 1741.00,453.1 1742.00,448.7 1743.00,450.8 1744.00,449.0 1745.00,450.1 1746.00,449.2 1747.00,447.3 1748.00,450.0 1749.00,446.4 1750.00,449.1 1751.00,449.2 1752.00,450.6 1753.00,446.4 1754.00,454.8 1755.00,449.9 1756.00,446.5 1757.00,445.5 1758.00,450.0 1759.00,449.4 1760.00,451.2 1761.00,445.2 1762.00,449.1 1763.00,450.3 1764.00,451.6 1765.00,444.2 1766.00,447.1 1767.00,446.5 1768.00,448.2 1769.00,447.6 1770.00,449.0 1771.00,446.6 1772.00,450.5 1773.00,445.6 1774.00,449.9 1775.00,456.1 1776.00,447.3 1777.00,454.6 1778.00,453.0 1779.00,447.9 1780.00,450.1 1781.00,450.1 1782.00,446.3 1783.00,443.6 1784.00,448.9 1785.00,446.4 1786.00,451.9 1787.00,446.1 1788.00,456.1 1789.00,456.2 1790.00,448.0 1791.00,444.3 1792.00,450.5 1793.00,447.9 1794.00,449.0 1795.00,444.9 1796.00,445.2 1797.00,450.5 1798.00,445.4 1799.00,443.5 1800.00,450.6 1801.00,451.1 1802.00,448.9 1803.00,447.3 1804.00,454.8 1805.00,449.7 1806.00,452.2 1807.00,446.5 1808.00,446.1 1809.00,450.1 1810.00,453.3 1811.00,446.1 1812.00,447.5 1813.00,448.2 1814.00,453.3 1815.00,449.6 1816.00,451.0 1817.00,452.6 1818.00,452.2 1819.00,454.9 1820.00,447.1 1821.00,451.6 1822.00,452.0 1823.00,447.9 1824.00,451.2 1825.00,451.2 1826.00,449.2 1827.00,448.0 1828.00,452.9 1829.00,449.9 1830.00,448.9 1831.00,449.8 1832.00,447.7 1833.00,449.7 1834.00,450.3 1835.00,446.7 1836.00,449.0 1837.00,449.4 1838.00,450.3 1839.00,449.0 1840.00,450.4 1841.00,449.4 1842.00,448.4 1843.00,449.4 1844.00,446.6 1845.00,452.5 1846.00,451.9 1847.00,448.6 1848.00,447.8 1849.00,447.4 1850.00,445.9 1851.00,445.4 1852.00,449.2 1853.00,446.3 1854.00,450.1 1855.00,449.6 1856.00,450.0 1857.00,445.9 1858.00,454.7 1859.00,450.1 1860.00,444.5 1861.00,450.1 1862.00,450.0 1863.00,452.6 1864.00,448.5 1865.00,451.7 1866.00,450.0 1867.00,453.9 1868.00,449.6 1869.00,451.4 1870.00,452.4 1871.00,447.2 1872.00,450.5 1873.00,450.1 1874.00,454.7 1875.00,452.3 1876.00,449.1 1877.00,456.4 1878.00,449.7 1879.00,450.7 1880.00,450.9 1881.00,451.9 1882.00,448.3 1883.00,449.2 1884.00,448.8 1885.00,450.2 1886.00,447.5 1887.00,448.5 1888.00,445.8 1889.00,454.1 1890.00,451.0 1891.00,453.0 1892.00,447.8 1893.00,445.1 1894.00,445.5 1895.00,446.6 1896.00,451.6 1897.00,449.4 1898.00,449.2 1899.00,447.5 1900.00,455.6 1901.00,447.6 1902.00,450.5 1903.00,450.1 1904.00,450.3 1905.00,450.0 1906.00,451.2 1907.00,455.9 1908.00,453.0 1909.00,450.8 1910.00,447.2 1911.00,454.0 1912.00,454.2 1913.00,448.4 1914.00,451.5 1915.00,444.0 1916.00,447.6 1917.00,453.5 1918.00,445.9 1919.00,452.5 1920.00,453.9 1921.00,447.2 1922.00,450.9 1923.00,455.5 1924.00,457.4 1925.00,452.0 1926.00,455.3 1927.00,448.5 1928.00,448.3 1929.00,450.8 1930.00,451.1 1931.00,449.0 1932.00,452.3 1933.00,452.1 1934.00,454.2 1935.00,453.4 1936.00,452.1 1937.00,453.1 1938.00,452.5 1939.00,453.3 1940.00,456.0 1941.00,455.8 1942.00,456.8 1943.00,455.7 1944.00,455.2 1945.00,450.1 1946.00,450.8 1947.00,450.0 1948.00,448.7 1949.00,443.6 1950.00,452.3 1951.00,447.7 1952.00,448.7 1953.00,449.0 1954.00,455.3 1955.00,452.5 1956.00,455.5 1957.00,451.5 1958.00,453.8 1959.00,453.9 1960.00,451.5 1961.00,452.4 1962.00,447.3 1963.00,449.0 1964.00,452.0 1965.00,445.5 1966.00,452.2 1967.00,452.0 1968.00,450.1 1969.00,454.3 1970.00,453.9 1971.00,456.0 1972.00,453.9 1973.00,455.4" fill="none" stroke="#00f8f8" stroke-width="9.00" stroke-linejoin="round" stroke-linecap="round"/>
<polyline points="199.00,233.2 199.05,230.0 199.30,228.4 199.55,229.1 199.80,229.4 200.00,234.3 200.05,229.8 200.30,230.5 200.55,228.1 200.80,230.8 201.00,230.5 201.05,227.5 201.30,224.9 201.55,228.7 201.80,232.3 202.00,227.7 202.05,228.3 202.30,232.2 202.55,228.9 202.80,224.2 203.00,233.4 203.05,229.3 203.30,227.7 203.55,228.3 203.80,230.2 204.00,227.5 204.05,233.5 204.30,229.9 204.55,230.2 204.80,229.3 205.00,226.9 205.05,228.8 205.30,232.7 205.55,226.7 205.80,227.3 206.00,228.3 206.05,225.3 206.30,229.1 206.55,223.2 206.80,226.7 207.00,222.5 207.05,224.1 207.30,223.0 207.55,228.4 207.80,219.3 208.00,221.9 208.05,219.9 208.30,215.0 208.55,217.6 208.80,214.5 209.00,210.9 209.05,210.7 209.30,217.3 209.55,219.4 209.80,216.8 210.00,222.4 210.05,221.7 210.30,225.2 210.55,223.2 210.80,226.0 211.00,226.1 211.05,228.0 211.30,229.8 211.55,232.8 211.80,224.0 212.00,228.8 212.05,225.8 212.30,225.5 212.55,224.0 212.80,227.3 213.00,229.0 213.05,228.2 213.30,229.6 213.55,229.6 213.80,230.4 214.00,229.4 214.05,230.1 214.30,229.9 214.55,228.3 214.80,226.1 215.00,225.8 215.05,230.7 215.30,227.0 215.55,231.4 215.80,228.2 216.00,227.4 216.05,228.8 216.30,229.8 216.55,233.8 216.80,228.2 217.00,228.0 217.05,230.2 217.30,231.8 217.55,229.0 217.80,227.9 218.00,230.6 218.05,230.0 218.30,230.4 218.55,225.7 219.00,230.8 220.00,229.3 221.00,231.7 222.00,228.2 223.00,229.8 224.00,227.9 225.00,233.9 226.00,224.5 227.00,225.7 228.00,226.3 229.00,223.0 230.00,227.5 231.00,233.3 232.00,231.3 233.00,232.4 234.00,228.8 235.00,227.0 236.00,227.6 237.00,224.2 238.00,222.5 239.00,229.2 240.00,226.5 241.00,230.2 242.00,223.2 243.00,227.1 244.00,223.2 245.00,231.1 246.00,227.9 247.00,225.6 248.00,226.1 249.00,232.5 250.00,227.0 251.00,229.6 252.00,229.6 253.00,226.4 253.25,232.7 253.50,233.4 253.75,227.1 254.00,228.9 254.25,230.1 254.50,229.7 254.75,229.8 255.00,224.8 255.25,227.7 255.50,223.8 255.75,226.9 256.00,228.3 256.25,229.0 256.50,221.3 256.75,227.1 257.00,222.7 257.25,227.5 257.50,227.3 257.75,226.8 258.00,228.7 258.25,226.9 258.50,224.1 258.75,225.1 259.00,226.8 259.25,221.5 259.50,224.8 259.75,226.1 260.00,222.0 260.25,227.3 260.50,226.4 260.75,224.0 261.00,221.2 261.25,219.0 261.50,219.3 261.75,216.1 262.00,213.5 262.25,204.3 262.50,202.0 262.75,198.3 263.00,191.0 263.25,195.8 263.50,200.5 263.75,205.6 264.00,213.5 264.25,214.5 264.50,219.7 264.75,221.1 265.00,223.5 265.25,222.2 265.50,222.0 265.75,226.0 266.00,225.0 266.25,227.4 266.50,224.4 266.75,224.5 267.00,227.9 267.25,226.6 267.50,226.1 267.75,228.2 268.00,226.1 268.25,227.1 268.50,228.0 268.75,224.0 269.00,229.1 269.25,226.9 269.50,226.4 269.75,227.0 270.00,225.8 270.25,222.9 270.50,227.8 270.75,226.6 271.00,231.9 271.25,231.7 271.50,226.9 271.75,229.1 272.00,231.1 272.25,229.4 272.50,228.2 272.75,227.9 273.00,226.3 274.00,231.4 275.00,231.1 276.00,230.0 277.00,229.5 278.00,233.7 279.00,230.5 280.00,232.7 281.00,226.3 282.00,227.2 283.00,227.5 284.00,231.4 285.00,228.8 286.00,233.0 287.00,230.1 288.00,232.1 288.25,228.8 288.50,231.7 288.75,228.7 289.00,229.3 289.25,226.9 289.50,224.9 289.75,226.4 290.00,229.8 290.25,229.7 290.50,225.0 290.75,226.0 291.00,225.4 291.25,230.1 291.50,226.4 291.75,225.9 292.00,229.4 292.25,226.6 292.50,229.2 292.75,229.6 293.00,226.1 293.25,223.2 293.50,226.5 293.75,232.2 294.00,224.0 294.25,229.6 294.50,224.4 294.75,223.2 295.00,228.7 295.25,223.4 295.50,218.5 295.75,219.7 296.00,220.0 296.25,219.6 296.50,223.0 296.75,221.0 297.00,217.4 297.25,217.3 297.50,214.1 297.75,210.5 298.00,214.4 298.25,214.1 298.50,217.6 298.75,217.2 299.00,220.5 299.25,217.9 299.50,219.1 299.75,220.0 300.00,220.0 300.25,225.5 300.50,224.0 300.75,221.2 301.00,223.2 301.25,229.7 301.50,231.2 301.75,229.1 302.00,226.3 302.25,230.1 302.50,226.1 302.75,223.5 303.00,226.7 303.25,223.9 303.50,226.1 303.75,232.2 304.00,227.9 304.25,227.2 304.50,228.6 304.75,225.5 305.00,227.2 305.25,224.3 305.50,223.6 305.75,225.9 306.00,224.3 306.25,221.9 306.50,226.3 306.75,225.1 307.00,225.6 307.25,231.6 307.50,229.7 307.75,230.8 308.00,228.0 309.00,226.5 310.00,227.4 311.00,234.5 312.00,223.9 313.00,228.1 314.00,229.5 315.00,224.8 316.00,230.7 317.00,225.7 318.00,228.0 319.00,232.1 320.00,230.6 321.00,228.2 322.00,228.7 323.00,232.9 324.00,233.7 325.00,230.1 326.00,224.0 327.00,227.2 328.00,230.8 329.00,226.1 330.00,227.4 331.00,226.0 332.00,227.6 333.00,231.4 334.00,230.9 335.00,226.7 336.00,232.4 337.00,225.5 338.00,231.3 339.00,231.0 340.00,225.4 341.00,223.8 342.00,230.9 343.00,230.0 344.00,228.8 345.00,226.3 346.00,229.1 347.00,224.3 348.00,230.0 349.00,233.9 350.00,227.7 351.00,230.8 352.00,226.2 353.00,229.2 354.00,227.7 355.00,229.1 356.00,227.1 357.00,223.4 358.00,230.2 359.00,224.5 360.00,230.1 361.00,224.3 362.00,229.3 363.00,228.2 364.00,226.0 365.00,229.7 366.00,228.1 367.00,231.7 368.00,229.7 369.00,231.3 370.00,223.4 371.00,232.2 372.00,228.0 373.00,227.8 374.00,224.9 375.00,226.1 376.00,227.0 377.00,227.7 378.00,227.6 379.00,226.3 380.00,227.6 381.00,229.2 382.00,225.7 383.00,225.1 384.00,229.3 385.00,227.6 386.00,224.0 387.00,228.0 388.00,227.2 389.00,231.5 390.00,228.5 391.00,228.6 392.00,226.7 393.00,224.8 394.00,227.3 395.00,227.1 396.00,226.6 397.00,229.8 398.00,223.9 399.00,230.3 400.00,223.1 401.00,221.5 402.00,227.4 403.00,224.4 404.00,223.2 405.00,226.0 406.00,223.7 407.00,225.2 408.00,223.6 409.00,224.5 410.00,221.7 411.00,225.1 412.00,221.9 413.00,222.8 414.00,217.1 415.00,223.7 416.00,220.9 417.00,221.8 418.00,221.4 419.00,220.8 420.00,219.6 421.00,224.4 422.00,220.7 423.00,221.3 424.00,220.9 425.00,219.7 426.00,224.5 427.00,219.7 428.00,222.4 429.00,219.2 430.00,217.3 431.00,217.1 432.00,222.4 433.00,215.1 434.00,215.5 435.00,218.3 436.00,221.6 437.00,217.5 438.00,222.9 439.00,219.2 440.00,219.1 441.00,224.7 442.00,221.5 443.00,218.7 444.00,217.5 445.00,221.1 446.00,222.1 447.00,215.9 448.00,215.5 449.00,218.8 450.00,213.6 451.00,218.2 452.00,218.3 453.00,217.7 454.00,215.8 455.00,211.8 456.00,218.6 457.00,214.2 458.00,219.0 459.00,215.6 460.00,215.4 461.00,221.7 462.00,218.8 463.00,212.5 464.00,219.0 465.00,214.2 466.00,210.5 467.00,215.8 468.00,214.8 469.00,218.0 470.00,217.7 471.00,217.5 472.00,209.9 473.00,211.9 474.00,205.2 475.00,214.0 476.00,212.1 477.00,204.4 478.00,216.1 479.00,215.7 480.00,206.5 481.00,203.1 482.00,210.4 483.00,212.2 484.00,210.1 485.00,215.9 486.00,219.8 487.00,210.4 488.00,209.0 489.00,208.0 490.00,218.7 491.00,210.1 492.00,212.8 493.00,213.5 494.00,214.0 495.00,211.4 496.00,217.4 497.00,211.8 498.00,210.1 499.00,204.6 500.00,207.6 501.00,208.7 502.00,213.1 503.00,206.1 504.00,209.2 505.00,207.1 506.00,197.9 507.00,208.4 508.00,214.2 509.00,200.4 510.00,210.7 511.00,199.9 512.00,202.5 513.00,203.0 514.00,206.6 515.00,201.6 516.00,201.1 517.00,203.9 518.00,203.3 519.00,197.8 520.00,200.1 521.00,204.1 522.00,201.5 523.00,196.5 524.00,202.4 525.00,196.8 526.00,213.9 527.00,206.5 528.00,198.7 529.00,204.0 530.00,207.9 531.00,209.3 532.00,205.6 533.00,204.6 534.00,202.4 535.00,210.5 536.00,212.1 537.00,208.3 538.00,207.8 539.00,207.7 540.00,204.9 541.00,205.7 542.00,209.8 543.00,208.7 544.00,209.5 545.00,204.5 546.00,211.2 547.00,203.6 548.00,213.6 549.00,207.6 550.00,209.9 551.00,205.5 552.00,207.4 553.00,203.8 554.00,207.0 555.00,198.0 556.00,209.9 557.00,205.1 558.00,207.8 559.00,204.6 560.00,207.8 561.00,203.0 562.00,202.6 563.00,205.1 564.00,200.7 565.00,210.6 566.00,205.8 567.00,206.6 568.00,204.0 569.00,210.2 570.00,212.2 571.00,205.9 572.00,211.7 573.00,208.1 574.00,207.3 575.00,198.8 576.00,202.3 577.00,211.5 578.00,211.0 579.00,216.0 580.00,204.0 581.00,210.2 582.00,200.1 583.00,202.8 584.00,201.6 585.00,202.5 586.00,207.3 587.00,212.0 588.00,206.3 589.00,199.8 590.00,210.6 590.25,206.3 590.50,198.0 590.75,210.7 591.00,204.8 591.25,207.9 591.50,201.8 591.75,202.2 592.00,206.1 592.25,197.3 592.50,204.4 592.75,207.9 593.00,205.9 593.25,203.6 593.50,202.1 593.75,202.0 594.00,210.1 594.25,204.8 594.50,204.3 594.75,199.3 595.00,204.9 595.25,206.3 595.50,192.9 595.75,209.9 596.00,206.0 596.25,201.2 596.50,193.8 596.75,211.5 597.00,203.8 597.25,198.0 597.50,193.0 597.75,203.0 598.00,189.2 598.25,195.7 598.50,192.5 598.75,186.3 599.00,185.7 599.25,182.8 599.50,186.8 599.75,182.4 600.00,184.9 600.25,176.3 600.50,188.9 600.75,187.8 601.00,194.9 601.25,190.8 601.50,196.6 601.75,192.2 602.00,203.0 602.25,199.6 602.50,197.4 602.75,200.2 603.00,201.8 603.25,193.8 603.50,202.9 603.75,198.0 604.00,202.6 604.25,204.1 604.50,214.0 604.75,205.7 605.00,198.2 605.25,206.8 605.50,199.5 605.75,200.2 606.00,201.6 606.25,209.2 606.50,212.7 606.75,208.5 607.00,199.8 607.25,206.4 607.50,209.5 607.75,196.3 608.00,204.5 608.25,216.9 608.50,200.3 608.75,202.0 609.00,201.5 609.25,213.1 609.50,211.2 609.75,210.5 610.00,212.6 611.00,204.8 612.00,198.8 613.00,209.1 614.00,198.8 615.00,208.3 616.00,207.3 617.00,205.1 618.00,210.9 619.00,207.7 620.00,201.2 621.00,203.8 622.00,210.9 623.00,205.7 624.00,210.5 625.00,205.8 626.00,207.4 627.00,201.2 628.00,204.0 629.00,196.7 630.00,201.7 631.00,208.2 632.00,203.9 633.00,203.5 634.00,212.6 635.00,213.1 636.00,203.9 637.00,209.5 638.00,210.0 639.00,203.3 640.00,203.2 641.00,205.2 642.00,212.6 643.00,205.8 644.00,205.8 645.00,195.8 646.00,207.6 647.00,210.3 648.00,200.9 649.00,209.0 650.00,206.9 651.00,208.5 652.00,204.7 653.00,204.6 653.25,214.6 653.50,212.7 653.75,200.5 654.00,197.3 654.25,206.4 654.50,206.7 654.75,205.2 655.00,204.1 655.25,211.2 655.50,194.6 655.75,200.4 656.00,207.5 656.25,206.9 656.50,206.9 656.75,201.3 657.00,212.1 657.25,208.9 657.50,208.2 657.75,206.4 658.00,197.9 658.25,201.5 658.50,198.2 658.75,203.6 659.00,196.6 659.25,202.5 659.50,199.1 659.75,201.2 660.00,191.0 660.25,194.8 660.50,199.1 660.75,200.6 661.00,190.6 661.25,197.6 661.50,204.1 661.75,190.6 662.00,185.9 662.25,179.3 662.50,178.6 662.75,182.1 663.00,182.7 663.25,186.9 663.50,193.4 663.75,183.0 664.00,189.8 664.25,197.0 664.50,194.7 664.75,194.6 665.00,195.7 665.25,190.5 665.50,191.3 665.75,201.8 666.00,205.4 666.25,204.9 666.50,205.5 666.75,208.8 667.00,208.6 667.25,201.0 667.50,204.2 667.75,193.5 668.00,208.5 668.25,205.0 668.50,205.1 668.75,209.3 669.00,199.4 669.25,206.2 669.50,202.0 669.75,212.9 670.00,200.7 670.25,203.9 670.50,208.7 670.75,214.4 671.00,207.1 671.25,201.1 671.50,204.3 671.75,209.0 672.00,210.1 672.25,202.3 672.50,213.0 672.75,204.1 673.00,204.0 674.00,207.6 675.00,203.6 676.00,203.9 677.00,208.6 678.00,199.3 679.00,207.1 680.00,203.0 681.00,209.2 682.00,203.2 683.00,210.9 684.00,208.4 685.00,208.9 686.00,207.6 687.00,202.8 688.00,208.1 689.00,209.0 690.00,207.3 691.00,208.8 692.00,209.4 693.00,207.4 694.00,206.7 695.00,210.1 696.00,209.9 697.00,211.7 698.00,214.0 699.00,207.0 700.00,206.1 701.00,216.3 702.00,207.4 703.00,207.6 704.00,204.1 705.00,209.5 706.00,198.2 707.00,204.5 708.00,206.8 709.00,204.8 710.00,208.9 711.00,212.9 712.00,209.6 713.00,206.4 714.00,198.2 715.00,204.7 716.00,213.7 717.00,215.0 718.00,211.1 719.00,212.3 720.00,211.4 721.00,200.8 722.00,204.7 723.00,203.4 724.00,207.7 725.00,209.1 726.00,204.8 727.00,213.1 728.00,204.5 729.00,203.0 730.00,203.1 731.00,197.0 732.00,208.8 733.00,203.1 734.00,207.9 735.00,206.6 736.00,206.6 737.00,196.5 738.00,201.2 739.00,200.6 740.00,201.9 741.00,194.5 742.00,192.2 743.00,199.1 744.00,184.6 745.00,187.4 746.00,175.9 747.00,177.7 748.00,166.4 749.00,164.5 750.00,164.3 751.00,165.4 752.00,188.1 753.00,185.6 754.00,196.4 755.00,195.6 756.00,190.1 757.00,192.6 758.00,196.8 759.00,193.1 760.00,187.7 761.00,191.6 762.00,195.3 763.00,199.9 764.00,204.7 765.00,199.7 766.00,199.0 767.00,199.8 768.00,192.3 769.00,208.6 770.00,210.2 771.00,193.6 772.00,204.2 773.00,201.4 774.00,203.5 775.00,197.7 776.00,205.7 777.00,197.9 778.00,210.6 779.00,212.8 780.00,214.4 781.00,202.0 782.00,204.6 783.00,207.5 784.00,216.6 785.00,210.1 786.00,217.7 787.00,211.5 788.00,213.3 789.00,203.8 790.00,202.6 791.00,206.2 792.00,204.8 793.00,204.0 794.00,213.4 795.00,218.4 796.00,208.5 797.00,211.7 798.00,218.9 799.00,214.0 800.00,217.8 801.00,218.3 802.00,221.1 803.00,221.5 804.00,217.8 805.00,212.2 806.00,221.2 807.00,211.8 808.00,217.1 809.00,218.5 810.00,226.1 811.00,218.7 812.00,217.1 813.00,213.2 814.00,213.6 815.00,207.4 816.00,205.3 817.00,214.6 818.00,216.7 819.00,214.9 820.00,216.5 821.00,217.2 822.00,225.3 823.00,215.6 824.00,225.7 825.00,215.2 826.00,217.1 827.00,217.7 828.00,220.6 829.00,224.3 830.00,222.9 831.00,223.7 832.00,221.0 833.00,220.2 834.00,219.8 835.00,216.0 836.00,228.6 837.00,220.1 838.00,217.8 839.00,216.1 840.00,219.3 841.00,216.4 842.00,223.9 843.00,224.3 844.00,217.6 845.00,224.5 846.00,223.8 847.00,222.9 848.00,223.6 849.00,222.5 850.00,227.5 851.00,219.1 852.00,226.5 853.00,222.7 854.00,214.2 855.00,219.7 856.00,220.3 857.00,220.9 858.00,219.5 859.00,216.4 860.00,220.7 861.00,220.6 862.00,213.3 863.00,217.3 864.00,220.2 865.00,219.8 866.00,222.9 867.00,229.4 868.00,223.5 869.00,222.4 870.00,223.4 871.00,220.5 872.00,221.3 873.00,220.6 874.00,224.3 875.00,220.7 876.00,222.7 877.00,223.6 878.00,219.6 879.00,224.4 880.00,227.5 881.00,222.3 882.00,223.5 883.00,225.7 884.00,226.1 885.00,222.8 886.00,221.1 887.00,223.1 888.00,218.8 889.00,220.0 890.00,221.1 891.00,224.3 892.00,220.2 893.00,224.6 894.00,218.8 895.00,220.4 896.00,220.4 897.00,224.3 898.00,227.5 899.00,217.5 900.00,222.7 901.00,221.5 902.00,223.0 903.00,220.1 904.00,224.1 905.00,215.6 906.00,224.4 907.00,225.8 908.00,219.3 909.00,222.2 910.00,218.5 911.00,220.8 912.00,221.4 913.00,216.4 914.00,225.7 915.00,225.6 916.00,229.6 917.00,224.5 918.00,224.9 919.00,227.7 920.00,218.8 921.00,225.4 922.00,222.6 923.00,228.9 924.00,223.1 925.00,226.7 926.00,222.6 927.00,217.7 928.00,228.3 929.00,227.5 930.00,227.3 931.00,223.4 932.00,227.6 933.00,221.2 934.00,221.5 935.00,226.4 935.25,225.9 935.50,228.9 935.75,221.4 936.00,224.8 936.25,224.9 936.50,226.5 936.75,220.1 937.00,223.4 937.25,221.8 937.50,224.5 937.75,229.3 938.00,224.8 938.25,227.2 938.50,224.3 938.75,221.4 939.00,223.1 939.25,222.1 939.50,221.5 939.75,224.1 940.00,223.1 940.25,218.7 940.50,214.8 940.75,219.0 941.00,221.4 941.25,223.8 941.50,219.8 941.75,220.3 942.00,221.0 942.25,220.7 942.50,214.4 942.75,214.9 943.00,216.3 943.25,211.6 943.50,209.2 943.75,209.5 944.00,208.9 944.25,210.5 944.50,204.8 944.75,203.0 945.00,204.0 945.25,207.8 945.50,200.9 945.75,208.1 946.00,211.4 946.25,208.8 946.50,209.6 946.75,209.2 947.00,211.1 947.25,214.4 947.50,219.4 947.75,218.3 948.00,216.3 948.25,214.0 948.50,215.3 948.75,222.3 949.00,215.6 949.25,222.9 949.50,220.9 949.75,223.7 950.00,222.1 950.25,219.7 950.50,221.5 950.75,220.6 951.00,218.4 951.25,221.5 951.50,222.1 951.75,219.3 952.00,221.8 952.25,224.9 952.50,222.9 952.75,219.8 953.00,227.6 953.25,221.2 953.50,226.6 953.75,224.4 954.00,226.6 954.25,224.2 954.50,220.4 954.75,227.1 955.00,221.6 956.00,219.6 957.00,219.6 957.60,225.0 957.85,222.4 958.00,222.5 958.10,219.6 958.35,229.3 958.60,225.9 958.85,226.8 959.00,224.4 959.10,227.2 959.35,222.3 959.60,227.5 959.85,223.4 960.00,222.1 960.10,225.6 960.35,224.5 960.60,224.1 960.85,218.4 961.00,220.1 961.10,219.0 961.35,220.3 961.60,222.6 961.85,219.3 962.00,222.0 962.10,218.9 962.35,220.7 962.60,223.0 962.85,224.4 963.00,226.4 963.10,221.5 963.35,221.5 963.60,224.5 963.85,215.4 964.00,216.6 964.10,222.1 964.35,222.0 964.60,223.9 964.85,223.0 965.00,222.2 965.10,219.8 965.35,217.1 965.60,219.8 965.85,210.5 966.00,214.8 966.10,210.7 966.35,213.6 966.60,206.6 966.85,214.3 967.00,212.5 967.10,215.6 967.35,207.7 967.60,211.1 967.85,214.8 968.00,207.4 968.10,212.0 968.35,206.8 968.60,219.0 968.85,211.6 969.00,214.9 969.10,215.9 969.35,210.5 969.60,214.7 969.85,212.3 970.00,219.0 970.10,221.8 970.35,211.6 970.60,218.5 970.85,215.0 971.00,220.4 971.10,221.1 971.35,222.4 971.60,221.9 971.85,215.7 972.00,216.7 972.10,220.3 972.35,222.6 972.60,218.6 972.85,219.9 973.00,222.4 973.10,221.6 973.35,224.4 973.60,218.3 973.85,223.0 974.00,221.9 974.10,221.9 974.35,221.3 974.60,220.3 974.85,225.7 975.00,220.1 975.10,223.1 975.35,222.3 975.60,220.1 975.85,222.9 976.00,223.0 976.10,226.6 976.35,220.0 976.60,223.9 976.85,223.8 977.00,225.0 977.10,220.3 977.35,223.1 978.00,218.6 979.00,222.9 980.00,225.0 981.00,225.9 982.00,215.2 983.00,220.1 984.00,222.9 985.00,217.2 986.00,229.1 987.00,224.3 988.00,219.0 989.00,230.7 990.00,225.8 991.00,219.0 992.00,222.1 993.00,222.6 994.00,224.5 995.00,229.6 996.00,222.8 997.00,223.1 998.00,224.5 999.00,225.9 1000.00,225.0 1001.00,220.3 1002.00,226.7 1003.00,221.8 1004.00,222.0 1005.00,230.7 1006.00,219.5 1007.00,224.5 1008.00,221.7 1009.00,226.7 1010.00,225.8 1011.00,222.0 1012.00,223.4 1013.00,223.2 1014.00,226.4 1015.00,220.3 1016.00,226.4 1017.00,226.5 1018.00,225.9 1019.00,224.9 1020.00,228.1 1021.00,227.7 1022.00,226.6 1023.00,226.2 1024.00,227.8 1025.00,227.7 1026.00,222.7 1027.00,222.4 1028.00,224.8 1029.00,223.9 1030.00,224.4 1031.00,225.5 1032.00,229.7 1033.00,225.7 1034.00,225.7 1035.00,227.2 1036.00,222.6 1037.00,223.2 1038.00,219.1 1039.00,222.2 1040.00,226.7 1041.00,224.1 1042.00,224.5 1043.00,230.2 1044.00,230.5 1045.00,226.1 1046.00,223.1 1047.00,221.8 1048.00,225.3 1049.00,222.1 1050.00,224.9 1051.00,223.3 1052.00,224.1 1053.00,223.3 1054.00,227.5 1055.00,223.4 1056.00,228.9 1057.00,223.4 1058.00,229.5 1059.00,222.5 1060.00,226.4 1061.00,225.0 1062.00,222.6 1063.00,231.0 1064.00,225.1 1065.00,221.6 1066.00,219.5 1067.00,225.0 1068.00,225.5 1069.00,224.1 1070.00,222.0 1071.00,222.6 1072.00,220.4 1073.00,222.6 1074.00,223.5 1075.00,226.9 1076.00,227.8 1077.00,222.9 1078.00,220.8 1079.00,232.0 1080.00,227.1 1081.00,224.6 1082.00,227.3 1083.00,224.3 1084.00,225.1 1085.00,220.2 1086.00,224.7 1087.00,229.8 1088.00,227.1 1089.00,223.6 1090.00,224.0 1091.00,225.2 1092.00,226.7 1093.00,221.9 1094.00,224.0 1095.00,225.7 1096.00,228.2 1097.00,225.2 1098.00,227.5 1099.00,228.4 1100.00,226.2 1101.00,227.6 1102.00,229.5 1103.00,222.7 1104.00,226.6 1105.00,226.9 1106.00,232.0 1107.00,220.5 1108.00,223.7 1109.00,221.6 1110.00,222.7 1111.00,226.3 1112.00,222.5 1113.00,224.7 1114.00,224.9 1115.00,224.1 1116.00,227.3 1117.00,226.2 1118.00,223.1 1119.00,224.4 1120.00,226.6 1121.00,224.4 1122.00,227.5 1123.00,226.4 1124.00,225.3 1125.00,226.0 1126.00,224.1 1127.00,228.3 1128.00,226.1 1129.00,225.9 1130.00,227.4 1131.00,234.5 1132.00,231.9 1133.00,227.2 1134.00,225.9 1135.00,230.6 1136.00,225.6 1137.00,231.5 1138.00,226.2 1139.00,231.0 1140.00,233.3 1141.00,226.4 1142.00,228.9 1143.00,228.8 1144.00,232.7 1145.00,232.4 1146.00,224.1 1147.00,230.4 1148.00,230.1 1149.00,228.4 1150.00,229.4 1151.00,225.3 1152.00,226.1 1153.00,228.7 1154.00,225.5 1155.00,230.6 1156.00,230.4 1157.00,234.5 1158.00,226.8 1159.00,233.1 1160.00,230.0 1161.00,229.4 1162.00,228.1 1163.00,227.7 1164.00,225.5 1165.00,224.7 1166.00,230.6 1167.00,220.5 1168.00,229.4 1169.00,227.6 1170.00,227.7 1171.00,230.5 1172.00,228.2 1173.00,229.3 1174.00,231.0 1175.00,229.3 1176.00,232.0 1177.00,231.5 1178.00,228.4 1179.00,229.5 1180.00,225.5 1181.00,228.4 1182.00,228.2 1183.00,223.9 1184.00,228.1 1185.00,229.7 1186.00,225.7 1187.00,224.9 1188.00,228.5 1189.00,227.0 1190.00,226.0 1191.00,228.9 1192.00,226.2 1193.00,229.2 1194.00,231.7 1195.00,229.5 1196.00,229.0 1197.00,225.6 1198.00,231.9 1199.00,227.4 1200.00,232.9 1201.00,226.7 1202.00,228.4 1203.00,224.7 1204.00,229.2 1205.00,224.5 1206.00,228.6 1207.00,233.2 1208.00,230.7 1209.00,225.2 1210.00,231.4 1211.00,225.7 1212.00,228.1 1213.00,227.5 1214.00,227.9 1215.00,228.8 1216.00,222.3 1217.00,231.8 1218.00,228.5 1219.00,225.8 1220.00,229.4 1221.00,232.5 1222.00,225.5 1223.00,230.1 1224.00,228.1 1225.00,228.7 1226.00,227.0 1227.00,228.8 1228.00,230.4 1229.00,224.5 1230.00,226.5 1231.00,227.1 1232.00,226.8 1233.00,223.6 1234.00,226.5 1235.00,224.8 1236.00,228.9 1237.00,227.6 1238.00,227.8 1239.00,228.2 1240.00,225.6 1241.00,223.9 1242.00,229.2 1243.00,226.6 1244.00,226.5 1245.00,233.2 1246.00,225.1 1247.00,232.0 1248.00,233.1 1249.00,228.2 1250.00,227.1 1251.00,229.5 1252.00,225.9 1253.00,222.3 1254.00,230.9 1255.00,232.3 1256.00,224.2 1257.00,229.9 1258.00,228.5 1259.00,227.9 1260.00,230.1 1261.00,227.0 1262.00,227.4 1263.00,228.7 1264.00,229.3 1265.00,222.0 1266.00,231.5 1267.00,229.5 1268.00,230.6 1269.00,226.8 1270.00,223.9 1271.00,227.9 1272.00,227.3 1273.00,227.9 1274.00,226.3 1275.00,220.9 1276.00,218.8 1277.00,219.7 1278.00,220.7 1279.00,219.9 1280.00,219.8 1281.00,222.8 1282.00,218.0 1283.00,223.3 1284.00,218.2 1285.00,229.4 1286.00,220.2 1287.00,230.7 1288.00,228.5 1289.00,229.3 1290.00,229.0 1291.00,226.0 1292.00,227.6 1293.00,232.2 1294.00,225.1 1295.00,227.7 1296.00,230.9 1297.00,226.3 1298.00,232.8 1299.00,224.6 1300.00,225.6 1301.00,227.8 1302.00,225.5 1303.00,226.9 1304.00,227.6 1305.00,227.2 1306.00,228.7 1307.00,228.8 1308.00,228.5 1309.00,227.9 1310.00,227.3 1311.00,227.8 1312.00,227.7 1313.00,228.7 1314.00,230.8 1315.00,224.4 1316.00,230.9 1317.00,228.1 1318.00,228.3 1319.00,223.9 1320.00,226.3 1321.00,226.7 1322.00,225.3 1323.00,228.3 1324.00,223.3 1325.00,224.4 1326.00,228.7 1327.00,227.2 1328.00,221.2 1329.00,226.5 1330.00,225.3 1331.00,226.9 1332.00,224.6 1333.00,224.9 1334.00,222.3 1335.00,224.8 1336.00,224.2 1337.00,227.0 1338.00,220.2 1339.00,225.9 1340.00,229.3 1341.00,220.3 1342.00,228.6 1343.00,228.2 1344.00,227.1 1345.00,227.5 1346.00,224.3 1347.00,228.4 1348.00,226.5 1349.00,220.5 1350.00,227.1 1351.00,221.9 1352.00,222.2 1353.00,225.8 1354.00,223.4 1355.00,224.8 1356.00,225.4 1357.00,224.8 1358.00,226.6 1359.00,221.6 1360.00,230.9 1361.00,229.1 1362.00,224.9 1363.00,226.1 1364.00,230.7 1365.00,224.2 1366.00,222.1 1367.00,232.3 1368.00,230.2 1369.00,227.5 1370.00,231.0 1371.00,227.6 1372.00,228.3 1373.00,227.9 1374.00,227.9 1375.00,222.8 1376.00,225.2 1377.00,225.6 1378.00,221.3 1379.00,220.3 1380.00,224.1 1381.00,229.2 1382.00,225.0 1383.00,228.8 1384.00,229.8 1385.00,230.5 1386.00,228.4 1387.00,221.7 1388.00,220.4 1389.00,223.0 1390.00,225.0 1391.00,225.3 1392.00,224.4 1393.00,225.0 1394.00,227.7 1395.00,222.9 1396.00,228.0 1397.00,228.0 1398.00,221.8 1399.00,227.1 1400.00,226.7 1401.00,228.4 1402.00,228.4 1403.00,221.2 1404.00,232.3 1405.00,227.3 1406.00,229.6 1407.00,229.3 1408.00,224.0 1409.00,226.4 1410.00,226.2 1411.00,233.0 1412.00,223.5 1413.00,231.6 1414.00,230.0 1415.00,227.5 1416.00,224.8 1417.00,227.0 1418.00,229.3 1419.00,224.8 1420.00,227.9 1421.00,228.9 1422.00,228.9 1423.00,225.8 1424.00,228.3 1425.00,228.3 1426.00,220.6 1427.00,222.6 1428.00,222.0 1429.00,223.8 1430.00,227.9 1431.00,227.2 1432.00,226.9 1433.00,224.4 1434.00,229.1 1435.00,222.5 1436.00,223.5 1437.00,229.9 1438.00,227.7 1439.00,231.9 1440.00,231.4 1441.00,231.8 1442.00,227.1 1443.00,227.8 1444.00,224.8 1445.00,229.5 1446.00,229.0 1447.00,226.9 1448.00,227.3 1449.00,228.1 1450.00,229.6 1451.00,225.0 1452.00,225.0 1453.00,226.6 1454.00,228.5 1455.00,232.3 1456.00,229.9 1457.00,221.2 1458.00,222.8 1459.00,225.3 1460.00,221.4 1461.00,229.5 1462.00,225.2 1463.00,224.1 1464.00,227.2 1465.00,228.7 1466.00,226.9 1467.00,228.0 1468.00,230.7 1469.00,225.3 1470.00,227.7 1471.00,222.1 1472.00,223.5 1473.00,229.2 1474.00,223.8 1475.00,222.7 1476.00,228.2 1477.00,225.1 1478.00,229.5 1479.00,232.7 1480.00,234.0 1481.00,227.9 1482.00,229.3 1483.00,226.7 1484.00,232.9 1485.00,229.6 1486.00,234.4 1487.00,226.6 1488.00,227.7 1489.00,221.9 1490.00,226.0 1491.00,226.2 1492.00,229.3 1493.00,230.7 1494.00,225.7 1495.00,227.5 1496.00,229.4 1497.00,227.4 1498.00,229.4 1499.00,231.7 1500.00,226.1 1501.00,229.1 1502.00,231.8 1503.00,229.2 1504.00,233.7 1505.00,228.9 1506.00,232.5 1507.00,229.8 1508.00,230.5 1509.00,226.7 1510.00,231.1 1511.00,224.7 1512.00,231.2 1513.00,228.8 1514.00,230.0 1515.00,233.3 1516.00,226.4 1517.00,232.8 1518.00,231.6 1519.00,229.2 1520.00,232.8 1521.00,230.5 1522.00,235.7 1523.00,229.2 1524.00,234.4 1525.00,233.6 1526.00,230.4 1527.00,227.1 1528.00,228.5 1529.00,224.6 1530.00,226.6 1531.00,227.1 1532.00,230.1 1533.00,225.6 1534.00,231.0 1535.00,228.8 1536.00,232.7 1537.00,231.7 1538.00,228.5 1539.00,230.9 1540.00,230.8 1541.00,228.8 1542.00,229.3 1543.00,229.4 1544.00,226.8 1545.00,225.9 1546.00,229.6 1547.00,224.0 1548.00,229.7 1549.00,230.2 1550.00,226.5 1551.00,228.5 1552.00,224.9 1553.00,228.3 1554.00,233.2 1555.00,228.7 1556.00,227.6 1557.00,228.1 1558.00,224.8 1559.00,227.0 1560.00,228.3 1561.00,227.6 1562.00,229.6 1563.00,232.8 1564.00,225.9 1565.00,228.0 1566.00,230.5 1567.00,227.4 1568.00,228.5 1569.00,232.6 1570.00,233.3 1571.00,233.0 1572.00,229.3 1573.00,233.2 1574.00,233.8 1575.00,230.2 1576.00,231.4 1577.00,230.3 1578.00,230.3 1579.00,229.5 1580.00,232.0 1581.00,228.7 1582.00,235.3 1583.00,232.4 1584.00,229.9 1585.00,236.4 1586.00,230.8 1587.00,224.2 1588.00,233.1 1589.00,231.9 1590.00,230.1 1591.00,230.5 1592.00,228.9 1593.00,227.4 1594.00,227.9 1595.00,237.2 1596.00,228.9 1597.00,230.6 1598.00,234.7 1599.00,227.6 1600.00,228.9 1601.00,227.6 1602.00,224.9 1603.00,230.2 1604.00,230.5 1605.00,228.3 1606.00,228.3 1607.00,230.6 1608.00,230.7 1609.00,234.0 1610.00,230.6 1611.00,230.7 1612.00,226.8 1613.00,224.8 1614.00,231.9 1615.00,226.3 1616.00,230.4 1617.00,228.9 1618.00,226.5 1619.00,229.4 1620.00,233.5 1621.00,232.8 1622.00,228.2 1623.00,228.9 1624.00,224.4 1625.00,226.9 1626.00,229.0 1627.00,230.9 1628.00,232.6 1629.00,230.7 1630.00,235.6 1631.00,230.4 1632.00,234.0 1633.00,228.8 1634.00,229.8 1635.00,230.6 1636.00,231.5 1637.00,226.9 1638.00,228.0 1639.00,228.9 1640.00,230.5 1641.00,234.0 1642.00,232.4 1643.00,230.1 1644.00,230.1 1645.00,234.1 1646.00,234.4 1647.00,233.5 1648.00,230.7 1649.00,228.3 1650.00,228.3 1651.00,230.3 1652.00,226.8 1653.00,228.8 1654.00,234.5 1655.00,229.4 1656.00,231.0 1657.00,226.6 1658.00,233.3 1659.00,229.0 1660.00,230.5 1661.00,231.2 1662.00,230.5 1663.00,228.5 1664.00,231.1 1665.00,234.5 1666.00,227.8 1667.00,230.6 1668.00,226.2 1669.00,230.6 1670.00,228.8 1671.00,234.8 1672.00,230.6 1673.00,234.1 1674.00,232.6 1675.00,229.2 1676.00,232.5 1677.00,232.3 1678.00,234.3 1679.00,231.7 1680.00,227.2 1681.00,228.9 1682.00,229.9 1683.00,232.7 1684.00,229.6 1685.00,232.6 1686.00,229.6 1687.00,231.4 1688.00,233.1 1689.00,231.0 1690.00,226.3 1691.00,233.7 1692.00,230.2 1693.00,232.8 1694.00,224.4 1695.00,230.6 1696.00,230.5 1697.00,229.4 1698.00,230.3 1699.00,228.0 1700.00,228.1 1701.00,231.8 1702.00,229.9 1703.00,232.4 1704.00,231.8 1705.00,229.2 1706.00,231.4 1707.00,230.8 1708.00,233.3 1709.00,236.6 1710.00,232.0 1711.00,230.3 1712.00,236.8 1713.00,230.1 1714.00,228.6 1715.00,229.1 1716.00,224.6 1717.00,234.4 1718.00,233.4 1719.00,233.6 1720.00,232.3 1721.00,230.6 1722.00,229.6 1723.00,228.7 1724.00,232.5 1725.00,232.8 1726.00,232.3 1727.00,227.4 1728.00,235.6 1729.00,229.1 1730.00,231.6 1731.00,232.0 1732.00,231.3 1733.00,227.2 1734.00,229.6 1735.00,231.2 1736.00,235.0 1737.00,231.1 1738.00,232.9 1739.00,228.7 1740.00,231.1 1741.00,235.4 1742.00,237.2 1743.00,233.6 1744.00,234.3 1745.00,233.4 1746.00,232.3 1747.00,232.5 1748.00,234.5 1749.00,229.8 1750.00,228.2 1751.00,232.3 1752.00,228.9 1753.00,231.1 1754.00,227.0 1755.00,230.0 1756.00,227.9 1757.00,227.2 1758.00,231.1 1759.00,228.3 1760.00,224.6 1761.00,228.0 1762.00,231.3 1763.00,236.8 1764.00,231.6 1765.00,229.4 1766.00,231.0 1767.00,235.2 1768.00,233.4 1769.00,233.7 1770.00,234.0 1771.00,236.6 1772.00,229.5 1773.00,236.3 1774.00,234.6 1775.00,230.7 1776.00,234.9 1777.00,236.4 1778.00,232.1 1779.00,235.2 1780.00,226.9 1781.00,228.3 1782.00,233.6 1783.00,232.7 1784.00,234.4 1785.00,234.1 1786.00,235.2 1787.00,229.4 1788.00,229.5 1789.00,236.3 1790.00,234.3 1791.00,233.6 1792.00,233.1 1793.00,237.8 1794.00,231.5 1795.00,234.1 1796.00,236.6 1797.00,231.0 1798.00,230.8 1799.00,231.2 1800.00,226.5 1801.00,234.2 1802.00,233.6 1803.00,235.5 1804.00,230.4 1805.00,231.3 1806.00,232.6 1807.00,235.7 1808.00,232.9 1809.00,233.9 1810.00,231.5 1811.00,234.7 1812.00,233.7 1813.00,236.3 1814.00,235.5 1815.00,230.5 1816.00,230.6 1817.00,234.2 1818.00,232.1 1819.00,233.8 1820.00,235.8 1821.00,229.5 1822.00,233.7 1823.00,230.0 1824.00,232.3 1825.00,231.9 1826.00,229.2 1827.00,225.9 1828.00,230.6 1829.00,228.4 1830.00,232.5 1831.00,232.9 1832.00,235.7 1833.00,235.3 1834.00,229.5 1835.00,230.6 1836.00,232.5 1837.00,234.1 1838.00,234.8 1839.00,232.1 1840.00,234.4 1841.00,230.8 1842.00,236.0 1843.00,232.1 1844.00,231.9 1845.00,232.1 1846.00,233.4 1847.00,237.1 1848.00,233.7 1849.00,235.4 1850.00,230.9 1851.00,234.3 1852.00,234.4 1853.00,234.8 1854.00,229.9 1855.00,230.1 1856.00,232.5 1857.00,234.0 1858.00,230.4 1859.00,233.0 1860.00,236.8 1861.00,227.9 1862.00,229.9 1863.00,232.8 1864.00,234.8 1865.00,233.7 1866.00,234.8 1867.00,236.8 1868.00,231.7 1869.00,230.5 1870.00,235.9 1871.00,227.8 1872.00,234.8 1873.00,236.5 1874.00,234.4 1875.00,232.8 1876.00,235.1 1877.00,233.8 1878.00,240.0 1879.00,236.2 1880.00,234.4 1881.00,235.0 1882.00,234.9 1883.00,236.0 1884.00,234.5 1885.00,232.0 1886.00,233.7 1887.00,232.0 1888.00,231.6 1889.00,236.1 1890.00,233.8 1891.00,234.6 1892.00,236.4 1893.00,237.0 1894.00,234.7 1895.00,232.8 1896.00,235.7 1897.00,231.8 1898.00,237.5 1899.00,232.3 1900.00,236.2 1901.00,230.5 1902.00,235.8 1903.00,235.4 1904.00,234.5 1905.00,238.1 1906.00,237.4 1907.00,236.9 1908.00,236.0 1909.00,237.0 1910.00,235.8 1911.00,233.0 1912.00,232.8 1913.00,233.8 1914.00,231.1 1915.00,229.0 1916.00,236.0 1917.00,232.4 1918.00,239.3 1919.00,234.2 1920.00,236.0 1921.00,236.2 1922.00,234.7 1923.00,234.0 1924.00,231.1 1925.00,232.7 1926.00,231.9 1927.00,231.6 1928.00,231.3 1929.00,235.6 1930.00,229.9 1931.00,238.9 1932.00,232.7 1933.00,235.7 1934.00,235.4 1935.00,235.7 1936.00,234.3 1937.00,234.0 1938.00,234.4 1939.00,235.9 1940.00,235.1 1941.00,233.4 1942.00,228.8 1943.00,229.9 1944.00,232.4 1945.00,235.2 1946.00,236.0 1947.00,230.9 1948.00,233.3 1949.00,231.0 1950.00,230.6 1951.00,233.8 1952.00,235.5 1953.00,235.2 1954.00,229.2 1955.00,238.6 1956.00,230.1 1957.00,237.8 1958.00,238.5 1959.00,240.3 1960.00,230.6 1961.00,232.7 1962.00,234.6 1963.00,235.6 1964.00,233.5 1965.00,237.7 1966.00,234.0 1967.00,235.4 1968.00,235.0 1969.00,236.7 1970.00,235.8 1971.00,230.3 1972.00,236.1 1973.00,231.2" fill="none" stroke="#ff00ff" stroke-width="9.00" stroke-linejoin="round" stroke-linecap="round"/>
</g>
<ellipse cx="270.3" cy="156" rx="12.5" ry="12.5" fill="#00ff00"/>
<ellipse cx="271.7" cy="408" rx="12.8" ry="12.8" fill="#00ff00"/>
<ellipse cx="271.4" cy="572" rx="13.5" ry="13.5" fill="#00ff00"/>
<ellipse cx="278" cy="803" rx="17.5" ry="17" fill="#00ff00"/>
<ellipse cx="930.4" cy="795.5" rx="13.5" ry="15.5" fill="#40f828"/>
<ellipse cx="1280.4" cy="797.6" rx="12.5" ry="15" fill="#40f828"/>
<ellipse cx="271.7" cy="981.7" rx="13.5" ry="15.8" fill="#40f828"/>
<ellipse cx="595.8" cy="920" rx="13.5" ry="15.8" fill="#40f828"/>
<ellipse cx="818" cy="927.7" rx="13.5" ry="15.8" fill="#40f828"/>
<ellipse cx="930.4" cy="971.7" rx="13.5" ry="15.8" fill="#40f828"/>
<ellipse cx="1097.4" cy="973" rx="13.5" ry="15.8" fill="#40f828"/>
<ellipse cx="1280.3" cy="972.2" rx="13.5" ry="15.8" fill="#40f828"/>
<ellipse cx="1660.5" cy="1048" rx="13.5" ry="15.8" fill="#40f828"/>
<ellipse cx="1767.4" cy="1026.2" rx="13.5" ry="15.8" fill="#40f828"/>
<path d="M303 171.7L320.5 189.2L303 206.7L285.5 189.2Z" fill="#000" stroke="#000" stroke-width="1.5" stroke-linejoin="round"/>
<path d="M670 134.0L687.5 151.5L670 169.0L652.5 151.5Z" fill="#000" stroke="#000" stroke-width="1.5" stroke-linejoin="round"/>
<path d="M747.8 107.5L765.3 125L747.8 142.5L730.3 125Z" fill="#000" stroke="#000" stroke-width="1.5" stroke-linejoin="round"/>
<path d="M303.6 367.9L321.1 385.4L303.6 402.9L286.1 385.4Z" fill="#000" stroke="#000" stroke-width="1.5" stroke-linejoin="round"/>
<path d="M669.4 342.8L686.9 360.3L669.4 377.8L651.9 360.3Z" fill="#000" stroke="#000" stroke-width="1.5" stroke-linejoin="round"/>
<path d="M757.8 316.5L775.3 334L757.8 351.5L740.3 334Z" fill="#000" stroke="#000" stroke-width="1.5" stroke-linejoin="round"/>
<path d="M303.6 603.0L321.1 620.5L303.6 638.0L286.1 620.5Z" fill="#000" stroke="#000" stroke-width="1.5" stroke-linejoin="round"/>
<path d="M669.4 577.4L686.9 594.9L669.4 612.4L651.9 594.9Z" fill="#000" stroke="#000" stroke-width="1.5" stroke-linejoin="round"/>
<path d="M758.5 538.2L776.0 555.7L758.5 573.2L741.0 555.7Z" fill="#000" stroke="#000" stroke-width="1.5" stroke-linejoin="round"/>
<clipPath id="m1"><path d="M521.30 154.00L537.02 180.20L505.58 180.20Z"/></clipPath><path d="M521.30 154.00L537.02 180.20L505.58 180.20Z" fill="#5b9bd5" stroke="#41719c" stroke-width="7.8" stroke-linejoin="miter" stroke-miterlimit="20" clip-path="url(#m1)"/>
<clipPath id="m2"><path d="M948.80 167.80L962.42 190.50L935.18 190.50Z"/></clipPath><path d="M948.80 167.80L962.42 190.50L935.18 190.50Z" fill="#5b9bd5" stroke="#41719c" stroke-width="7.8" stroke-linejoin="miter" stroke-miterlimit="20" clip-path="url(#m2)"/>
<clipPath id="m3"><path d="M512.90 364.00L528.02 389.20L497.78 389.20Z"/></clipPath><path d="M512.90 364.00L528.02 389.20L497.78 389.20Z" fill="#5b9bd5" stroke="#41719c" stroke-width="7.8" stroke-linejoin="miter" stroke-miterlimit="20" clip-path="url(#m3)"/>
<clipPath id="m4"><path d="M942.50 381.70L956.78 405.50L928.22 405.50Z"/></clipPath><path d="M942.50 381.70L956.78 405.50L928.22 405.50Z" fill="#5b9bd5" stroke="#41719c" stroke-width="7.8" stroke-linejoin="miter" stroke-miterlimit="20" clip-path="url(#m4)"/>
<clipPath id="m5"><path d="M514.60 589.00L529.72 614.20L499.48 614.20Z"/></clipPath><path d="M514.60 589.00L529.72 614.20L499.48 614.20Z" fill="#5b9bd5" stroke="#41719c" stroke-width="7.8" stroke-linejoin="miter" stroke-miterlimit="20" clip-path="url(#m5)"/>
<clipPath id="m6"><path d="M942.50 597.90L956.06 620.50L928.94 620.50Z"/></clipPath><path d="M942.50 597.90L956.06 620.50L928.94 620.50Z" fill="#5b9bd5" stroke="#41719c" stroke-width="7.8" stroke-linejoin="miter" stroke-miterlimit="20" clip-path="url(#m6)"/>
<clipPath id="m7"><path d="M519.00 776.50L534.12 801.70L503.88 801.70Z"/></clipPath><path d="M519.00 776.50L534.12 801.70L503.88 801.70Z" fill="#5b9bd5" stroke="#41719c" stroke-width="7.8" stroke-linejoin="miter" stroke-miterlimit="20" clip-path="url(#m7)"/>
<clipPath id="m8"><path d="M756.30 723.90L769.86 746.50L742.74 746.50Z"/></clipPath><path d="M756.30 723.90L769.86 746.50L742.74 746.50Z" fill="#5b9bd5" stroke="#41719c" stroke-width="7.8" stroke-linejoin="miter" stroke-miterlimit="20" clip-path="url(#m8)"/>
<clipPath id="m9"><path d="M951.30 808.00L967.14 834.40L935.46 834.40Z"/></clipPath><path d="M951.30 808.00L967.14 834.40L935.46 834.40Z" fill="#5b9bd5" stroke="#41719c" stroke-width="7.8" stroke-linejoin="miter" stroke-miterlimit="20" clip-path="url(#m9)"/>
<clipPath id="m10"><path d="M1120.90 816.50L1136.74 842.90L1105.06 842.90Z"/></clipPath><path d="M1120.90 816.50L1136.74 842.90L1105.06 842.90Z" fill="#5b9bd5" stroke="#41719c" stroke-width="7.8" stroke-linejoin="miter" stroke-miterlimit="20" clip-path="url(#m10)"/>
<clipPath id="m11"><path d="M1398.20 812.70L1413.98 839.00L1382.42 839.00Z"/></clipPath><path d="M1398.20 812.70L1413.98 839.00L1382.42 839.00Z" fill="#5b9bd5" stroke="#41719c" stroke-width="7.8" stroke-linejoin="miter" stroke-miterlimit="20" clip-path="url(#m11)"/>
<clipPath id="m12"><path d="M599.20 122.00L605.72 141.10L626.80 141.10L609.74 152.90L616.26 172.00L599.20 160.20L582.14 172.00L588.66 152.90L571.60 141.10L592.68 141.10Z"/></clipPath><path d="M599.20 122.00L605.72 141.10L626.80 141.10L609.74 152.90L616.26 172.00L599.20 160.20L582.14 172.00L588.66 152.90L571.60 141.10L592.68 141.10Z" fill="#7030a0" stroke="#41719c" stroke-width="8.4" stroke-linejoin="miter" stroke-miterlimit="20" clip-path="url(#m12)"/>
<clipPath id="m13"><path d="M599.00 338.00L605.52 357.10L626.60 357.10L609.54 368.90L616.06 388.00L599.00 376.20L581.94 388.00L588.46 368.90L571.40 357.10L592.48 357.10Z"/></clipPath><path d="M599.00 338.00L605.52 357.10L626.60 357.10L609.54 368.90L616.06 388.00L599.00 376.20L581.94 388.00L588.46 368.90L571.40 357.10L592.48 357.10Z" fill="#7030a0" stroke="#41719c" stroke-width="8.4" stroke-linejoin="miter" stroke-miterlimit="20" clip-path="url(#m13)"/>
<clipPath id="m14"><path d="M992.80 363.00L999.00 381.18L1019.08 381.18L1002.84 392.42L1009.04 410.60L992.80 399.36L976.56 410.60L982.76 392.42L966.52 381.18L986.60 381.18Z"/></clipPath><path d="M992.80 363.00L999.00 381.18L1019.08 381.18L1002.84 392.42L1009.04 410.60L992.80 399.36L976.56 410.60L982.76 392.42L966.52 381.18L986.60 381.18Z" fill="#7030a0" stroke="#41719c" stroke-width="8.4" stroke-linejoin="miter" stroke-miterlimit="20" clip-path="url(#m14)"/>
<clipPath id="m15"><path d="M1413.50 36.50L1420.15 55.98L1441.65 55.98L1424.25 68.02L1430.90 87.50L1413.50 75.46L1396.10 87.50L1402.75 68.02L1385.35 55.98L1406.85 55.98Z"/></clipPath><path d="M1413.50 36.50L1420.15 55.98L1441.65 55.98L1424.25 68.02L1430.90 87.50L1413.50 75.46L1396.10 87.50L1402.75 68.02L1385.35 55.98L1406.85 55.98Z" fill="#7030a0" stroke="#41719c" stroke-width="8.4" stroke-linejoin="miter" stroke-miterlimit="20" clip-path="url(#m15)"/>
<rect x="1434.5" y="34" width="30" height="60" fill="#fff"/>
<path d="M590.8 1154.3L595.0 1180.6L624.8 1184.8L595.0 1189.0L590.8 1214.8L586.5999999999999 1189.0L556.3 1184.8L586.5999999999999 1180.6Z" fill="#41719c" stroke="#41719c" stroke-width="1" stroke-linejoin="round"/>
<path d="M590.8 1173.8L590.8 1194.8M579.8 1184.8L601.8 1184.8" stroke="#161616" stroke-width="2.6"/>
<rect x="197" y="31" width="1777" height="1300" fill="none" stroke="#000" stroke-width="6.5"/>
<line x1="196.7" y1="1331" x2="196.7" y2="1360" stroke="#000" stroke-width="6"/>
<line x1="323.6" y1="1331" x2="323.6" y2="1347" stroke="#000" stroke-width="6"/>
<line x1="450.5" y1="1331" x2="450.5" y2="1360" stroke="#000" stroke-width="6"/>
<line x1="577.4" y1="1331" x2="577.4" y2="1347" stroke="#000" stroke-width="6"/>
<line x1="704.2" y1="1331" x2="704.2" y2="1360" stroke="#000" stroke-width="6"/>
<line x1="831.1" y1="1331" x2="831.1" y2="1347" stroke="#000" stroke-width="6"/>
<line x1="958.0" y1="1331" x2="958.0" y2="1360" stroke="#000" stroke-width="6"/>
<line x1="1084.9" y1="1331" x2="1084.9" y2="1347" stroke="#000" stroke-width="6"/>
<line x1="1211.8" y1="1331" x2="1211.8" y2="1360" stroke="#000" stroke-width="6"/>
<line x1="1338.7" y1="1331" x2="1338.7" y2="1347" stroke="#000" stroke-width="6"/>
<line x1="1465.5" y1="1331" x2="1465.5" y2="1360" stroke="#000" stroke-width="6"/>
<line x1="1592.4" y1="1331" x2="1592.4" y2="1347" stroke="#000" stroke-width="6"/>
<line x1="1719.3" y1="1331" x2="1719.3" y2="1360" stroke="#000" stroke-width="6"/>
<line x1="1846.2" y1="1331" x2="1846.2" y2="1347" stroke="#000" stroke-width="6"/>
<line x1="1973.1" y1="1331" x2="1973.1" y2="1360" stroke="#000" stroke-width="6"/>
<text x="1435.92" y="88.84" font-family="Liberation Sans, sans-serif" font-size="63.78" fill="#111" textLength="329.20" lengthAdjust="spacingAndGlyphs">Unidentified</text>
<text x="1789.63" y="84.55" font-family="Liberation Sans, sans-serif" font-size="57.86" fill="#111" textLength="174.63" lengthAdjust="spacingAndGlyphs">phase</text>
<text x="1289.24" y="155.89" font-family="Liberation Sans, sans-serif" font-size="68.13" fill="#000" textLength="460.33" lengthAdjust="spacingAndGlyphs">10days-MAPbI</text>
<text x="1751.87" y="184.57" font-family="Liberation Sans, sans-serif" font-size="43.38" fill="#333">3</text>
<text x="1775.70" y="157.44" font-family="Liberation Sans, sans-serif" font-size="70.68" fill="#000" textLength="132.64" lengthAdjust="spacingAndGlyphs">/TiO</text>
<text x="1907.38" y="185.00" font-family="Liberation Sans, sans-serif" font-size="44.00" fill="#333" textLength="22.49" lengthAdjust="spacingAndGlyphs">2</text>
<text x="1423.44" y="367.92" font-family="Liberation Sans, sans-serif" font-size="68.03" fill="#000" textLength="328.13" lengthAdjust="spacingAndGlyphs">2ci-MAPbI</text>
<text x="1751.92" y="395.79" font-family="Liberation Sans, sans-serif" font-size="40.70" fill="#333" textLength="23.31" lengthAdjust="spacingAndGlyphs">3</text>
<text x="1775.70" y="369.23" font-family="Liberation Sans, sans-serif" font-size="71.49" fill="#000" textLength="134.69" lengthAdjust="spacingAndGlyphs">/TiO</text>
<text x="1907.84" y="397.40" font-family="Liberation Sans, sans-serif" font-size="42.14" fill="#333" textLength="24.08" lengthAdjust="spacingAndGlyphs">2</text>
<text x="1427.67" y="589.61" font-family="Liberation Sans, sans-serif" font-size="68.57" fill="#000" textLength="321.88" lengthAdjust="spacingAndGlyphs">1ci-MAPbI</text>
<text x="1751.87" y="617.59" font-family="Liberation Sans, sans-serif" font-size="40.70" fill="#333" textLength="24.02" lengthAdjust="spacingAndGlyphs">3</text>
<text x="1775.70" y="591.13" font-family="Liberation Sans, sans-serif" font-size="71.62" fill="#000">/TiO</text>
<text x="1907.38" y="618.70" font-family="Liberation Sans, sans-serif" font-size="40.57" fill="#333">2</text>
<text x="1659.83" y="807.57" font-family="Liberation Sans, sans-serif" font-size="68.65" fill="#000" textLength="273.15" lengthAdjust="spacingAndGlyphs">PbO/TiO</text>
<text x="1932.76" y="834.80" font-family="Liberation Sans, sans-serif" font-size="43.14" fill="#333" textLength="24.94" lengthAdjust="spacingAndGlyphs">2</text>
<text x="1620.34" y="991.32" font-family="Liberation Sans, sans-serif" font-size="68.30" fill="#222" textLength="104.28" lengthAdjust="spacingAndGlyphs">PbI</text>
<text x="1720.80" y="1006.10" font-family="Liberation Sans, sans-serif" font-size="49.57" fill="#333" textLength="28.97" lengthAdjust="spacingAndGlyphs">2</text>
<text x="1759.60" y="988.07" font-family="Liberation Sans, sans-serif" font-size="68.92" fill="#111" textLength="134.17" lengthAdjust="spacingAndGlyphs">/TiO</text>
<text x="1891.21" y="1015.70" font-family="Liberation Sans, sans-serif" font-size="43.29" fill="#333" textLength="24.32" lengthAdjust="spacingAndGlyphs">2</text>
<text x="1699.64" y="1220.19" font-family="Liberation Sans, sans-serif" font-size="70.61" fill="#000" textLength="114.50" lengthAdjust="spacingAndGlyphs">TiO</text>
<text x="1813.16" y="1246.80" font-family="Liberation Sans, sans-serif" font-size="41.29" fill="#333" textLength="22.74" lengthAdjust="spacingAndGlyphs">2</text>
<text x="306.51" y="573.07" font-family="Liberation Sans, sans-serif" font-size="63.24" fill="#000" textLength="97.49" lengthAdjust="spacingAndGlyphs">110</text>
<text x="591.04" y="545.08" font-family="Liberation Sans, sans-serif" font-size="61.69" fill="#000" textLength="105.50" lengthAdjust="spacingAndGlyphs">220</text>
<text x="700.98" y="523.76" font-family="Liberation Sans, sans-serif" font-size="64.08" fill="#000" textLength="104.94" lengthAdjust="spacingAndGlyphs">310</text>
<text x="404.08" y="814.93" font-family="Liberation Sans, sans-serif" font-size="56.62" fill="#000" textLength="96.09" lengthAdjust="spacingAndGlyphs">110</text>
<text x="637.29" y="762.23" font-family="Liberation Sans, sans-serif" font-size="56.62" fill="#000" textLength="96.94" lengthAdjust="spacingAndGlyphs">200</text>
<text x="964.09" y="824.40" font-family="Liberation Sans, sans-serif" font-size="57.43" fill="#000" textLength="86.94" lengthAdjust="spacingAndGlyphs">121</text>
<text x="1136.69" y="832.23" font-family="Liberation Sans, sans-serif" font-size="56.62" fill="#000" textLength="96.23" lengthAdjust="spacingAndGlyphs">030</text>
<text x="1413.70" y="843.42" font-family="Liberation Sans, sans-serif" font-size="58.17" fill="#000">230</text>
<text x="293.37" y="988.63" font-family="Liberation Sans, sans-serif" font-size="56.62" fill="#000" textLength="88.92" lengthAdjust="spacingAndGlyphs">001</text>
<text x="621.58" y="945.93" font-family="Liberation Sans, sans-serif" font-size="56.62" fill="#000" textLength="96.84" lengthAdjust="spacingAndGlyphs">002</text>
<text x="715.03" y="986.13" font-family="Liberation Sans, sans-serif" font-size="56.62" fill="#000" textLength="95.04" lengthAdjust="spacingAndGlyphs">102</text>
<text x="954.91" y="991.23" font-family="Liberation Sans, sans-serif" font-size="56.62" fill="#000" textLength="93.40" lengthAdjust="spacingAndGlyphs">110</text>
<text x="1111.24" y="991.03" font-family="Liberation Sans, sans-serif" font-size="56.62" fill="#000" textLength="88.12" lengthAdjust="spacingAndGlyphs">101</text>
<text x="1301.31" y="991.03" font-family="Liberation Sans, sans-serif" font-size="56.62" fill="#000" textLength="95.63" lengthAdjust="spacingAndGlyphs">004</text>
<text x="1539.28" y="1081.70" font-family="Liberation Sans, sans-serif" font-size="58.57" fill="#000">212</text>
<text x="1786.23" y="1067.84" font-family="Liberation Sans, sans-serif" font-size="56.06" fill="#000" textLength="90.40" lengthAdjust="spacingAndGlyphs">301</text>
<text x="627.76" y="1200.43" font-family="Liberation Sans, sans-serif" font-size="57.04" fill="#000" textLength="87.58" lengthAdjust="spacingAndGlyphs">101</text>
<text x="1046.85" y="1550.60" font-family="Liberation Sans, sans-serif" font-size="72.00" fill="#000" textLength="39.48" lengthAdjust="spacingAndGlyphs">2</text>
<text x="1087.42" y="1549.98" font-family="Liberation Serif, sans-serif" font-size="62.11" fill="#000" textLength="33.90" lengthAdjust="spacingAndGlyphs">θ</text>
<text x="155.56" y="1430.58" font-family="Liberation Sans, sans-serif" font-size="71.55" fill="#000">10</text>
<text x="410.22" y="1430.58" font-family="Liberation Sans, sans-serif" font-size="71.55" fill="#000">20</text>
<text x="664.35" y="1430.58" font-family="Liberation Sans, sans-serif" font-size="71.55" fill="#000">30</text>
<text x="918.84" y="1430.58" font-family="Liberation Sans, sans-serif" font-size="71.55" fill="#000">40</text>
<text x="1171.89" y="1430.58" font-family="Liberation Sans, sans-serif" font-size="71.55" fill="#000">50</text>
<text x="1425.30" y="1430.58" font-family="Liberation Sans, sans-serif" font-size="71.55" fill="#000">60</text>
<text x="1679.07" y="1430.58" font-family="Liberation Sans, sans-serif" font-size="71.55" fill="#000">70</text>
<text x="1933.02" y="1430.58" font-family="Liberation Sans, sans-serif" font-size="71.55" fill="#000">80</text>
<text transform="translate(74.8,917.65) rotate(-90)" x="0" y="0" font-family="Liberation Sans, sans-serif" font-size="70" fill="#000" textLength="427.71" lengthAdjust="spacingAndGlyphs">Intensity(a.u.)</text>
</svg>
</body></html>
